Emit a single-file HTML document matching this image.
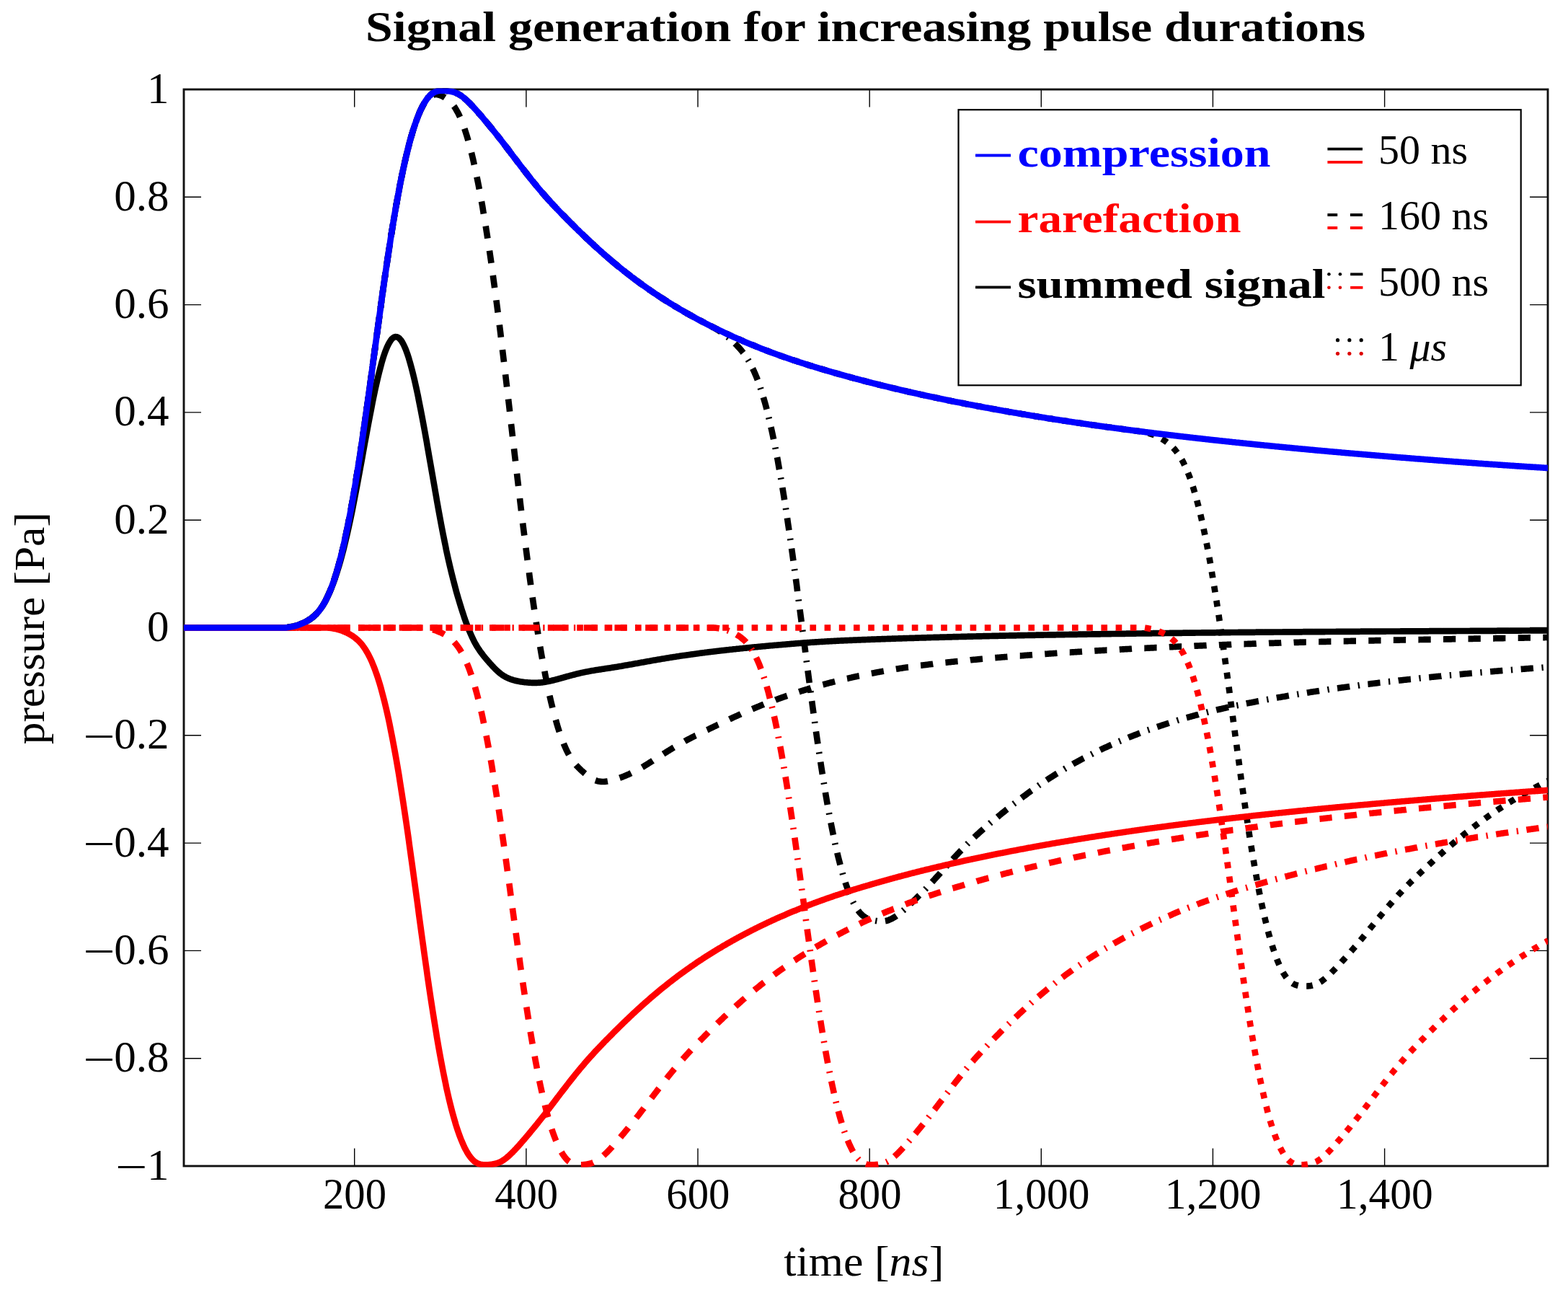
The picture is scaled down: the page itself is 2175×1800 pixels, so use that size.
<!DOCTYPE html>
<html><head><meta charset="utf-8"><style>
html,body{margin:0;padding:0;background:#fff;}
svg{display:block;}
text{font-family:"Liberation Serif",serif;}
</style></head><body>
<svg width="2175" height="1800" viewBox="0 0 2175 1800">
<rect width="2175" height="1800" fill="#fff"/>
<text x="1200.6" y="56.6" text-anchor="middle" font-weight="bold" font-size="58.5" textLength="1387" lengthAdjust="spacingAndGlyphs">Signal generation for increasing pulse durations</text>
<g font-size="61" fill="#000">
<text x="234.5" y="1635.5" text-anchor="end">1</text>
<text x="160.0" y="1639.0" textLength="44.5" lengthAdjust="spacingAndGlyphs">−</text>
<text x="234.5" y="1486.2" text-anchor="end">0.8</text>
<text x="115.2" y="1489.7" textLength="44.5" lengthAdjust="spacingAndGlyphs">−</text>
<text x="234.5" y="1336.9" text-anchor="end">0.6</text>
<text x="115.2" y="1340.4" textLength="44.5" lengthAdjust="spacingAndGlyphs">−</text>
<text x="234.5" y="1187.6" text-anchor="end">0.4</text>
<text x="115.2" y="1191.1" textLength="44.5" lengthAdjust="spacingAndGlyphs">−</text>
<text x="234.5" y="1038.3" text-anchor="end">0.2</text>
<text x="115.2" y="1041.8" textLength="44.5" lengthAdjust="spacingAndGlyphs">−</text>
<text x="234.5" y="889.0" text-anchor="end">0</text>
<text x="234.5" y="739.7" text-anchor="end">0.2</text>
<text x="234.5" y="590.4" text-anchor="end">0.4</text>
<text x="234.5" y="441.1" text-anchor="end">0.6</text>
<text x="234.5" y="291.8" text-anchor="end">0.8</text>
<text x="234.5" y="142.5" text-anchor="end">1</text>
<text x="492.0" y="1676" text-anchor="middle" textLength="88.0" lengthAdjust="spacingAndGlyphs">200</text>
<text x="730.2" y="1676" text-anchor="middle" textLength="88.0" lengthAdjust="spacingAndGlyphs">400</text>
<text x="968.3" y="1676" text-anchor="middle" textLength="88.0" lengthAdjust="spacingAndGlyphs">600</text>
<text x="1206.5" y="1676" text-anchor="middle" textLength="88.0" lengthAdjust="spacingAndGlyphs">800</text>
<text x="1444.6" y="1676" text-anchor="middle" textLength="133.8" lengthAdjust="spacingAndGlyphs">1,000</text>
<text x="1682.7" y="1676" text-anchor="middle" textLength="133.8" lengthAdjust="spacingAndGlyphs">1,200</text>
<text x="1920.9" y="1676" text-anchor="middle" textLength="133.8" lengthAdjust="spacingAndGlyphs">1,400</text>
</g>
<text x="1198.3" y="1769.3" text-anchor="middle" font-size="60" textLength="222" lengthAdjust="spacingAndGlyphs">time [<tspan font-style="italic">ns</tspan>]</text>
<text transform="translate(60.6,871.3) rotate(-90)" text-anchor="middle" font-size="60" textLength="322" lengthAdjust="spacingAndGlyphs">pressure [Pa]</text>
<path d="M255,1617.0 H279 M2147,1617.0 H2122 M255,1467.7 H279 M2147,1467.7 H2122 M255,1318.4 H279 M2147,1318.4 H2122 M255,1169.1 H279 M2147,1169.1 H2122 M255,1019.8 H279 M2147,1019.8 H2122 M255,870.5 H279 M2147,870.5 H2122 M255,721.2 H279 M2147,721.2 H2122 M255,571.9 H279 M2147,571.9 H2122 M255,422.6 H279 M2147,422.6 H2122 M255,273.3 H279 M2147,273.3 H2122 M255,124.0 H279 M2147,124.0 H2122 M491.7,1617 V1592.5 M491.7,124 V148.5 M729.9,1617 V1592.5 M729.9,124 V148.5 M968.0,1617 V1592.5 M968.0,124 V148.5 M1206.2,1617 V1592.5 M1206.2,124 V148.5 M1444.3,1617 V1592.5 M1444.3,124 V148.5 M1682.4,1617 V1592.5 M1682.4,124 V148.5 M1920.6,1617 V1592.5 M1920.6,124 V148.5" stroke="#000" stroke-width="1.4" fill="none"/>
<rect x="255" y="124" width="1892" height="1493" fill="none" stroke="#111" stroke-width="2.9"/>
<svg x="255" y="122.5" width="1892" height="1496" viewBox="255 122.5 1892 1496" overflow="hidden">
<g fill="none" stroke-width="8.66" stroke-linejoin="round">
<path d="M254.8,870.5 L256.0,870.5 L257.2,870.5 L258.4,870.5 L259.6,870.5 L260.7,870.5 L261.9,870.5 L263.1,870.5 L264.3,870.5 L265.5,870.5 L266.7,870.5 L267.9,870.5 L269.1,870.5 L270.3,870.5 L271.5,870.5 L272.7,870.5 L273.8,870.5 L275.0,870.5 L276.2,870.5 L277.4,870.5 L278.6,870.5 L279.8,870.5 L281.0,870.5 L282.2,870.5 L283.4,870.5 L284.6,870.5 L285.7,870.5 L286.9,870.5 L288.1,870.5 L289.3,870.5 L290.5,870.5 L291.7,870.5 L292.9,870.5 L294.1,870.5 L295.3,870.5 L296.5,870.5 L297.7,870.5 L298.8,870.5 L300.0,870.5 L301.2,870.5 L302.4,870.5 L303.6,870.5 L304.8,870.5 L306.0,870.5 L307.2,870.5 L308.4,870.5 L309.6,870.5 L310.8,870.5 L311.9,870.5 L313.1,870.5 L314.3,870.5 L315.5,870.5 L316.7,870.5 L317.9,870.5 L319.1,870.5 L320.3,870.5 L321.5,870.5 L322.7,870.5 L323.9,870.5 L325.0,870.5 L326.2,870.5 L327.4,870.5 L328.6,870.5 L329.8,870.5 L331.0,870.5 L332.2,870.5 L333.4,870.5 L334.6,870.5 L335.8,870.5 L336.9,870.5 L338.1,870.5 L339.3,870.5 L340.5,870.5 L341.7,870.5 L342.9,870.5 L344.1,870.5 L345.3,870.5 L346.5,870.5 L347.7,870.5 L348.9,870.5 L350.0,870.5 L351.2,870.5 L352.4,870.5 L353.6,870.5 L354.8,870.5 L356.0,870.5 L357.2,870.5 L358.4,870.5 L359.6,870.5 L360.8,870.5 L362.0,870.5 L363.1,870.5 L364.3,870.5 L365.5,870.5 L366.7,870.5 L367.9,870.5 L369.1,870.5 L370.3,870.5 L371.5,870.5 L372.7,870.5 L373.9,870.5 L375.1,870.5 L376.2,870.5 L377.4,870.5 L378.6,870.5 L379.8,870.5 L381.0,870.5 L382.2,870.5 L383.4,870.5 L384.6,870.5 L385.8,870.5 L387.0,870.5 L388.1,870.5 L389.3,870.5 L390.5,870.5 L391.7,870.5 L392.9,870.5 L394.1,870.5 L395.3,870.5 L396.5,870.4 L397.7,870.2 L398.9,870.1 L400.1,869.9 L401.2,869.7 L402.4,869.5 L403.6,869.3 L404.8,869.1 L406.0,868.9 L407.2,868.6 L408.4,868.3 L409.6,868.0 L410.8,867.6 L412.0,867.3 L413.2,866.9 L414.3,866.5 L415.5,866.1 L416.7,865.6 L417.9,865.1 L419.1,864.6 L420.3,864.1 L421.5,863.5 L422.7,862.9 L423.9,862.3 L425.1,861.7 L426.3,861.0 L427.4,860.3 L428.6,859.6 L429.8,858.8 L431.0,858.0 L432.2,857.1 L433.4,856.2 L434.6,855.2 L435.8,854.2 L437.0,853.1 L438.2,852.0 L439.3,850.8 L440.5,849.4 L441.7,848.1 L442.9,846.6 L444.1,845.0 L445.3,843.4 L446.5,841.6 L447.7,839.8 L448.9,837.8 L450.1,835.8 L451.3,833.6 L452.4,831.3 L453.6,828.9 L454.8,826.4 L456.0,823.9 L457.2,821.3 L458.4,818.5 L459.6,815.7 L460.8,812.7 L462.0,809.6 L463.2,806.3 L464.4,803.0 L465.5,799.5 L466.7,795.9 L467.9,792.2 L469.1,788.3 L470.3,784.4 L471.5,780.3 L472.7,776.0 L473.9,771.7 L475.1,767.2 L476.3,762.6 L477.5,757.8 L478.6,753.0 L479.8,748.0 L481.0,742.9 L482.2,737.7 L483.4,732.3 L484.6,726.9 L485.8,721.3 L487.0,715.6 L488.2,709.8 L489.4,703.9 L490.5,697.9 L491.7,691.8 L492.9,685.7 L494.1,679.4 L495.3,673.1 L496.5,666.7 L497.7,660.3 L498.9,653.8 L500.1,647.3 L501.3,640.8 L502.5,634.3 L503.6,627.7 L504.8,621.2 L506.0,614.6 L507.2,608.1 L508.4,601.6 L509.6,595.2 L510.8,588.8 L512.0,582.5 L513.2,576.2 L514.4,570.1 L515.6,564.0 L516.7,558.0 L517.9,552.1 L519.1,546.4 L520.3,540.7 L521.5,535.3 L522.7,530.0 L523.9,524.8 L525.1,519.8 L526.3,515.0 L527.5,510.4 L528.7,505.9 L529.8,501.7 L531.0,497.7 L532.2,493.9 L533.4,490.4 L534.6,487.1 L535.8,484.0 L537.0,481.1 L538.2,478.6 L539.4,476.2 L540.6,474.2 L541.7,472.4 L542.9,470.8 L544.1,469.5 L545.3,468.5 L546.5,467.8 L547.7,467.3 L548.9,467.1 L550.1,467.2 L551.3,467.5 L552.5,468.1 L553.7,469.0 L554.8,470.2 L556.0,471.6 L557.2,473.3 L558.4,475.3 L559.6,477.5 L560.8,480.0 L562.0,482.7 L563.2,485.7 L564.4,488.9 L565.6,492.3 L566.8,496.0 L567.9,499.9 L569.1,504.0 L570.3,508.4 L571.5,512.9 L572.7,517.6 L573.9,522.5 L575.1,527.6 L576.3,532.9 L577.5,538.3 L578.7,543.8 L579.9,549.5 L581.0,555.4 L582.2,561.3 L583.4,567.4 L584.6,573.6 L585.8,579.9 L587.0,586.3 L588.2,592.8 L589.4,599.3 L590.6,605.9 L591.8,612.6 L592.9,619.3 L594.1,626.1 L595.3,632.9 L596.5,639.7 L597.7,646.5 L598.9,653.4 L600.1,660.3 L601.3,667.2 L602.5,674.0 L603.7,680.9 L604.9,687.7 L606.0,694.4 L607.2,701.1 L608.4,707.8 L609.6,714.3 L610.8,720.8 L612.0,727.2 L613.2,733.5 L614.4,739.7 L615.6,745.7 L616.8,751.6 L618.0,757.4 L619.1,763.1 L620.3,768.6 L621.5,774.1 L622.7,779.3 L623.9,784.5 L625.1,789.5 L626.3,794.5 L627.5,799.3 L628.7,804.0 L629.9,808.6 L631.1,813.1 L632.2,817.5 L633.4,821.8 L634.6,826.0 L635.8,830.1 L637.0,834.1 L638.2,838.1 L639.4,841.9 L640.6,845.7 L641.8,849.4 L643.0,853.0 L644.1,856.5 L645.3,859.9 L646.5,863.2 L647.7,866.4 L648.9,869.6 L650.1,872.6 L651.3,875.5 L652.5,878.3 L653.7,881.0 L654.9,883.6 L656.1,886.1 L657.2,888.5 L658.4,890.8 L659.6,892.9 L660.8,895.0 L662.0,897.0 L663.2,898.9 L664.4,900.7 L665.6,902.5 L666.8,904.2 L668.0,905.8 L669.2,907.3 L670.3,908.9 L671.5,910.4 L672.7,911.8 L673.9,913.2 L675.1,914.6 L676.3,916.0 L677.5,917.4 L678.7,918.7 L679.9,920.1 L681.1,921.4 L682.3,922.7 L683.4,924.0 L684.6,925.3 L685.8,926.5 L687.0,927.7 L688.2,928.9 L689.4,930.0 L690.6,931.1 L691.8,932.1 L693.0,933.1 L694.2,934.1 L695.3,935.0 L696.5,935.8 L697.7,936.6 L698.9,937.4 L700.1,938.1 L701.3,938.8 L702.5,939.4 L703.7,940.0 L704.9,940.5 L706.1,941.0 L707.3,941.5 L708.4,941.9 L709.6,942.3 L710.8,942.7 L712.0,943.1 L713.2,943.4 L714.4,943.7 L715.6,944.0 L716.8,944.3 L718.0,944.6 L719.2,944.8 L720.4,945.0 L721.5,945.2 L722.7,945.4 L723.9,945.6 L725.1,945.8 L726.3,945.9 L727.5,946.1 L728.7,946.2 L729.9,946.3 L731.1,946.4 L732.3,946.5 L733.5,946.6 L734.6,946.7 L735.8,946.7 L737.0,946.8 L738.2,946.8 L739.4,946.8 L740.6,946.9 L741.8,946.9 L743.0,946.9 L744.2,946.8 L745.4,946.8 L746.5,946.7 L747.7,946.7 L748.9,946.6 L750.1,946.5 L751.3,946.4 L752.5,946.2 L753.7,946.1 L754.9,945.9 L756.1,945.7 L757.3,945.5 L758.5,945.3 L759.6,945.1 L760.8,944.9 L762.0,944.6 L763.2,944.4 L764.4,944.1 L765.6,943.8 L766.8,943.5 L768.0,943.2 L769.2,942.9 L770.4,942.6 L771.6,942.3 L772.7,942.0 L773.9,941.7 L775.1,941.3 L776.3,941.0 L777.5,940.7 L778.7,940.3 L779.9,940.0 L781.1,939.7 L782.3,939.3 L783.5,939.0 L784.7,938.7 L785.8,938.3 L787.0,938.0 L788.2,937.7 L789.4,937.4 L790.6,937.0 L791.8,936.7 L793.0,936.4 L794.2,936.1 L795.4,935.8 L796.6,935.5 L797.7,935.2 L798.9,934.8 L800.1,934.6 L801.3,934.3 L802.5,934.0 L803.7,933.7 L804.9,933.4 L806.1,933.1 L807.3,932.9 L808.5,932.6 L809.7,932.4 L810.8,932.1 L812.0,931.9 L813.2,931.6 L814.4,931.4 L815.6,931.2 L816.8,930.9 L818.0,930.7 L819.2,930.5 L820.4,930.3 L821.6,930.1 L822.8,929.9 L823.9,929.7 L825.1,929.5 L826.3,929.3 L827.5,929.1 L828.7,928.9 L829.9,928.7 L831.1,928.5 L832.3,928.4 L833.5,928.2 L834.7,928.0 L835.9,927.8 L837.0,927.7 L838.2,927.5 L839.4,927.3 L840.6,927.1 L841.8,926.9 L843.0,926.8 L844.2,926.6 L845.4,926.4 L846.6,926.2 L847.8,926.0 L849.0,925.8 L850.1,925.6 L851.3,925.5 L852.5,925.3 L853.7,925.1 L854.9,924.9 L856.1,924.7 L857.3,924.5 L858.5,924.3 L859.7,924.1 L860.9,923.9 L862.0,923.7 L863.2,923.5 L864.4,923.2 L865.6,923.0 L866.8,922.8 L868.0,922.6 L869.2,922.4 L870.4,922.2 L871.6,922.0 L872.8,921.8 L874.0,921.6 L875.1,921.4 L876.3,921.2 L877.5,920.9 L878.7,920.7 L879.9,920.5 L881.1,920.3 L882.3,920.1 L883.5,919.9 L884.7,919.7 L885.9,919.4 L887.1,919.2 L888.2,919.0 L889.4,918.8 L890.6,918.6 L891.8,918.4 L893.0,918.2 L894.2,917.9 L895.4,917.7 L896.6,917.5 L897.8,917.3 L899.0,917.1 L900.2,916.9 L901.3,916.7 L902.5,916.4 L903.7,916.2 L904.9,916.0 L906.1,915.8 L907.3,915.6 L908.5,915.4 L909.7,915.2 L910.9,915.0 L912.1,914.8 L913.2,914.6 L914.4,914.4 L915.6,914.2 L916.8,914.0 L918.0,913.8 L919.2,913.6 L920.4,913.4 L921.6,913.2 L922.8,913.0 L924.0,912.8 L925.2,912.6 L926.3,912.4 L927.5,912.2 L928.7,912.0 L929.9,911.8 L931.1,911.6 L932.3,911.5 L933.5,911.3 L934.7,911.1 L935.9,910.9 L937.1,910.7 L938.3,910.5 L939.4,910.3 L940.6,910.2 L941.8,910.0 L943.0,909.8 L944.2,909.6 L945.4,909.4 L946.6,909.3 L947.8,909.1 L949.0,908.9 L950.2,908.7 L951.4,908.6 L952.5,908.4 L953.7,908.2 L954.9,908.1 L956.1,907.9 L957.3,907.7 L958.5,907.5 L959.7,907.4 L960.9,907.2 L962.1,907.1 L963.3,906.9 L964.4,906.7 L965.6,906.6 L966.8,906.4 L968.0,906.2 L969.2,906.1 L970.4,905.9 L971.6,905.8 L972.8,905.6 L974.0,905.5 L975.2,905.3 L976.4,905.2 L977.5,905.0 L978.7,904.8 L979.9,904.7 L981.1,904.5 L982.3,904.4 L983.5,904.3 L984.7,904.1 L985.9,904.0 L987.1,903.8 L988.3,903.7 L989.5,903.5 L990.6,903.4 L991.8,903.2 L993.0,903.1 L994.2,903.0 L995.4,902.8 L996.6,902.7 L997.8,902.5 L999.0,902.4 L1000.2,902.3 L1001.4,902.1 L1002.6,902.0 L1003.7,901.9 L1004.9,901.7 L1006.1,901.6 L1007.3,901.5 L1008.5,901.3 L1009.7,901.2 L1010.9,901.1 L1012.1,900.9 L1013.3,900.8 L1014.5,900.7 L1015.6,900.6 L1016.8,900.4 L1018.0,900.3 L1019.2,900.2 L1020.4,900.1 L1021.6,899.9 L1022.8,899.8 L1024.0,899.7 L1025.2,899.6 L1026.4,899.4 L1027.6,899.3 L1028.7,899.2 L1029.9,899.1 L1031.1,898.9 L1032.3,898.8 L1033.5,898.7 L1034.7,898.6 L1035.9,898.5 L1037.1,898.3 L1038.3,898.2 L1039.5,898.1 L1040.7,898.0 L1041.8,897.9 L1043.0,897.8 L1044.2,897.6 L1045.4,897.5 L1046.6,897.4 L1047.8,897.3 L1049.0,897.2 L1050.2,897.1 L1051.4,897.0 L1052.6,896.8 L1053.8,896.7 L1054.9,896.6 L1056.1,896.5 L1057.3,896.4 L1058.5,896.3 L1059.7,896.2 L1060.9,896.1 L1062.1,896.0 L1063.3,895.8 L1064.5,895.7 L1065.7,895.6 L1066.8,895.5 L1068.0,895.4 L1069.2,895.3 L1070.4,895.2 L1071.6,895.1 L1072.8,895.0 L1074.0,894.9 L1075.2,894.8 L1076.4,894.7 L1077.6,894.6 L1078.8,894.5 L1079.9,894.4 L1081.1,894.3 L1082.3,894.2 L1083.5,894.1 L1084.7,894.0 L1085.9,893.9 L1087.1,893.8 L1088.3,893.7 L1089.5,893.6 L1090.7,893.5 L1091.9,893.4 L1093.0,893.3 L1094.2,893.2 L1095.4,893.1 L1096.6,893.0 L1097.8,892.9 L1099.0,892.8 L1100.2,892.7 L1101.4,892.6 L1102.6,892.5 L1103.8,892.4 L1105.0,892.3 L1106.1,892.2 L1107.3,892.1 L1108.5,892.0 L1109.7,892.0 L1110.9,891.9 L1112.1,891.8 L1113.3,891.7 L1114.5,891.6 L1115.7,891.5 L1116.9,891.4 L1118.0,891.3 L1119.2,891.2 L1120.4,891.2 L1121.6,891.1 L1122.8,891.0 L1124.0,890.9 L1125.2,890.8 L1126.4,890.7 L1127.6,890.7 L1128.8,890.6 L1130.0,890.5 L1131.1,890.4 L1132.3,890.4 L1133.5,890.3 L1134.7,890.2 L1135.9,890.1 L1137.1,890.0 L1138.3,890.0 L1139.5,889.9 L1140.7,889.8 L1141.9,889.8 L1143.1,889.7 L1144.2,889.6 L1145.4,889.5 L1146.6,889.5 L1147.8,889.4 L1149.0,889.3 L1150.2,889.3 L1151.4,889.2 L1152.6,889.1 L1153.8,889.1 L1155.0,889.0 L1156.2,889.0 L1157.3,888.9 L1158.5,888.8 L1159.7,888.8 L1160.9,888.7 L1162.1,888.7 L1163.3,888.6 L1164.5,888.5 L1165.7,888.5 L1166.9,888.4 L1168.1,888.4 L1169.2,888.3 L1170.4,888.3 L1171.6,888.2 L1172.8,888.2 L1174.0,888.1 L1175.2,888.1 L1176.4,888.0 L1177.6,888.0 L1178.8,887.9 L1180.0,887.9 L1181.2,887.8 L1182.3,887.8 L1183.5,887.7 L1184.7,887.7 L1185.9,887.6 L1187.1,887.6 L1188.3,887.5 L1189.5,887.5 L1190.7,887.4 L1191.9,887.4 L1193.1,887.3 L1194.3,887.3 L1195.4,887.2 L1196.6,887.2 L1197.8,887.1 L1199.0,887.1 L1200.2,887.1 L1201.4,887.0 L1202.6,887.0 L1203.8,886.9 L1205.0,886.9 L1206.2,886.8 L1207.4,886.8 L1208.5,886.7 L1209.7,886.7 L1210.9,886.7 L1212.1,886.6 L1213.3,886.6 L1214.5,886.5 L1215.7,886.5 L1216.9,886.4 L1218.1,886.4 L1219.3,886.4 L1220.4,886.3 L1221.6,886.3 L1222.8,886.2 L1224.0,886.2 L1225.2,886.2 L1226.4,886.1 L1227.6,886.1 L1228.8,886.0 L1230.0,886.0 L1231.2,885.9 L1232.4,885.9 L1233.5,885.9 L1234.7,885.8 L1235.9,885.8 L1237.1,885.7 L1238.3,885.7 L1239.5,885.7 L1240.7,885.6 L1241.9,885.6 L1243.1,885.5 L1244.3,885.5 L1245.5,885.5 L1246.6,885.4 L1247.8,885.4 L1249.0,885.4 L1250.2,885.3 L1251.4,885.3 L1252.6,885.2 L1253.8,885.2 L1255.0,885.2 L1256.2,885.1 L1257.4,885.1 L1258.6,885.0 L1259.7,885.0 L1260.9,885.0 L1262.1,884.9 L1263.3,884.9 L1264.5,884.9 L1265.7,884.8 L1266.9,884.8 L1268.1,884.8 L1269.3,884.7 L1270.5,884.7 L1271.6,884.6 L1272.8,884.6 L1274.0,884.6 L1275.2,884.5 L1276.4,884.5 L1277.6,884.5 L1278.8,884.4 L1280.0,884.4 L1281.2,884.4 L1282.4,884.3 L1283.6,884.3 L1284.7,884.3 L1285.9,884.2 L1287.1,884.2 L1288.3,884.2 L1289.5,884.1 L1290.7,884.1 L1291.9,884.0 L1293.1,884.0 L1294.3,884.0 L1295.5,883.9 L1296.7,883.9 L1297.8,883.9 L1299.0,883.8 L1300.2,883.8 L1301.4,883.8 L1302.6,883.8 L1303.8,883.7 L1305.0,883.7 L1306.2,883.7 L1307.4,883.6 L1308.6,883.6 L1309.8,883.6 L1310.9,883.5 L1312.1,883.5 L1313.3,883.5 L1314.5,883.4 L1315.7,883.4 L1316.9,883.4 L1318.1,883.3 L1319.3,883.3 L1320.5,883.3 L1321.7,883.2 L1322.8,883.2 L1324.0,883.2 L1325.2,883.2 L1326.4,883.1 L1327.6,883.1 L1328.8,883.1 L1330.0,883.0 L1331.2,883.0 L1332.4,883.0 L1333.6,882.9 L1334.8,882.9 L1335.9,882.9 L1337.1,882.9 L1338.3,882.8 L1339.5,882.8 L1340.7,882.8 L1341.9,882.7 L1343.1,882.7 L1344.3,882.7 L1345.5,882.7 L1346.7,882.6 L1347.9,882.6 L1349.0,882.6 L1350.2,882.5 L1351.4,882.5 L1352.6,882.5 L1353.8,882.5 L1355.0,882.4 L1356.2,882.4 L1357.4,882.4 L1358.6,882.3 L1359.8,882.3 L1361.0,882.3 L1362.1,882.3 L1363.3,882.2 L1364.5,882.2 L1365.7,882.2 L1366.9,882.2 L1368.1,882.1 L1369.3,882.1 L1370.5,882.1 L1371.7,882.1 L1372.9,882.0 L1374.0,882.0 L1375.2,882.0 L1376.4,881.9 L1377.6,881.9 L1378.8,881.9 L1380.0,881.9 L1381.2,881.8 L1382.4,881.8 L1383.6,881.8 L1384.8,881.8 L1386.0,881.7 L1387.1,881.7 L1388.3,881.7 L1389.5,881.7 L1390.7,881.6 L1391.9,881.6 L1393.1,881.6 L1394.3,881.6 L1395.5,881.5 L1396.7,881.5 L1397.9,881.5 L1399.1,881.5 L1400.2,881.4 L1401.4,881.4 L1402.6,881.4 L1403.8,881.4 L1405.0,881.4 L1406.2,881.3 L1407.4,881.3 L1408.6,881.3 L1409.8,881.3 L1411.0,881.2 L1412.2,881.2 L1413.3,881.2 L1414.5,881.2 L1415.7,881.1 L1416.9,881.1 L1418.1,881.1 L1419.3,881.1 L1420.5,881.1 L1421.7,881.0 L1422.9,881.0 L1424.1,881.0 L1425.2,881.0 L1426.4,880.9 L1427.6,880.9 L1428.8,880.9 L1430.0,880.9 L1431.2,880.9 L1432.4,880.8 L1433.6,880.8 L1434.8,880.8 L1436.0,880.8 L1437.2,880.7 L1438.3,880.7 L1439.5,880.7 L1440.7,880.7 L1441.9,880.7 L1443.1,880.6 L1444.3,880.6 L1445.5,880.6 L1446.7,880.6 L1447.9,880.5 L1449.1,880.5 L1450.3,880.5 L1451.4,880.5 L1452.6,880.5 L1453.8,880.4 L1455.0,880.4 L1456.2,880.4 L1457.4,880.4 L1458.6,880.4 L1459.8,880.3 L1461.0,880.3 L1462.2,880.3 L1463.4,880.3 L1464.5,880.3 L1465.7,880.2 L1466.9,880.2 L1468.1,880.2 L1469.3,880.2 L1470.5,880.2 L1471.7,880.1 L1472.9,880.1 L1474.1,880.1 L1475.3,880.1 L1476.4,880.1 L1477.6,880.0 L1478.8,880.0 L1480.0,880.0 L1481.2,880.0 L1482.4,880.0 L1483.6,879.9 L1484.8,879.9 L1486.0,879.9 L1487.2,879.9 L1488.4,879.9 L1489.5,879.8 L1490.7,879.8 L1491.9,879.8 L1493.1,879.8 L1494.3,879.8 L1495.5,879.7 L1496.7,879.7 L1497.9,879.7 L1499.1,879.7 L1500.3,879.7 L1501.5,879.6 L1502.6,879.6 L1503.8,879.6 L1505.0,879.6 L1506.2,879.6 L1507.4,879.6 L1508.6,879.5 L1509.8,879.5 L1511.0,879.5 L1512.2,879.5 L1513.4,879.5 L1514.6,879.4 L1515.7,879.4 L1516.9,879.4 L1518.1,879.4 L1519.3,879.4 L1520.5,879.4 L1521.7,879.3 L1522.9,879.3 L1524.1,879.3 L1525.3,879.3 L1526.5,879.3 L1527.6,879.2 L1528.8,879.2 L1530.0,879.2 L1531.2,879.2 L1532.4,879.2 L1533.6,879.2 L1534.8,879.1 L1536.0,879.1 L1537.2,879.1 L1538.4,879.1 L1539.6,879.1 L1540.7,879.1 L1541.9,879.0 L1543.1,879.0 L1544.3,879.0 L1545.5,879.0 L1546.7,879.0 L1547.9,878.9 L1549.1,878.9 L1550.3,878.9 L1551.5,878.9 L1552.7,878.9 L1553.8,878.9 L1555.0,878.8 L1556.2,878.8 L1557.4,878.8 L1558.6,878.8 L1559.8,878.8 L1561.0,878.8 L1562.2,878.7 L1563.4,878.7 L1564.6,878.7 L1565.8,878.7 L1566.9,878.7 L1568.1,878.7 L1569.3,878.6 L1570.5,878.6 L1571.7,878.6 L1572.9,878.6 L1574.1,878.6 L1575.3,878.6 L1576.5,878.5 L1577.7,878.5 L1578.8,878.5 L1580.0,878.5 L1581.2,878.5 L1582.4,878.5 L1583.6,878.5 L1584.8,878.4 L1586.0,878.4 L1587.2,878.4 L1588.4,878.4 L1589.6,878.4 L1590.8,878.4 L1591.9,878.3 L1593.1,878.3 L1594.3,878.3 L1595.5,878.3 L1596.7,878.3 L1597.9,878.3 L1599.1,878.2 L1600.3,878.2 L1601.5,878.2 L1602.7,878.2 L1603.9,878.2 L1605.0,878.2 L1606.2,878.2 L1607.4,878.1 L1608.6,878.1 L1609.8,878.1 L1611.0,878.1 L1612.2,878.1 L1613.4,878.1 L1614.6,878.1 L1615.8,878.0 L1617.0,878.0 L1618.1,878.0 L1619.3,878.0 L1620.5,878.0 L1621.7,878.0 L1622.9,877.9 L1624.1,877.9 L1625.3,877.9 L1626.5,877.9 L1627.7,877.9 L1628.9,877.9 L1630.0,877.9 L1631.2,877.8 L1632.4,877.8 L1633.6,877.8 L1634.8,877.8 L1636.0,877.8 L1637.2,877.8 L1638.4,877.8 L1639.6,877.8 L1640.8,877.7 L1642.0,877.7 L1643.1,877.7 L1644.3,877.7 L1645.5,877.7 L1646.7,877.7 L1647.9,877.7 L1649.1,877.6 L1650.3,877.6 L1651.5,877.6 L1652.7,877.6 L1653.9,877.6 L1655.1,877.6 L1656.2,877.6 L1657.4,877.6 L1658.6,877.5 L1659.8,877.5 L1661.0,877.5 L1662.2,877.5 L1663.4,877.5 L1664.6,877.5 L1665.8,877.5 L1667.0,877.4 L1668.2,877.4 L1669.3,877.4 L1670.5,877.4 L1671.7,877.4 L1672.9,877.4 L1674.1,877.4 L1675.3,877.4 L1676.5,877.4 L1677.7,877.3 L1678.9,877.3 L1680.1,877.3 L1681.2,877.3 L1682.4,877.3 L1683.6,877.3 L1684.8,877.3 L1686.0,877.3 L1687.2,877.2 L1688.4,877.2 L1689.6,877.2 L1690.8,877.2 L1692.0,877.2 L1693.2,877.2 L1694.3,877.2 L1695.5,877.2 L1696.7,877.1 L1697.9,877.1 L1699.1,877.1 L1700.3,877.1 L1701.5,877.1 L1702.7,877.1 L1703.9,877.1 L1705.1,877.1 L1706.3,877.1 L1707.4,877.0 L1708.6,877.0 L1709.8,877.0 L1711.0,877.0 L1712.2,877.0 L1713.4,877.0 L1714.6,877.0 L1715.8,877.0 L1717.0,877.0 L1718.2,876.9 L1719.4,876.9 L1720.5,876.9 L1721.7,876.9 L1722.9,876.9 L1724.1,876.9 L1725.3,876.9 L1726.5,876.9 L1727.7,876.9 L1728.9,876.9 L1730.1,876.8 L1731.3,876.8 L1732.4,876.8 L1733.6,876.8 L1734.8,876.8 L1736.0,876.8 L1737.2,876.8 L1738.4,876.8 L1739.6,876.8 L1740.8,876.8 L1742.0,876.7 L1743.2,876.7 L1744.4,876.7 L1745.5,876.7 L1746.7,876.7 L1747.9,876.7 L1749.1,876.7 L1750.3,876.7 L1751.5,876.7 L1752.7,876.7 L1753.9,876.6 L1755.1,876.6 L1756.3,876.6 L1757.5,876.6 L1758.6,876.6 L1759.8,876.6 L1761.0,876.6 L1762.2,876.6 L1763.4,876.6 L1764.6,876.6 L1765.8,876.6 L1767.0,876.5 L1768.2,876.5 L1769.4,876.5 L1770.6,876.5 L1771.7,876.5 L1772.9,876.5 L1774.1,876.5 L1775.3,876.5 L1776.5,876.5 L1777.7,876.5 L1778.9,876.5 L1780.1,876.4 L1781.3,876.4 L1782.5,876.4 L1783.6,876.4 L1784.8,876.4 L1786.0,876.4 L1787.2,876.4 L1788.4,876.4 L1789.6,876.4 L1790.8,876.4 L1792.0,876.4 L1793.2,876.3 L1794.4,876.3 L1795.6,876.3 L1796.7,876.3 L1797.9,876.3 L1799.1,876.3 L1800.3,876.3 L1801.5,876.3 L1802.7,876.3 L1803.9,876.3 L1805.1,876.3 L1806.3,876.3 L1807.5,876.2 L1808.7,876.2 L1809.8,876.2 L1811.0,876.2 L1812.2,876.2 L1813.4,876.2 L1814.6,876.2 L1815.8,876.2 L1817.0,876.2 L1818.2,876.2 L1819.4,876.2 L1820.6,876.2 L1821.8,876.2 L1822.9,876.1 L1824.1,876.1 L1825.3,876.1 L1826.5,876.1 L1827.7,876.1 L1828.9,876.1 L1830.1,876.1 L1831.3,876.1 L1832.5,876.1 L1833.7,876.1 L1834.8,876.1 L1836.0,876.1 L1837.2,876.1 L1838.4,876.0 L1839.6,876.0 L1840.8,876.0 L1842.0,876.0 L1843.2,876.0 L1844.4,876.0 L1845.6,876.0 L1846.8,876.0 L1847.9,876.0 L1849.1,876.0 L1850.3,876.0 L1851.5,876.0 L1852.7,876.0 L1853.9,875.9 L1855.1,875.9 L1856.3,875.9 L1857.5,875.9 L1858.7,875.9 L1859.9,875.9 L1861.0,875.9 L1862.2,875.9 L1863.4,875.9 L1864.6,875.9 L1865.8,875.9 L1867.0,875.9 L1868.2,875.9 L1869.4,875.9 L1870.6,875.8 L1871.8,875.8 L1873.0,875.8 L1874.1,875.8 L1875.3,875.8 L1876.5,875.8 L1877.7,875.8 L1878.9,875.8 L1880.1,875.8 L1881.3,875.8 L1882.5,875.8 L1883.7,875.8 L1884.9,875.8 L1886.0,875.8 L1887.2,875.7 L1888.4,875.7 L1889.6,875.7 L1890.8,875.7 L1892.0,875.7 L1893.2,875.7 L1894.4,875.7 L1895.6,875.7 L1896.8,875.7 L1898.0,875.7 L1899.1,875.7 L1900.3,875.7 L1901.5,875.7 L1902.7,875.7 L1903.9,875.7 L1905.1,875.6 L1906.3,875.6 L1907.5,875.6 L1908.7,875.6 L1909.9,875.6 L1911.1,875.6 L1912.2,875.6 L1913.4,875.6 L1914.6,875.6 L1915.8,875.6 L1917.0,875.6 L1918.2,875.6 L1919.4,875.6 L1920.6,875.6 L1921.8,875.6 L1923.0,875.5 L1924.2,875.5 L1925.3,875.5 L1926.5,875.5 L1927.7,875.5 L1928.9,875.5 L1930.1,875.5 L1931.3,875.5 L1932.5,875.5 L1933.7,875.5 L1934.9,875.5 L1936.1,875.5 L1937.2,875.5 L1938.4,875.5 L1939.6,875.5 L1940.8,875.5 L1942.0,875.5 L1943.2,875.4 L1944.4,875.4 L1945.6,875.4 L1946.8,875.4 L1948.0,875.4 L1949.2,875.4 L1950.3,875.4 L1951.5,875.4 L1952.7,875.4 L1953.9,875.4 L1955.1,875.4 L1956.3,875.4 L1957.5,875.4 L1958.7,875.4 L1959.9,875.4 L1961.1,875.4 L1962.3,875.3 L1963.4,875.3 L1964.6,875.3 L1965.8,875.3 L1967.0,875.3 L1968.2,875.3 L1969.4,875.3 L1970.6,875.3 L1971.8,875.3 L1973.0,875.3 L1974.2,875.3 L1975.4,875.3 L1976.5,875.3 L1977.7,875.3 L1978.9,875.3 L1980.1,875.3 L1981.3,875.3 L1982.5,875.2 L1983.7,875.2 L1984.9,875.2 L1986.1,875.2 L1987.3,875.2 L1988.4,875.2 L1989.6,875.2 L1990.8,875.2 L1992.0,875.2 L1993.2,875.2 L1994.4,875.2 L1995.6,875.2 L1996.8,875.2 L1998.0,875.2 L1999.2,875.2 L2000.4,875.2 L2001.5,875.1 L2002.7,875.1 L2003.9,875.1 L2005.1,875.1 L2006.3,875.1 L2007.5,875.1 L2008.7,875.1 L2009.9,875.1 L2011.1,875.1 L2012.3,875.1 L2013.5,875.1 L2014.6,875.1 L2015.8,875.1 L2017.0,875.1 L2018.2,875.1 L2019.4,875.1 L2020.6,875.0 L2021.8,875.0 L2023.0,875.0 L2024.2,875.0 L2025.4,875.0 L2026.6,875.0 L2027.7,875.0 L2028.9,875.0 L2030.1,875.0 L2031.3,875.0 L2032.5,875.0 L2033.7,875.0 L2034.9,875.0 L2036.1,875.0 L2037.3,875.0 L2038.5,875.0 L2039.7,874.9 L2040.8,874.9 L2042.0,874.9 L2043.2,874.9 L2044.4,874.9 L2045.6,874.9 L2046.8,874.9 L2048.0,874.9 L2049.2,874.9 L2050.4,874.9 L2051.6,874.9 L2052.7,874.9 L2053.9,874.9 L2055.1,874.9 L2056.3,874.9 L2057.5,874.9 L2058.7,874.8 L2059.9,874.8 L2061.1,874.8 L2062.3,874.8 L2063.5,874.8 L2064.7,874.8 L2065.8,874.8 L2067.0,874.8 L2068.2,874.8 L2069.4,874.8 L2070.6,874.8 L2071.8,874.8 L2073.0,874.8 L2074.2,874.8 L2075.4,874.8 L2076.6,874.7 L2077.8,874.7 L2078.9,874.7 L2080.1,874.7 L2081.3,874.7 L2082.5,874.7 L2083.7,874.7 L2084.9,874.7 L2086.1,874.7 L2087.3,874.7 L2088.5,874.7 L2089.7,874.7 L2090.9,874.7 L2092.0,874.7 L2093.2,874.7 L2094.4,874.6 L2095.6,874.6 L2096.8,874.6 L2098.0,874.6 L2099.2,874.6 L2100.4,874.6 L2101.6,874.6 L2102.8,874.6 L2103.9,874.6 L2105.1,874.6 L2106.3,874.6 L2107.5,874.6 L2108.7,874.6 L2109.9,874.6 L2111.1,874.5 L2112.3,874.5 L2113.5,874.5 L2114.7,874.5 L2115.9,874.5 L2117.0,874.5 L2118.2,874.5 L2119.4,874.5 L2120.6,874.5 L2121.8,874.5 L2123.0,874.5 L2124.2,874.5 L2125.4,874.5 L2126.6,874.5 L2127.8,874.5 L2129.0,874.4 L2130.1,874.4 L2131.3,874.4 L2132.5,874.4 L2133.7,874.4 L2134.9,874.4 L2136.1,874.4 L2137.3,874.4 L2138.5,874.4 L2139.7,874.4 L2140.9,874.4 L2142.1,874.4 L2143.2,874.4 L2144.4,874.3 L2145.6,874.3 L2146.8,874.3 L2147.3,874.3" stroke="#000" />
<path d="M254.8,870.5 L256.0,870.5 L257.2,870.5 L258.4,870.5 L259.6,870.5 L260.7,870.5 L261.9,870.5 L263.1,870.5 L264.3,870.5 L265.5,870.5 L266.7,870.5 L267.9,870.5 L269.1,870.5 L270.3,870.5 L271.5,870.5 L272.7,870.5 L273.8,870.5 L275.0,870.5 L276.2,870.5 L277.4,870.5 L278.6,870.5 L279.8,870.5 L281.0,870.5 L282.2,870.5 L283.4,870.5 L284.6,870.5 L285.7,870.5 L286.9,870.5 L288.1,870.5 L289.3,870.5 L290.5,870.5 L291.7,870.5 L292.9,870.5 L294.1,870.5 L295.3,870.5 L296.5,870.5 L297.7,870.5 L298.8,870.5 L300.0,870.5 L301.2,870.5 L302.4,870.5 L303.6,870.5 L304.8,870.5 L306.0,870.5 L307.2,870.5 L308.4,870.5 L309.6,870.5 L310.8,870.5 L311.9,870.5 L313.1,870.5 L314.3,870.5 L315.5,870.5 L316.7,870.5 L317.9,870.5 L319.1,870.5 L320.3,870.5 L321.5,870.5 L322.7,870.5 L323.9,870.5 L325.0,870.5 L326.2,870.5 L327.4,870.5 L328.6,870.5 L329.8,870.5 L331.0,870.5 L332.2,870.5 L333.4,870.5 L334.6,870.5 L335.8,870.5 L336.9,870.5 L338.1,870.5 L339.3,870.5 L340.5,870.5 L341.7,870.5 L342.9,870.5 L344.1,870.5 L345.3,870.5 L346.5,870.5 L347.7,870.5 L348.9,870.5 L350.0,870.5 L351.2,870.5 L352.4,870.5 L353.6,870.5 L354.8,870.5 L356.0,870.5 L357.2,870.5 L358.4,870.5 L359.6,870.5 L360.8,870.5 L362.0,870.5 L363.1,870.5 L364.3,870.5 L365.5,870.5 L366.7,870.5 L367.9,870.5 L369.1,870.5 L370.3,870.5 L371.5,870.5 L372.7,870.5 L373.9,870.5 L375.1,870.5 L376.2,870.5 L377.4,870.5 L378.6,870.5 L379.8,870.5 L381.0,870.5 L382.2,870.5 L383.4,870.5 L384.6,870.5 L385.8,870.5 L387.0,870.5 L388.1,870.5 L389.3,870.5 L390.5,870.5 L391.7,870.5 L392.9,870.5 L394.1,870.5 L395.3,870.5 L396.5,870.4 L397.7,870.2 L398.9,870.1 L400.1,869.9 L401.2,869.7 L402.4,869.5 L403.6,869.3 L404.8,869.1 L406.0,868.9 L407.2,868.6 L408.4,868.3 L409.6,868.0 L410.8,867.6 L412.0,867.3 L413.2,866.9 L414.3,866.5 L415.5,866.1 L416.7,865.6 L417.9,865.1 L419.1,864.6 L420.3,864.1 L421.5,863.5 L422.7,862.9 L423.9,862.3 L425.1,861.7 L426.3,861.0 L427.4,860.3 L428.6,859.6 L429.8,858.8 L431.0,858.0 L432.2,857.1 L433.4,856.2 L434.6,855.2 L435.8,854.2 L437.0,853.1 L438.2,852.0 L439.3,850.8 L440.5,849.4 L441.7,848.1 L442.9,846.6 L444.1,845.0 L445.3,843.4 L446.5,841.6 L447.7,839.8 L448.9,837.8 L450.1,835.8 L451.3,833.6 L452.4,831.3 L453.6,828.9 L454.8,826.4 L456.0,823.8 L457.2,821.0 L458.4,818.1 L459.6,815.1 L460.8,811.9 L462.0,808.6 L463.2,805.2 L464.4,801.6 L465.5,797.9 L466.7,794.0 L467.9,790.0 L469.1,785.8 L470.3,781.5 L471.5,777.0 L472.7,772.4 L473.9,767.7 L475.1,762.7 L476.3,757.7 L477.5,752.5 L478.6,747.1 L479.8,741.6 L481.0,735.9 L482.2,730.1 L483.4,724.2 L484.6,718.1 L485.8,711.8 L487.0,705.4 L488.2,698.9 L489.4,692.2 L490.5,685.4 L491.7,678.4 L492.9,671.4 L494.1,664.2 L495.3,656.8 L496.5,649.4 L497.7,641.8 L498.9,634.1 L500.1,626.3 L501.3,618.4 L502.5,610.4 L503.6,602.3 L504.8,594.1 L506.0,585.8 L507.2,577.4 L508.4,569.0 L509.6,560.5 L510.8,551.9 L512.0,543.3 L513.2,534.7 L514.4,526.0 L515.6,517.2 L516.7,508.5 L517.9,499.7 L519.1,491.0 L520.3,482.2 L521.5,473.4 L522.7,464.6 L523.9,455.9 L525.1,447.2 L526.3,438.5 L527.5,429.8 L528.7,421.2 L529.8,412.7 L531.0,404.2 L532.2,395.8 L533.4,387.5 L534.6,379.3 L535.8,371.2 L537.0,363.1 L538.2,355.2 L539.4,347.3 L540.6,339.6 L541.7,332.0 L542.9,324.5 L544.1,317.1 L545.3,309.8 L546.5,302.7 L547.7,295.7 L548.9,288.8 L550.1,282.1 L551.3,275.5 L552.5,269.0 L553.7,262.7 L554.8,256.5 L556.0,250.5 L557.2,244.6 L558.4,238.9 L559.6,233.3 L560.8,227.9 L562.0,222.6 L563.2,217.4 L564.4,212.5 L565.6,207.6 L566.8,202.9 L567.9,198.4 L569.1,194.0 L570.3,189.8 L571.5,185.7 L572.7,181.8 L573.9,178.0 L575.1,174.4 L576.3,170.9 L577.5,167.5 L578.7,164.3 L579.9,161.2 L581.0,158.3 L582.2,155.5 L583.4,152.8 L584.6,150.3 L585.8,147.9 L587.0,145.8 L588.2,143.8 L589.4,142.0 L590.6,140.3 L591.8,138.7 L592.9,137.3 L594.1,136.0 L595.3,134.9 L596.5,133.9 L597.7,133.1 L598.9,132.4 L600.1,131.9 L601.3,131.5 L602.5,131.2 L603.7,131.0 L604.9,131.0 L606.0,131.0 L607.2,131.2 L608.4,131.5 L609.6,131.8 L610.8,132.2 L612.0,132.7 L613.2,133.2 L614.4,133.8 L615.6,134.5 L616.8,135.2 L618.0,136.0 L619.1,136.8 L620.3,137.7 L621.5,138.6 L622.7,139.7 L623.9,140.7 L625.1,141.9 L626.3,143.2 L627.5,144.5 L628.7,146.0 L629.9,147.6 L631.1,149.3 L632.2,151.2 L633.4,153.2 L634.6,155.3 L635.8,157.6 L637.0,160.0 L638.2,162.6 L639.4,165.3 L640.6,168.2 L641.8,171.2 L643.0,174.5 L644.1,177.8 L645.3,181.4 L646.5,185.1 L647.7,188.9 L648.9,193.0 L650.1,197.2 L651.3,201.5 L652.5,206.0 L653.7,210.7 L654.9,215.5 L656.1,220.5 L657.2,225.7 L658.4,231.0 L659.6,236.5 L660.8,242.2 L662.0,248.0 L663.2,253.9 L664.4,260.1 L665.6,266.3 L666.8,272.8 L668.0,279.4 L669.2,286.1 L670.3,293.1 L671.5,300.1 L672.7,307.4 L673.9,314.7 L675.1,322.3 L676.3,330.0 L677.5,337.8 L678.7,345.8 L679.9,353.9 L681.1,362.1 L682.3,370.5 L683.4,379.1 L684.6,387.8 L685.8,396.6 L687.0,405.5 L688.2,414.6 L689.4,423.8 L690.6,433.1 L691.8,442.5 L693.0,452.0 L694.2,461.6 L695.3,471.4 L696.5,481.2 L697.7,491.1 L698.9,501.0 L700.1,511.1 L701.3,521.2 L702.5,531.4 L703.7,541.6 L704.9,551.8 L706.1,562.1 L707.3,572.5 L708.4,582.8 L709.6,593.1 L710.8,603.5 L712.0,613.8 L713.2,624.2 L714.4,634.5 L715.6,644.8 L716.8,655.0 L718.0,665.2 L719.2,675.4 L720.4,685.5 L721.5,695.5 L722.7,705.4 L723.9,715.3 L725.1,725.1 L726.3,734.7 L727.5,744.3 L728.7,753.8 L729.9,763.1 L731.1,772.4 L732.3,781.5 L733.5,790.5 L734.6,799.4 L735.8,808.2 L737.0,816.8 L738.2,825.3 L739.4,833.6 L740.6,841.8 L741.8,849.9 L743.0,857.8 L744.2,865.6 L745.4,873.2 L746.5,880.6 L747.7,887.9 L748.9,895.1 L750.1,902.0 L751.3,908.9 L752.5,915.5 L753.7,922.0 L754.9,928.4 L756.1,934.6 L757.3,940.6 L758.5,946.4 L759.6,952.1 L760.8,957.7 L762.0,963.1 L763.2,968.3 L764.4,973.4 L765.6,978.3 L766.8,983.1 L768.0,987.8 L769.2,992.2 L770.4,996.6 L771.6,1000.8 L772.7,1004.8 L773.9,1008.7 L775.1,1012.5 L776.3,1016.1 L777.5,1019.6 L778.7,1022.9 L779.9,1026.1 L781.1,1029.2 L782.3,1032.2 L783.5,1035.0 L784.7,1037.7 L785.8,1040.2 L787.0,1042.6 L788.2,1044.9 L789.4,1047.1 L790.6,1049.1 L791.8,1051.1 L793.0,1052.9 L794.2,1054.6 L795.4,1056.3 L796.6,1057.8 L797.7,1059.3 L798.9,1060.7 L800.1,1062.1 L801.3,1063.3 L802.5,1064.6 L803.7,1065.8 L804.9,1066.9 L806.1,1068.1 L807.3,1069.2 L808.5,1070.2 L809.7,1071.3 L810.8,1072.3 L812.0,1073.3 L813.2,1074.3 L814.4,1075.2 L815.6,1076.2 L816.8,1077.0 L818.0,1077.9 L819.2,1078.7 L820.4,1079.4 L821.6,1080.1 L822.8,1080.7 L823.9,1081.3 L825.1,1081.9 L826.3,1082.3 L827.5,1082.7 L828.7,1083.1 L829.9,1083.4 L831.1,1083.6 L832.3,1083.8 L833.5,1083.9 L834.7,1084.0 L835.9,1084.0 L837.0,1084.0 L838.2,1084.0 L839.4,1083.9 L840.6,1083.8 L841.8,1083.6 L843.0,1083.4 L844.2,1083.2 L845.4,1083.0 L846.6,1082.7 L847.8,1082.5 L849.0,1082.2 L850.1,1081.8 L851.3,1081.5 L852.5,1081.2 L853.7,1080.8 L854.9,1080.4 L856.1,1080.0 L857.3,1079.6 L858.5,1079.2 L859.7,1078.8 L860.9,1078.3 L862.0,1077.9 L863.2,1077.4 L864.4,1076.9 L865.6,1076.5 L866.8,1076.0 L868.0,1075.5 L869.2,1075.0 L870.4,1074.4 L871.6,1073.9 L872.8,1073.4 L874.0,1072.8 L875.1,1072.3 L876.3,1071.7 L877.5,1071.1 L878.7,1070.5 L879.9,1069.9 L881.1,1069.3 L882.3,1068.7 L883.5,1068.1 L884.7,1067.4 L885.9,1066.8 L887.1,1066.1 L888.2,1065.5 L889.4,1064.8 L890.6,1064.1 L891.8,1063.4 L893.0,1062.7 L894.2,1062.0 L895.4,1061.2 L896.6,1060.5 L897.8,1059.8 L899.0,1059.0 L900.2,1058.3 L901.3,1057.5 L902.5,1056.8 L903.7,1056.0 L904.9,1055.3 L906.1,1054.5 L907.3,1053.8 L908.5,1053.0 L909.7,1052.2 L910.9,1051.5 L912.1,1050.7 L913.2,1050.0 L914.4,1049.2 L915.6,1048.4 L916.8,1047.7 L918.0,1046.9 L919.2,1046.2 L920.4,1045.4 L921.6,1044.6 L922.8,1043.9 L924.0,1043.1 L925.2,1042.4 L926.3,1041.6 L927.5,1040.9 L928.7,1040.2 L929.9,1039.4 L931.1,1038.7 L932.3,1038.0 L933.5,1037.2 L934.7,1036.5 L935.9,1035.8 L937.1,1035.1 L938.3,1034.4 L939.4,1033.7 L940.6,1033.0 L941.8,1032.3 L943.0,1031.7 L944.2,1031.0 L945.4,1030.3 L946.6,1029.7 L947.8,1029.0 L949.0,1028.4 L950.2,1027.7 L951.4,1027.1 L952.5,1026.4 L953.7,1025.8 L954.9,1025.2 L956.1,1024.6 L957.3,1024.0 L958.5,1023.3 L959.7,1022.7 L960.9,1022.1 L962.1,1021.5 L963.3,1020.9 L964.4,1020.3 L965.6,1019.8 L966.8,1019.2 L968.0,1018.6 L969.2,1018.0 L970.4,1017.4 L971.6,1016.8 L972.8,1016.2 L974.0,1015.7 L975.2,1015.1 L976.4,1014.5 L977.5,1013.9 L978.7,1013.3 L979.9,1012.7 L981.1,1012.2 L982.3,1011.6 L983.5,1011.0 L984.7,1010.4 L985.9,1009.8 L987.1,1009.3 L988.3,1008.7 L989.5,1008.1 L990.6,1007.5 L991.8,1006.9 L993.0,1006.4 L994.2,1005.8 L995.4,1005.2 L996.6,1004.7 L997.8,1004.1 L999.0,1003.5 L1000.2,1002.9 L1001.4,1002.4 L1002.6,1001.8 L1003.7,1001.2 L1004.9,1000.7 L1006.1,1000.1 L1007.3,999.6 L1008.5,999.0 L1009.7,998.4 L1010.9,997.9 L1012.1,997.3 L1013.3,996.8 L1014.5,996.2 L1015.6,995.7 L1016.8,995.1 L1018.0,994.6 L1019.2,994.0 L1020.4,993.5 L1021.6,992.9 L1022.8,992.4 L1024.0,991.8 L1025.2,991.3 L1026.4,990.8 L1027.6,990.2 L1028.7,989.7 L1029.9,989.2 L1031.1,988.6 L1032.3,988.1 L1033.5,987.6 L1034.7,987.1 L1035.9,986.6 L1037.1,986.0 L1038.3,985.5 L1039.5,985.0 L1040.7,984.5 L1041.8,984.0 L1043.0,983.5 L1044.2,983.0 L1045.4,982.5 L1046.6,982.0 L1047.8,981.5 L1049.0,981.0 L1050.2,980.5 L1051.4,980.0 L1052.6,979.6 L1053.8,979.1 L1054.9,978.6 L1056.1,978.1 L1057.3,977.6 L1058.5,977.2 L1059.7,976.7 L1060.9,976.2 L1062.1,975.8 L1063.3,975.3 L1064.5,974.8 L1065.7,974.4 L1066.8,973.9 L1068.0,973.5 L1069.2,973.0 L1070.4,972.6 L1071.6,972.1 L1072.8,971.7 L1074.0,971.2 L1075.2,970.8 L1076.4,970.3 L1077.6,969.9 L1078.8,969.5 L1079.9,969.0 L1081.1,968.6 L1082.3,968.2 L1083.5,967.8 L1084.7,967.3 L1085.9,966.9 L1087.1,966.5 L1088.3,966.1 L1089.5,965.7 L1090.7,965.2 L1091.9,964.8 L1093.0,964.4 L1094.2,964.0 L1095.4,963.6 L1096.6,963.2 L1097.8,962.8 L1099.0,962.4 L1100.2,962.0 L1101.4,961.6 L1102.6,961.2 L1103.8,960.8 L1105.0,960.4 L1106.1,960.0 L1107.3,959.7 L1108.5,959.3 L1109.7,958.9 L1110.9,958.5 L1112.1,958.1 L1113.3,957.8 L1114.5,957.4 L1115.7,957.0 L1116.9,956.7 L1118.0,956.3 L1119.2,955.9 L1120.4,955.6 L1121.6,955.2 L1122.8,954.8 L1124.0,954.5 L1125.2,954.1 L1126.4,953.8 L1127.6,953.4 L1128.8,953.1 L1130.0,952.7 L1131.1,952.4 L1132.3,952.0 L1133.5,951.7 L1134.7,951.4 L1135.9,951.0 L1137.1,950.7 L1138.3,950.4 L1139.5,950.0 L1140.7,949.7 L1141.9,949.4 L1143.1,949.0 L1144.2,948.7 L1145.4,948.4 L1146.6,948.1 L1147.8,947.8 L1149.0,947.4 L1150.2,947.1 L1151.4,946.8 L1152.6,946.5 L1153.8,946.2 L1155.0,945.9 L1156.2,945.6 L1157.3,945.3 L1158.5,945.0 L1159.7,944.7 L1160.9,944.4 L1162.1,944.1 L1163.3,943.8 L1164.5,943.5 L1165.7,943.2 L1166.9,942.9 L1168.1,942.6 L1169.2,942.4 L1170.4,942.1 L1171.6,941.8 L1172.8,941.5 L1174.0,941.2 L1175.2,941.0 L1176.4,940.7 L1177.6,940.4 L1178.8,940.1 L1180.0,939.9 L1181.2,939.6 L1182.3,939.3 L1183.5,939.1 L1184.7,938.8 L1185.9,938.6 L1187.1,938.3 L1188.3,938.0 L1189.5,937.8 L1190.7,937.5 L1191.9,937.3 L1193.1,937.0 L1194.3,936.8 L1195.4,936.5 L1196.6,936.3 L1197.8,936.0 L1199.0,935.8 L1200.2,935.5 L1201.4,935.3 L1202.6,935.1 L1203.8,934.8 L1205.0,934.6 L1206.2,934.4 L1207.4,934.1 L1208.5,933.9 L1209.7,933.7 L1210.9,933.4 L1212.1,933.2 L1213.3,933.0 L1214.5,932.7 L1215.7,932.5 L1216.9,932.3 L1218.1,932.1 L1219.3,931.9 L1220.4,931.6 L1221.6,931.4 L1222.8,931.2 L1224.0,931.0 L1225.2,930.8 L1226.4,930.6 L1227.6,930.4 L1228.8,930.2 L1230.0,930.0 L1231.2,929.8 L1232.4,929.6 L1233.5,929.4 L1234.7,929.2 L1235.9,929.0 L1237.1,928.8 L1238.3,928.6 L1239.5,928.4 L1240.7,928.2 L1241.9,928.0 L1243.1,927.8 L1244.3,927.6 L1245.5,927.4 L1246.6,927.2 L1247.8,927.0 L1249.0,926.8 L1250.2,926.7 L1251.4,926.5 L1252.6,926.3 L1253.8,926.1 L1255.0,925.9 L1256.2,925.8 L1257.4,925.6 L1258.6,925.4 L1259.7,925.2 L1260.9,925.1 L1262.1,924.9 L1263.3,924.7 L1264.5,924.6 L1265.7,924.4 L1266.9,924.2 L1268.1,924.1 L1269.3,923.9 L1270.5,923.7 L1271.6,923.6 L1272.8,923.4 L1274.0,923.3 L1275.2,923.1 L1276.4,922.9 L1277.6,922.8 L1278.8,922.6 L1280.0,922.5 L1281.2,922.3 L1282.4,922.2 L1283.6,922.0 L1284.7,921.9 L1285.9,921.7 L1287.1,921.6 L1288.3,921.4 L1289.5,921.3 L1290.7,921.1 L1291.9,921.0 L1293.1,920.9 L1294.3,920.7 L1295.5,920.6 L1296.7,920.4 L1297.8,920.3 L1299.0,920.2 L1300.2,920.0 L1301.4,919.9 L1302.6,919.8 L1303.8,919.6 L1305.0,919.5 L1306.2,919.4 L1307.4,919.2 L1308.6,919.1 L1309.8,919.0 L1310.9,918.8 L1312.1,918.7 L1313.3,918.6 L1314.5,918.5 L1315.7,918.3 L1316.9,918.2 L1318.1,918.1 L1319.3,918.0 L1320.5,917.8 L1321.7,917.7 L1322.8,917.6 L1324.0,917.5 L1325.2,917.3 L1326.4,917.2 L1327.6,917.1 L1328.8,917.0 L1330.0,916.9 L1331.2,916.8 L1332.4,916.6 L1333.6,916.5 L1334.8,916.4 L1335.9,916.3 L1337.1,916.2 L1338.3,916.0 L1339.5,915.9 L1340.7,915.8 L1341.9,915.7 L1343.1,915.6 L1344.3,915.5 L1345.5,915.4 L1346.7,915.2 L1347.9,915.1 L1349.0,915.0 L1350.2,914.9 L1351.4,914.8 L1352.6,914.7 L1353.8,914.6 L1355.0,914.5 L1356.2,914.4 L1357.4,914.3 L1358.6,914.1 L1359.8,914.0 L1361.0,913.9 L1362.1,913.8 L1363.3,913.7 L1364.5,913.6 L1365.7,913.5 L1366.9,913.4 L1368.1,913.3 L1369.3,913.2 L1370.5,913.1 L1371.7,913.0 L1372.9,912.9 L1374.0,912.8 L1375.2,912.7 L1376.4,912.6 L1377.6,912.4 L1378.8,912.3 L1380.0,912.2 L1381.2,912.1 L1382.4,912.0 L1383.6,911.9 L1384.8,911.8 L1386.0,911.7 L1387.1,911.6 L1388.3,911.5 L1389.5,911.4 L1390.7,911.3 L1391.9,911.2 L1393.1,911.1 L1394.3,911.0 L1395.5,911.0 L1396.7,910.9 L1397.9,910.8 L1399.1,910.7 L1400.2,910.6 L1401.4,910.5 L1402.6,910.4 L1403.8,910.3 L1405.0,910.2 L1406.2,910.1 L1407.4,910.0 L1408.6,909.9 L1409.8,909.8 L1411.0,909.7 L1412.2,909.6 L1413.3,909.5 L1414.5,909.4 L1415.7,909.4 L1416.9,909.3 L1418.1,909.2 L1419.3,909.1 L1420.5,909.0 L1421.7,908.9 L1422.9,908.8 L1424.1,908.7 L1425.2,908.6 L1426.4,908.5 L1427.6,908.5 L1428.8,908.4 L1430.0,908.3 L1431.2,908.2 L1432.4,908.1 L1433.6,908.0 L1434.8,907.9 L1436.0,907.8 L1437.2,907.8 L1438.3,907.7 L1439.5,907.6 L1440.7,907.5 L1441.9,907.4 L1443.1,907.3 L1444.3,907.3 L1445.5,907.2 L1446.7,907.1 L1447.9,907.0 L1449.1,906.9 L1450.3,906.8 L1451.4,906.8 L1452.6,906.7 L1453.8,906.6 L1455.0,906.5 L1456.2,906.4 L1457.4,906.4 L1458.6,906.3 L1459.8,906.2 L1461.0,906.1 L1462.2,906.0 L1463.4,906.0 L1464.5,905.9 L1465.7,905.8 L1466.9,905.7 L1468.1,905.6 L1469.3,905.6 L1470.5,905.5 L1471.7,905.4 L1472.9,905.3 L1474.1,905.2 L1475.3,905.2 L1476.4,905.1 L1477.6,905.0 L1478.8,904.9 L1480.0,904.9 L1481.2,904.8 L1482.4,904.7 L1483.6,904.6 L1484.8,904.6 L1486.0,904.5 L1487.2,904.4 L1488.4,904.3 L1489.5,904.3 L1490.7,904.2 L1491.9,904.1 L1493.1,904.1 L1494.3,904.0 L1495.5,903.9 L1496.7,903.8 L1497.9,903.8 L1499.1,903.7 L1500.3,903.6 L1501.5,903.5 L1502.6,903.5 L1503.8,903.4 L1505.0,903.3 L1506.2,903.3 L1507.4,903.2 L1508.6,903.1 L1509.8,903.1 L1511.0,903.0 L1512.2,902.9 L1513.4,902.8 L1514.6,902.8 L1515.7,902.7 L1516.9,902.6 L1518.1,902.6 L1519.3,902.5 L1520.5,902.4 L1521.7,902.4 L1522.9,902.3 L1524.1,902.2 L1525.3,902.2 L1526.5,902.1 L1527.6,902.0 L1528.8,902.0 L1530.0,901.9 L1531.2,901.8 L1532.4,901.8 L1533.6,901.7 L1534.8,901.6 L1536.0,901.6 L1537.2,901.5 L1538.4,901.4 L1539.6,901.4 L1540.7,901.3 L1541.9,901.2 L1543.1,901.2 L1544.3,901.1 L1545.5,901.0 L1546.7,901.0 L1547.9,900.9 L1549.1,900.9 L1550.3,900.8 L1551.5,900.7 L1552.7,900.7 L1553.8,900.6 L1555.0,900.5 L1556.2,900.5 L1557.4,900.4 L1558.6,900.4 L1559.8,900.3 L1561.0,900.2 L1562.2,900.2 L1563.4,900.1 L1564.6,900.0 L1565.8,900.0 L1566.9,899.9 L1568.1,899.9 L1569.3,899.8 L1570.5,899.7 L1571.7,899.7 L1572.9,899.6 L1574.1,899.6 L1575.3,899.5 L1576.5,899.4 L1577.7,899.4 L1578.8,899.3 L1580.0,899.3 L1581.2,899.2 L1582.4,899.1 L1583.6,899.1 L1584.8,899.0 L1586.0,899.0 L1587.2,898.9 L1588.4,898.9 L1589.6,898.8 L1590.8,898.7 L1591.9,898.7 L1593.1,898.6 L1594.3,898.6 L1595.5,898.5 L1596.7,898.4 L1597.9,898.4 L1599.1,898.3 L1600.3,898.3 L1601.5,898.2 L1602.7,898.2 L1603.9,898.1 L1605.0,898.1 L1606.2,898.0 L1607.4,897.9 L1608.6,897.9 L1609.8,897.8 L1611.0,897.8 L1612.2,897.7 L1613.4,897.7 L1614.6,897.6 L1615.8,897.6 L1617.0,897.5 L1618.1,897.4 L1619.3,897.4 L1620.5,897.3 L1621.7,897.3 L1622.9,897.2 L1624.1,897.2 L1625.3,897.1 L1626.5,897.1 L1627.7,897.0 L1628.9,897.0 L1630.0,896.9 L1631.2,896.9 L1632.4,896.8 L1633.6,896.7 L1634.8,896.7 L1636.0,896.6 L1637.2,896.6 L1638.4,896.5 L1639.6,896.5 L1640.8,896.4 L1642.0,896.4 L1643.1,896.3 L1644.3,896.3 L1645.5,896.2 L1646.7,896.2 L1647.9,896.1 L1649.1,896.1 L1650.3,896.0 L1651.5,896.0 L1652.7,895.9 L1653.9,895.9 L1655.1,895.8 L1656.2,895.8 L1657.4,895.7 L1658.6,895.7 L1659.8,895.6 L1661.0,895.6 L1662.2,895.5 L1663.4,895.5 L1664.6,895.4 L1665.8,895.4 L1667.0,895.3 L1668.2,895.3 L1669.3,895.2 L1670.5,895.2 L1671.7,895.1 L1672.9,895.1 L1674.1,895.0 L1675.3,895.0 L1676.5,895.0 L1677.7,894.9 L1678.9,894.9 L1680.1,894.8 L1681.2,894.8 L1682.4,894.7 L1683.6,894.7 L1684.8,894.6 L1686.0,894.6 L1687.2,894.5 L1688.4,894.5 L1689.6,894.4 L1690.8,894.4 L1692.0,894.3 L1693.2,894.3 L1694.3,894.3 L1695.5,894.2 L1696.7,894.2 L1697.9,894.1 L1699.1,894.1 L1700.3,894.0 L1701.5,894.0 L1702.7,893.9 L1703.9,893.9 L1705.1,893.9 L1706.3,893.8 L1707.4,893.8 L1708.6,893.7 L1709.8,893.7 L1711.0,893.6 L1712.2,893.6 L1713.4,893.6 L1714.6,893.5 L1715.8,893.5 L1717.0,893.4 L1718.2,893.4 L1719.4,893.3 L1720.5,893.3 L1721.7,893.3 L1722.9,893.2 L1724.1,893.2 L1725.3,893.1 L1726.5,893.1 L1727.7,893.0 L1728.9,893.0 L1730.1,893.0 L1731.3,892.9 L1732.4,892.9 L1733.6,892.8 L1734.8,892.8 L1736.0,892.8 L1737.2,892.7 L1738.4,892.7 L1739.6,892.6 L1740.8,892.6 L1742.0,892.6 L1743.2,892.5 L1744.4,892.5 L1745.5,892.4 L1746.7,892.4 L1747.9,892.4 L1749.1,892.3 L1750.3,892.3 L1751.5,892.2 L1752.7,892.2 L1753.9,892.2 L1755.1,892.1 L1756.3,892.1 L1757.5,892.1 L1758.6,892.0 L1759.8,892.0 L1761.0,891.9 L1762.2,891.9 L1763.4,891.9 L1764.6,891.8 L1765.8,891.8 L1767.0,891.8 L1768.2,891.7 L1769.4,891.7 L1770.6,891.7 L1771.7,891.6 L1772.9,891.6 L1774.1,891.5 L1775.3,891.5 L1776.5,891.5 L1777.7,891.4 L1778.9,891.4 L1780.1,891.4 L1781.3,891.3 L1782.5,891.3 L1783.6,891.3 L1784.8,891.2 L1786.0,891.2 L1787.2,891.2 L1788.4,891.1 L1789.6,891.1 L1790.8,891.1 L1792.0,891.0 L1793.2,891.0 L1794.4,891.0 L1795.6,890.9 L1796.7,890.9 L1797.9,890.9 L1799.1,890.8 L1800.3,890.8 L1801.5,890.8 L1802.7,890.7 L1803.9,890.7 L1805.1,890.7 L1806.3,890.6 L1807.5,890.6 L1808.7,890.6 L1809.8,890.5 L1811.0,890.5 L1812.2,890.5 L1813.4,890.4 L1814.6,890.4 L1815.8,890.4 L1817.0,890.3 L1818.2,890.3 L1819.4,890.3 L1820.6,890.2 L1821.8,890.2 L1822.9,890.2 L1824.1,890.1 L1825.3,890.1 L1826.5,890.1 L1827.7,890.1 L1828.9,890.0 L1830.1,890.0 L1831.3,890.0 L1832.5,889.9 L1833.7,889.9 L1834.8,889.9 L1836.0,889.8 L1837.2,889.8 L1838.4,889.8 L1839.6,889.8 L1840.8,889.7 L1842.0,889.7 L1843.2,889.7 L1844.4,889.6 L1845.6,889.6 L1846.8,889.6 L1847.9,889.6 L1849.1,889.5 L1850.3,889.5 L1851.5,889.5 L1852.7,889.4 L1853.9,889.4 L1855.1,889.4 L1856.3,889.4 L1857.5,889.3 L1858.7,889.3 L1859.9,889.3 L1861.0,889.2 L1862.2,889.2 L1863.4,889.2 L1864.6,889.2 L1865.8,889.1 L1867.0,889.1 L1868.2,889.1 L1869.4,889.1 L1870.6,889.0 L1871.8,889.0 L1873.0,889.0 L1874.1,888.9 L1875.3,888.9 L1876.5,888.9 L1877.7,888.9 L1878.9,888.8 L1880.1,888.8 L1881.3,888.8 L1882.5,888.8 L1883.7,888.7 L1884.9,888.7 L1886.0,888.7 L1887.2,888.7 L1888.4,888.6 L1889.6,888.6 L1890.8,888.6 L1892.0,888.6 L1893.2,888.5 L1894.4,888.5 L1895.6,888.5 L1896.8,888.5 L1898.0,888.4 L1899.1,888.4 L1900.3,888.4 L1901.5,888.4 L1902.7,888.3 L1903.9,888.3 L1905.1,888.3 L1906.3,888.3 L1907.5,888.2 L1908.7,888.2 L1909.9,888.2 L1911.1,888.2 L1912.2,888.1 L1913.4,888.1 L1914.6,888.1 L1915.8,888.1 L1917.0,888.0 L1918.2,888.0 L1919.4,888.0 L1920.6,888.0 L1921.8,887.9 L1923.0,887.9 L1924.2,887.9 L1925.3,887.9 L1926.5,887.8 L1927.7,887.8 L1928.9,887.8 L1930.1,887.8 L1931.3,887.8 L1932.5,887.7 L1933.7,887.7 L1934.9,887.7 L1936.1,887.7 L1937.2,887.6 L1938.4,887.6 L1939.6,887.6 L1940.8,887.6 L1942.0,887.5 L1943.2,887.5 L1944.4,887.5 L1945.6,887.5 L1946.8,887.5 L1948.0,887.4 L1949.2,887.4 L1950.3,887.4 L1951.5,887.4 L1952.7,887.3 L1953.9,887.3 L1955.1,887.3 L1956.3,887.3 L1957.5,887.3 L1958.7,887.2 L1959.9,887.2 L1961.1,887.2 L1962.3,887.2 L1963.4,887.1 L1964.6,887.1 L1965.8,887.1 L1967.0,887.1 L1968.2,887.1 L1969.4,887.0 L1970.6,887.0 L1971.8,887.0 L1973.0,887.0 L1974.2,887.0 L1975.4,886.9 L1976.5,886.9 L1977.7,886.9 L1978.9,886.9 L1980.1,886.8 L1981.3,886.8 L1982.5,886.8 L1983.7,886.8 L1984.9,886.8 L1986.1,886.7 L1987.3,886.7 L1988.4,886.7 L1989.6,886.7 L1990.8,886.7 L1992.0,886.6 L1993.2,886.6 L1994.4,886.6 L1995.6,886.6 L1996.8,886.6 L1998.0,886.5 L1999.2,886.5 L2000.4,886.5 L2001.5,886.5 L2002.7,886.5 L2003.9,886.4 L2005.1,886.4 L2006.3,886.4 L2007.5,886.4 L2008.7,886.3 L2009.9,886.3 L2011.1,886.3 L2012.3,886.3 L2013.5,886.3 L2014.6,886.2 L2015.8,886.2 L2017.0,886.2 L2018.2,886.2 L2019.4,886.2 L2020.6,886.1 L2021.8,886.1 L2023.0,886.1 L2024.2,886.1 L2025.4,886.1 L2026.6,886.0 L2027.7,886.0 L2028.9,886.0 L2030.1,886.0 L2031.3,886.0 L2032.5,885.9 L2033.7,885.9 L2034.9,885.9 L2036.1,885.9 L2037.3,885.9 L2038.5,885.8 L2039.7,885.8 L2040.8,885.8 L2042.0,885.8 L2043.2,885.8 L2044.4,885.7 L2045.6,885.7 L2046.8,885.7 L2048.0,885.7 L2049.2,885.7 L2050.4,885.6 L2051.6,885.6 L2052.7,885.6 L2053.9,885.6 L2055.1,885.6 L2056.3,885.5 L2057.5,885.5 L2058.7,885.5 L2059.9,885.5 L2061.1,885.5 L2062.3,885.4 L2063.5,885.4 L2064.7,885.4 L2065.8,885.4 L2067.0,885.4 L2068.2,885.3 L2069.4,885.3 L2070.6,885.3 L2071.8,885.3 L2073.0,885.3 L2074.2,885.2 L2075.4,885.2 L2076.6,885.2 L2077.8,885.2 L2078.9,885.2 L2080.1,885.1 L2081.3,885.1 L2082.5,885.1 L2083.7,885.1 L2084.9,885.1 L2086.1,885.0 L2087.3,885.0 L2088.5,885.0 L2089.7,885.0 L2090.9,885.0 L2092.0,884.9 L2093.2,884.9 L2094.4,884.9 L2095.6,884.9 L2096.8,884.9 L2098.0,884.8 L2099.2,884.8 L2100.4,884.8 L2101.6,884.8 L2102.8,884.7 L2103.9,884.7 L2105.1,884.7 L2106.3,884.7 L2107.5,884.7 L2108.7,884.6 L2109.9,884.6 L2111.1,884.6 L2112.3,884.6 L2113.5,884.6 L2114.7,884.5 L2115.9,884.5 L2117.0,884.5 L2118.2,884.5 L2119.4,884.5 L2120.6,884.4 L2121.8,884.4 L2123.0,884.4 L2124.2,884.4 L2125.4,884.4 L2126.6,884.3 L2127.8,884.3 L2129.0,884.3 L2130.1,884.3 L2131.3,884.2 L2132.5,884.2 L2133.7,884.2 L2134.9,884.2 L2136.1,884.2 L2137.3,884.1 L2138.5,884.1 L2139.7,884.1 L2140.9,884.1 L2142.1,884.1 L2143.2,884.0 L2144.4,884.0 L2145.6,884.0 L2146.8,884.0 L2147.3,884.0" stroke="#000" stroke-dasharray="17.3 17.3"/>
<path d="M254.8,870.5 L256.0,870.5 L257.2,870.5 L258.4,870.5 L259.6,870.5 L260.7,870.5 L261.9,870.5 L263.1,870.5 L264.3,870.5 L265.5,870.5 L266.7,870.5 L267.9,870.5 L269.1,870.5 L270.3,870.5 L271.5,870.5 L272.7,870.5 L273.8,870.5 L275.0,870.5 L276.2,870.5 L277.4,870.5 L278.6,870.5 L279.8,870.5 L281.0,870.5 L282.2,870.5 L283.4,870.5 L284.6,870.5 L285.7,870.5 L286.9,870.5 L288.1,870.5 L289.3,870.5 L290.5,870.5 L291.7,870.5 L292.9,870.5 L294.1,870.5 L295.3,870.5 L296.5,870.5 L297.7,870.5 L298.8,870.5 L300.0,870.5 L301.2,870.5 L302.4,870.5 L303.6,870.5 L304.8,870.5 L306.0,870.5 L307.2,870.5 L308.4,870.5 L309.6,870.5 L310.8,870.5 L311.9,870.5 L313.1,870.5 L314.3,870.5 L315.5,870.5 L316.7,870.5 L317.9,870.5 L319.1,870.5 L320.3,870.5 L321.5,870.5 L322.7,870.5 L323.9,870.5 L325.0,870.5 L326.2,870.5 L327.4,870.5 L328.6,870.5 L329.8,870.5 L331.0,870.5 L332.2,870.5 L333.4,870.5 L334.6,870.5 L335.8,870.5 L336.9,870.5 L338.1,870.5 L339.3,870.5 L340.5,870.5 L341.7,870.5 L342.9,870.5 L344.1,870.5 L345.3,870.5 L346.5,870.5 L347.7,870.5 L348.9,870.5 L350.0,870.5 L351.2,870.5 L352.4,870.5 L353.6,870.5 L354.8,870.5 L356.0,870.5 L357.2,870.5 L358.4,870.5 L359.6,870.5 L360.8,870.5 L362.0,870.5 L363.1,870.5 L364.3,870.5 L365.5,870.5 L366.7,870.5 L367.9,870.5 L369.1,870.5 L370.3,870.5 L371.5,870.5 L372.7,870.5 L373.9,870.5 L375.1,870.5 L376.2,870.5 L377.4,870.5 L378.6,870.5 L379.8,870.5 L381.0,870.5 L382.2,870.5 L383.4,870.5 L384.6,870.5 L385.8,870.5 L387.0,870.5 L388.1,870.5 L389.3,870.5 L390.5,870.5 L391.7,870.5 L392.9,870.5 L394.1,870.5 L395.3,870.5 L396.5,870.4 L397.7,870.2 L398.9,870.1 L400.1,869.9 L401.2,869.7 L402.4,869.5 L403.6,869.3 L404.8,869.1 L406.0,868.9 L407.2,868.6 L408.4,868.3 L409.6,868.0 L410.8,867.6 L412.0,867.3 L413.2,866.9 L414.3,866.5 L415.5,866.1 L416.7,865.6 L417.9,865.1 L419.1,864.6 L420.3,864.1 L421.5,863.5 L422.7,862.9 L423.9,862.3 L425.1,861.7 L426.3,861.0 L427.4,860.3 L428.6,859.6 L429.8,858.8 L431.0,858.0 L432.2,857.1 L433.4,856.2 L434.6,855.2 L435.8,854.2 L437.0,853.1 L438.2,852.0 L439.3,850.8 L440.5,849.4 L441.7,848.1 L442.9,846.6 L444.1,845.0 L445.3,843.4 L446.5,841.6 L447.7,839.8 L448.9,837.8 L450.1,835.8 L451.3,833.6 L452.4,831.3 L453.6,828.9 L454.8,826.4 L456.0,823.8 L457.2,821.0 L458.4,818.1 L459.6,815.1 L460.8,811.9 L462.0,808.6 L463.2,805.2 L464.4,801.6 L465.5,797.9 L466.7,794.0 L467.9,790.0 L469.1,785.8 L470.3,781.5 L471.5,777.0 L472.7,772.4 L473.9,767.7 L475.1,762.7 L476.3,757.7 L477.5,752.5 L478.6,747.1 L479.8,741.6 L481.0,735.9 L482.2,730.1 L483.4,724.2 L484.6,718.1 L485.8,711.8 L487.0,705.4 L488.2,698.9 L489.4,692.2 L490.5,685.4 L491.7,678.4 L492.9,671.4 L494.1,664.2 L495.3,656.8 L496.5,649.4 L497.7,641.8 L498.9,634.1 L500.1,626.3 L501.3,618.4 L502.5,610.4 L503.6,602.3 L504.8,594.1 L506.0,585.8 L507.2,577.4 L508.4,569.0 L509.6,560.5 L510.8,551.9 L512.0,543.3 L513.2,534.7 L514.4,526.0 L515.6,517.2 L516.7,508.5 L517.9,499.7 L519.1,491.0 L520.3,482.2 L521.5,473.4 L522.7,464.6 L523.9,455.9 L525.1,447.2 L526.3,438.5 L527.5,429.8 L528.7,421.2 L529.8,412.7 L531.0,404.2 L532.2,395.8 L533.4,387.5 L534.6,379.3 L535.8,371.2 L537.0,363.1 L538.2,355.2 L539.4,347.3 L540.6,339.6 L541.7,332.0 L542.9,324.5 L544.1,317.1 L545.3,309.8 L546.5,302.7 L547.7,295.7 L548.9,288.8 L550.1,282.1 L551.3,275.5 L552.5,269.0 L553.7,262.7 L554.8,256.5 L556.0,250.5 L557.2,244.6 L558.4,238.9 L559.6,233.3 L560.8,227.9 L562.0,222.6 L563.2,217.4 L564.4,212.5 L565.6,207.6 L566.8,202.9 L567.9,198.4 L569.1,194.0 L570.3,189.8 L571.5,185.7 L572.7,181.8 L573.9,178.0 L575.1,174.4 L576.3,170.9 L577.5,167.5 L578.7,164.3 L579.9,161.2 L581.0,158.3 L582.2,155.5 L583.4,152.8 L584.6,150.3 L585.8,147.9 L587.0,145.7 L588.2,143.5 L589.4,141.5 L590.6,139.7 L591.8,137.9 L592.9,136.3 L594.1,134.9 L595.3,133.5 L596.5,132.3 L597.7,131.2 L598.9,130.2 L600.1,129.4 L601.3,128.6 L602.5,128.0 L603.7,127.4 L604.9,127.0 L606.0,126.6 L607.2,126.3 L608.4,126.1 L609.6,125.9 L610.8,125.8 L612.0,125.7 L613.2,125.7 L614.4,125.7 L615.6,125.7 L616.8,125.7 L618.0,125.8 L619.1,125.9 L620.3,126.0 L621.5,126.1 L622.7,126.3 L623.9,126.5 L625.1,126.7 L626.3,126.9 L627.5,127.2 L628.7,127.5 L629.9,127.9 L631.1,128.3 L632.2,128.7 L633.4,129.3 L634.6,129.8 L635.8,130.4 L637.0,131.1 L638.2,131.9 L639.4,132.6 L640.6,133.5 L641.8,134.4 L643.0,135.3 L644.1,136.3 L645.3,137.3 L646.5,138.4 L647.7,139.5 L648.9,140.6 L650.1,141.7 L651.3,142.9 L652.5,144.1 L653.7,145.4 L654.9,146.6 L656.1,147.9 L657.2,149.2 L658.4,150.5 L659.6,151.8 L660.8,153.1 L662.0,154.5 L663.2,155.8 L664.4,157.2 L665.6,158.6 L666.8,160.0 L668.0,161.3 L669.2,162.7 L670.3,164.1 L671.5,165.6 L672.7,167.0 L673.9,168.4 L675.1,169.8 L676.3,171.3 L677.5,172.7 L678.7,174.1 L679.9,175.6 L681.1,177.0 L682.3,178.5 L683.4,180.0 L684.6,181.4 L685.8,182.9 L687.0,184.4 L688.2,185.9 L689.4,187.4 L690.6,188.9 L691.8,190.4 L693.0,191.9 L694.2,193.4 L695.3,194.9 L696.5,196.4 L697.7,198.0 L698.9,199.5 L700.1,201.1 L701.3,202.6 L702.5,204.2 L703.7,205.8 L704.9,207.3 L706.1,208.9 L707.3,210.5 L708.4,212.0 L709.6,213.6 L710.8,215.2 L712.0,216.7 L713.2,218.3 L714.4,219.9 L715.6,221.4 L716.8,223.0 L718.0,224.6 L719.2,226.1 L720.4,227.7 L721.5,229.2 L722.7,230.8 L723.9,232.3 L725.1,233.8 L726.3,235.4 L727.5,236.9 L728.7,238.4 L729.9,240.0 L731.1,241.5 L732.3,243.0 L733.5,244.5 L734.6,246.0 L735.8,247.5 L737.0,249.0 L738.2,250.5 L739.4,251.9 L740.6,253.4 L741.8,254.9 L743.0,256.3 L744.2,257.8 L745.4,259.2 L746.5,260.6 L747.7,262.0 L748.9,263.4 L750.1,264.8 L751.3,266.2 L752.5,267.6 L753.7,269.0 L754.9,270.3 L756.1,271.7 L757.3,273.0 L758.5,274.4 L759.6,275.7 L760.8,277.0 L762.0,278.3 L763.2,279.6 L764.4,280.9 L765.6,282.2 L766.8,283.5 L768.0,284.8 L769.2,286.0 L770.4,287.3 L771.6,288.5 L772.7,289.8 L773.9,291.0 L775.1,292.3 L776.3,293.5 L777.5,294.7 L778.7,296.0 L779.9,297.2 L781.1,298.4 L782.3,299.6 L783.5,300.8 L784.7,302.0 L785.8,303.2 L787.0,304.4 L788.2,305.6 L789.4,306.8 L790.6,308.0 L791.8,309.2 L793.0,310.4 L794.2,311.6 L795.4,312.8 L796.6,313.9 L797.7,315.1 L798.9,316.3 L800.1,317.5 L801.3,318.6 L802.5,319.8 L803.7,320.9 L804.9,322.1 L806.1,323.2 L807.3,324.4 L808.5,325.5 L809.7,326.7 L810.8,327.8 L812.0,328.9 L813.2,330.1 L814.4,331.2 L815.6,332.3 L816.8,333.4 L818.0,334.6 L819.2,335.7 L820.4,336.8 L821.6,337.9 L822.8,339.0 L823.9,340.1 L825.1,341.2 L826.3,342.3 L827.5,343.3 L828.7,344.4 L829.9,345.5 L831.1,346.6 L832.3,347.6 L833.5,348.7 L834.7,349.8 L835.9,350.8 L837.0,351.9 L838.2,352.9 L839.4,354.0 L840.6,355.0 L841.8,356.0 L843.0,357.1 L844.2,358.1 L845.4,359.1 L846.6,360.1 L847.8,361.1 L849.0,362.2 L850.1,363.2 L851.3,364.2 L852.5,365.2 L853.7,366.1 L854.9,367.1 L856.1,368.1 L857.3,369.1 L858.5,370.1 L859.7,371.0 L860.9,372.0 L862.0,372.9 L863.2,373.9 L864.4,374.8 L865.6,375.8 L866.8,376.7 L868.0,377.7 L869.2,378.6 L870.4,379.5 L871.6,380.4 L872.8,381.4 L874.0,382.3 L875.1,383.2 L876.3,384.1 L877.5,385.0 L878.7,385.9 L879.9,386.8 L881.1,387.7 L882.3,388.6 L883.5,389.5 L884.7,390.3 L885.9,391.2 L887.1,392.1 L888.2,392.9 L889.4,393.8 L890.6,394.7 L891.8,395.5 L893.0,396.4 L894.2,397.2 L895.4,398.0 L896.6,398.9 L897.8,399.7 L899.0,400.6 L900.2,401.4 L901.3,402.2 L902.5,403.0 L903.7,403.8 L904.9,404.6 L906.1,405.5 L907.3,406.3 L908.5,407.1 L909.7,407.9 L910.9,408.7 L912.1,409.4 L913.2,410.2 L914.4,411.0 L915.6,411.8 L916.8,412.6 L918.0,413.3 L919.2,414.1 L920.4,414.9 L921.6,415.6 L922.8,416.4 L924.0,417.1 L925.2,417.9 L926.3,418.6 L927.5,419.4 L928.7,420.1 L929.9,420.9 L931.1,421.6 L932.3,422.3 L933.5,423.0 L934.7,423.8 L935.9,424.5 L937.1,425.2 L938.3,425.9 L939.4,426.6 L940.6,427.3 L941.8,428.0 L943.0,428.8 L944.2,429.5 L945.4,430.1 L946.6,430.8 L947.8,431.5 L949.0,432.2 L950.2,432.9 L951.4,433.6 L952.5,434.3 L953.7,434.9 L954.9,435.6 L956.1,436.3 L957.3,436.9 L958.5,437.6 L959.7,438.3 L960.9,438.9 L962.1,439.6 L963.3,440.2 L964.4,440.9 L965.6,441.5 L966.8,442.2 L968.0,442.8 L969.2,443.4 L970.4,444.1 L971.6,444.7 L972.8,445.3 L974.0,446.0 L975.2,446.6 L976.4,447.2 L977.5,447.8 L978.7,448.5 L979.9,449.1 L981.1,449.7 L982.3,450.3 L983.5,450.9 L984.7,451.5 L985.9,452.1 L987.1,452.7 L988.3,453.3 L989.5,453.9 L990.6,454.5 L991.8,455.2 L993.0,455.9 L994.2,456.7 L995.4,457.4 L996.6,458.2 L997.8,458.9 L999.0,459.7 L1000.2,460.5 L1001.4,461.3 L1002.6,462.2 L1003.7,463.0 L1004.9,463.9 L1006.1,464.8 L1007.3,465.7 L1008.5,466.7 L1009.7,467.6 L1010.9,468.6 L1012.1,469.6 L1013.3,470.6 L1014.5,471.7 L1015.6,472.8 L1016.8,473.8 L1018.0,475.0 L1019.2,476.1 L1020.4,477.3 L1021.6,478.5 L1022.8,479.7 L1024.0,481.0 L1025.2,482.3 L1026.4,483.6 L1027.6,485.0 L1028.7,486.4 L1029.9,487.9 L1031.1,489.4 L1032.3,491.0 L1033.5,492.7 L1034.7,494.4 L1035.9,496.2 L1037.1,498.1 L1038.3,500.1 L1039.5,502.1 L1040.7,504.3 L1041.8,506.5 L1043.0,508.9 L1044.2,511.3 L1045.4,513.8 L1046.6,516.5 L1047.8,519.3 L1049.0,522.1 L1050.2,525.1 L1051.4,528.2 L1052.6,531.5 L1053.8,534.8 L1054.9,538.3 L1056.1,542.0 L1057.3,545.7 L1058.5,549.7 L1059.7,553.7 L1060.9,557.9 L1062.1,562.2 L1063.3,566.7 L1064.5,571.3 L1065.7,576.1 L1066.8,581.0 L1068.0,586.0 L1069.2,591.3 L1070.4,596.6 L1071.6,602.1 L1072.8,607.8 L1074.0,613.6 L1075.2,619.5 L1076.4,625.6 L1077.6,631.9 L1078.8,638.2 L1079.9,644.8 L1081.1,651.5 L1082.3,658.3 L1083.5,665.2 L1084.7,672.3 L1085.9,679.6 L1087.1,686.9 L1088.3,694.4 L1089.5,702.0 L1090.7,709.8 L1091.9,717.7 L1093.0,725.6 L1094.2,733.7 L1095.4,742.0 L1096.6,750.3 L1097.8,758.7 L1099.0,767.2 L1100.2,775.8 L1101.4,784.5 L1102.6,793.2 L1103.8,802.1 L1105.0,810.9 L1106.1,819.9 L1107.3,828.9 L1108.5,837.9 L1109.7,847.0 L1110.9,856.1 L1112.1,865.3 L1113.3,874.4 L1114.5,883.6 L1115.7,892.7 L1116.9,901.9 L1118.0,911.0 L1119.2,920.2 L1120.4,929.2 L1121.6,938.3 L1122.8,947.3 L1124.0,956.3 L1125.2,965.2 L1126.4,974.0 L1127.6,982.8 L1128.8,991.5 L1130.0,1000.1 L1131.1,1008.6 L1132.3,1017.0 L1133.5,1025.3 L1134.7,1033.5 L1135.9,1041.6 L1137.1,1049.6 L1138.3,1057.4 L1139.5,1065.2 L1140.7,1072.8 L1141.9,1080.3 L1143.1,1087.6 L1144.2,1094.9 L1145.4,1101.9 L1146.6,1108.9 L1147.8,1115.7 L1149.0,1122.4 L1150.2,1128.9 L1151.4,1135.3 L1152.6,1141.5 L1153.8,1147.6 L1155.0,1153.5 L1156.2,1159.3 L1157.3,1164.9 L1158.5,1170.4 L1159.7,1175.7 L1160.9,1180.8 L1162.1,1185.9 L1163.3,1190.7 L1164.5,1195.4 L1165.7,1200.0 L1166.9,1204.4 L1168.1,1208.7 L1169.2,1212.8 L1170.4,1216.8 L1171.6,1220.6 L1172.8,1224.3 L1174.0,1227.9 L1175.2,1231.3 L1176.4,1234.5 L1177.6,1237.6 L1178.8,1240.6 L1180.0,1243.5 L1181.2,1246.2 L1182.3,1248.8 L1183.5,1251.2 L1184.7,1253.5 L1185.9,1255.7 L1187.1,1257.8 L1188.3,1259.7 L1189.5,1261.5 L1190.7,1263.1 L1191.9,1264.7 L1193.1,1266.1 L1194.3,1267.4 L1195.4,1268.5 L1196.6,1269.6 L1197.8,1270.5 L1199.0,1271.4 L1200.2,1272.2 L1201.4,1272.9 L1202.6,1273.5 L1203.8,1274.0 L1205.0,1274.5 L1206.2,1274.9 L1207.4,1275.3 L1208.5,1275.6 L1209.7,1275.9 L1210.9,1276.2 L1212.1,1276.5 L1213.3,1276.7 L1214.5,1276.9 L1215.7,1277.1 L1216.9,1277.3 L1218.1,1277.4 L1219.3,1277.5 L1220.4,1277.6 L1221.6,1277.7 L1222.8,1277.7 L1224.0,1277.7 L1225.2,1277.6 L1226.4,1277.5 L1227.6,1277.3 L1228.8,1277.1 L1230.0,1276.8 L1231.2,1276.5 L1232.4,1276.1 L1233.5,1275.6 L1234.7,1275.1 L1235.9,1274.6 L1237.1,1274.0 L1238.3,1273.3 L1239.5,1272.6 L1240.7,1271.9 L1241.9,1271.1 L1243.1,1270.3 L1244.3,1269.5 L1245.5,1268.6 L1246.6,1267.7 L1247.8,1266.8 L1249.0,1265.8 L1250.2,1264.8 L1251.4,1263.8 L1252.6,1262.8 L1253.8,1261.8 L1255.0,1260.7 L1256.2,1259.7 L1257.4,1258.6 L1258.6,1257.5 L1259.7,1256.5 L1260.9,1255.3 L1262.1,1254.2 L1263.3,1253.1 L1264.5,1252.0 L1265.7,1250.9 L1266.9,1249.7 L1268.1,1248.6 L1269.3,1247.4 L1270.5,1246.2 L1271.6,1245.1 L1272.8,1243.9 L1274.0,1242.7 L1275.2,1241.5 L1276.4,1240.4 L1277.6,1239.2 L1278.8,1238.0 L1280.0,1236.8 L1281.2,1235.5 L1282.4,1234.3 L1283.6,1233.1 L1284.7,1231.9 L1285.9,1230.6 L1287.1,1229.4 L1288.3,1228.1 L1289.5,1226.9 L1290.7,1225.6 L1291.9,1224.3 L1293.1,1223.0 L1294.3,1221.7 L1295.5,1220.4 L1296.7,1219.1 L1297.8,1217.8 L1299.0,1216.5 L1300.2,1215.2 L1301.4,1213.9 L1302.6,1212.6 L1303.8,1211.3 L1305.0,1209.9 L1306.2,1208.6 L1307.4,1207.3 L1308.6,1206.0 L1309.8,1204.6 L1310.9,1203.3 L1312.1,1202.0 L1313.3,1200.7 L1314.5,1199.4 L1315.7,1198.1 L1316.9,1196.8 L1318.1,1195.5 L1319.3,1194.2 L1320.5,1192.9 L1321.7,1191.6 L1322.8,1190.3 L1324.0,1189.0 L1325.2,1187.7 L1326.4,1186.4 L1327.6,1185.1 L1328.8,1183.9 L1330.0,1182.6 L1331.2,1181.3 L1332.4,1180.1 L1333.6,1178.9 L1334.8,1177.6 L1335.9,1176.4 L1337.1,1175.2 L1338.3,1173.9 L1339.5,1172.7 L1340.7,1171.5 L1341.9,1170.3 L1343.1,1169.1 L1344.3,1168.0 L1345.5,1166.8 L1346.7,1165.6 L1347.9,1164.5 L1349.0,1163.4 L1350.2,1162.2 L1351.4,1161.1 L1352.6,1160.0 L1353.8,1158.9 L1355.0,1157.8 L1356.2,1156.7 L1357.4,1155.6 L1358.6,1154.5 L1359.8,1153.4 L1361.0,1152.4 L1362.1,1151.3 L1363.3,1150.3 L1364.5,1149.2 L1365.7,1148.2 L1366.9,1147.1 L1368.1,1146.1 L1369.3,1145.1 L1370.5,1144.1 L1371.7,1143.1 L1372.9,1142.0 L1374.0,1141.0 L1375.2,1140.0 L1376.4,1139.0 L1377.6,1138.0 L1378.8,1137.0 L1380.0,1136.1 L1381.2,1135.1 L1382.4,1134.1 L1383.6,1133.1 L1384.8,1132.1 L1386.0,1131.1 L1387.1,1130.1 L1388.3,1129.2 L1389.5,1128.2 L1390.7,1127.2 L1391.9,1126.3 L1393.1,1125.3 L1394.3,1124.3 L1395.5,1123.4 L1396.7,1122.4 L1397.9,1121.5 L1399.1,1120.5 L1400.2,1119.6 L1401.4,1118.6 L1402.6,1117.7 L1403.8,1116.7 L1405.0,1115.8 L1406.2,1114.9 L1407.4,1113.9 L1408.6,1113.0 L1409.8,1112.1 L1411.0,1111.2 L1412.2,1110.3 L1413.3,1109.4 L1414.5,1108.4 L1415.7,1107.5 L1416.9,1106.6 L1418.1,1105.7 L1419.3,1104.8 L1420.5,1103.9 L1421.7,1103.1 L1422.9,1102.2 L1424.1,1101.3 L1425.2,1100.4 L1426.4,1099.5 L1427.6,1098.7 L1428.8,1097.8 L1430.0,1096.9 L1431.2,1096.1 L1432.4,1095.2 L1433.6,1094.4 L1434.8,1093.5 L1436.0,1092.7 L1437.2,1091.8 L1438.3,1091.0 L1439.5,1090.2 L1440.7,1089.3 L1441.9,1088.5 L1443.1,1087.7 L1444.3,1086.9 L1445.5,1086.1 L1446.7,1085.3 L1447.9,1084.5 L1449.1,1083.7 L1450.3,1082.9 L1451.4,1082.1 L1452.6,1081.3 L1453.8,1080.5 L1455.0,1079.7 L1456.2,1079.0 L1457.4,1078.2 L1458.6,1077.4 L1459.8,1076.7 L1461.0,1075.9 L1462.2,1075.1 L1463.4,1074.4 L1464.5,1073.6 L1465.7,1072.9 L1466.9,1072.2 L1468.1,1071.4 L1469.3,1070.7 L1470.5,1070.0 L1471.7,1069.2 L1472.9,1068.5 L1474.1,1067.8 L1475.3,1067.1 L1476.4,1066.4 L1477.6,1065.7 L1478.8,1065.0 L1480.0,1064.3 L1481.2,1063.6 L1482.4,1062.9 L1483.6,1062.2 L1484.8,1061.5 L1486.0,1060.9 L1487.2,1060.2 L1488.4,1059.5 L1489.5,1058.8 L1490.7,1058.2 L1491.9,1057.5 L1493.1,1056.9 L1494.3,1056.2 L1495.5,1055.6 L1496.7,1054.9 L1497.9,1054.3 L1499.1,1053.6 L1500.3,1053.0 L1501.5,1052.3 L1502.6,1051.7 L1503.8,1051.1 L1505.0,1050.5 L1506.2,1049.8 L1507.4,1049.2 L1508.6,1048.6 L1509.8,1048.0 L1511.0,1047.4 L1512.2,1046.8 L1513.4,1046.2 L1514.6,1045.6 L1515.7,1045.0 L1516.9,1044.4 L1518.1,1043.8 L1519.3,1043.2 L1520.5,1042.7 L1521.7,1042.1 L1522.9,1041.5 L1524.1,1040.9 L1525.3,1040.4 L1526.5,1039.8 L1527.6,1039.2 L1528.8,1038.7 L1530.0,1038.1 L1531.2,1037.5 L1532.4,1037.0 L1533.6,1036.4 L1534.8,1035.9 L1536.0,1035.4 L1537.2,1034.8 L1538.4,1034.3 L1539.6,1033.7 L1540.7,1033.2 L1541.9,1032.7 L1543.1,1032.1 L1544.3,1031.6 L1545.5,1031.1 L1546.7,1030.6 L1547.9,1030.1 L1549.1,1029.5 L1550.3,1029.0 L1551.5,1028.5 L1552.7,1028.0 L1553.8,1027.5 L1555.0,1027.0 L1556.2,1026.5 L1557.4,1026.0 L1558.6,1025.5 L1559.8,1025.0 L1561.0,1024.5 L1562.2,1024.1 L1563.4,1023.6 L1564.6,1023.1 L1565.8,1022.6 L1566.9,1022.1 L1568.1,1021.7 L1569.3,1021.2 L1570.5,1020.7 L1571.7,1020.3 L1572.9,1019.8 L1574.1,1019.3 L1575.3,1018.9 L1576.5,1018.4 L1577.7,1017.9 L1578.8,1017.5 L1580.0,1017.0 L1581.2,1016.6 L1582.4,1016.1 L1583.6,1015.7 L1584.8,1015.3 L1586.0,1014.8 L1587.2,1014.4 L1588.4,1013.9 L1589.6,1013.5 L1590.8,1013.1 L1591.9,1012.6 L1593.1,1012.2 L1594.3,1011.8 L1595.5,1011.4 L1596.7,1011.0 L1597.9,1010.5 L1599.1,1010.1 L1600.3,1009.7 L1601.5,1009.3 L1602.7,1008.9 L1603.9,1008.5 L1605.0,1008.1 L1606.2,1007.7 L1607.4,1007.3 L1608.6,1006.9 L1609.8,1006.5 L1611.0,1006.1 L1612.2,1005.7 L1613.4,1005.3 L1614.6,1004.9 L1615.8,1004.5 L1617.0,1004.1 L1618.1,1003.7 L1619.3,1003.4 L1620.5,1003.0 L1621.7,1002.6 L1622.9,1002.2 L1624.1,1001.8 L1625.3,1001.5 L1626.5,1001.1 L1627.7,1000.7 L1628.9,1000.4 L1630.0,1000.0 L1631.2,999.6 L1632.4,999.3 L1633.6,998.9 L1634.8,998.6 L1636.0,998.2 L1637.2,997.9 L1638.4,997.5 L1639.6,997.2 L1640.8,996.8 L1642.0,996.5 L1643.1,996.1 L1644.3,995.8 L1645.5,995.4 L1646.7,995.1 L1647.9,994.8 L1649.1,994.4 L1650.3,994.1 L1651.5,993.8 L1652.7,993.4 L1653.9,993.1 L1655.1,992.8 L1656.2,992.5 L1657.4,992.1 L1658.6,991.8 L1659.8,991.5 L1661.0,991.2 L1662.2,990.9 L1663.4,990.5 L1664.6,990.2 L1665.8,989.9 L1667.0,989.6 L1668.2,989.3 L1669.3,989.0 L1670.5,988.7 L1671.7,988.4 L1672.9,988.1 L1674.1,987.8 L1675.3,987.5 L1676.5,987.2 L1677.7,986.9 L1678.9,986.6 L1680.1,986.3 L1681.2,986.0 L1682.4,985.7 L1683.6,985.5 L1684.8,985.2 L1686.0,984.9 L1687.2,984.6 L1688.4,984.3 L1689.6,984.1 L1690.8,983.8 L1692.0,983.5 L1693.2,983.2 L1694.3,983.0 L1695.5,982.7 L1696.7,982.4 L1697.9,982.1 L1699.1,981.9 L1700.3,981.6 L1701.5,981.3 L1702.7,981.1 L1703.9,980.8 L1705.1,980.6 L1706.3,980.3 L1707.4,980.0 L1708.6,979.8 L1709.8,979.5 L1711.0,979.3 L1712.2,979.0 L1713.4,978.8 L1714.6,978.5 L1715.8,978.3 L1717.0,978.0 L1718.2,977.8 L1719.4,977.5 L1720.5,977.3 L1721.7,977.0 L1722.9,976.8 L1724.1,976.5 L1725.3,976.3 L1726.5,976.1 L1727.7,975.8 L1728.9,975.6 L1730.1,975.3 L1731.3,975.1 L1732.4,974.9 L1733.6,974.6 L1734.8,974.4 L1736.0,974.2 L1737.2,973.9 L1738.4,973.7 L1739.6,973.5 L1740.8,973.2 L1742.0,973.0 L1743.2,972.8 L1744.4,972.6 L1745.5,972.3 L1746.7,972.1 L1747.9,971.9 L1749.1,971.7 L1750.3,971.4 L1751.5,971.2 L1752.7,971.0 L1753.9,970.8 L1755.1,970.5 L1756.3,970.3 L1757.5,970.1 L1758.6,969.9 L1759.8,969.7 L1761.0,969.4 L1762.2,969.2 L1763.4,969.0 L1764.6,968.8 L1765.8,968.6 L1767.0,968.4 L1768.2,968.2 L1769.4,967.9 L1770.6,967.7 L1771.7,967.5 L1772.9,967.3 L1774.1,967.1 L1775.3,966.9 L1776.5,966.7 L1777.7,966.5 L1778.9,966.3 L1780.1,966.1 L1781.3,965.9 L1782.5,965.7 L1783.6,965.4 L1784.8,965.2 L1786.0,965.0 L1787.2,964.8 L1788.4,964.6 L1789.6,964.4 L1790.8,964.2 L1792.0,964.0 L1793.2,963.8 L1794.4,963.6 L1795.6,963.4 L1796.7,963.2 L1797.9,963.1 L1799.1,962.9 L1800.3,962.7 L1801.5,962.5 L1802.7,962.3 L1803.9,962.1 L1805.1,961.9 L1806.3,961.7 L1807.5,961.5 L1808.7,961.3 L1809.8,961.1 L1811.0,960.9 L1812.2,960.8 L1813.4,960.6 L1814.6,960.4 L1815.8,960.2 L1817.0,960.0 L1818.2,959.8 L1819.4,959.6 L1820.6,959.5 L1821.8,959.3 L1822.9,959.1 L1824.1,958.9 L1825.3,958.7 L1826.5,958.5 L1827.7,958.4 L1828.9,958.2 L1830.1,958.0 L1831.3,957.8 L1832.5,957.6 L1833.7,957.5 L1834.8,957.3 L1836.0,957.1 L1837.2,956.9 L1838.4,956.8 L1839.6,956.6 L1840.8,956.4 L1842.0,956.2 L1843.2,956.1 L1844.4,955.9 L1845.6,955.7 L1846.8,955.6 L1847.9,955.4 L1849.1,955.2 L1850.3,955.0 L1851.5,954.9 L1852.7,954.7 L1853.9,954.5 L1855.1,954.4 L1856.3,954.2 L1857.5,954.0 L1858.7,953.9 L1859.9,953.7 L1861.0,953.5 L1862.2,953.4 L1863.4,953.2 L1864.6,953.1 L1865.8,952.9 L1867.0,952.7 L1868.2,952.6 L1869.4,952.4 L1870.6,952.2 L1871.8,952.1 L1873.0,951.9 L1874.1,951.8 L1875.3,951.6 L1876.5,951.5 L1877.7,951.3 L1878.9,951.1 L1880.1,951.0 L1881.3,950.8 L1882.5,950.7 L1883.7,950.5 L1884.9,950.4 L1886.0,950.2 L1887.2,950.1 L1888.4,949.9 L1889.6,949.8 L1890.8,949.6 L1892.0,949.4 L1893.2,949.3 L1894.4,949.1 L1895.6,949.0 L1896.8,948.8 L1898.0,948.7 L1899.1,948.6 L1900.3,948.4 L1901.5,948.3 L1902.7,948.1 L1903.9,948.0 L1905.1,947.8 L1906.3,947.7 L1907.5,947.5 L1908.7,947.4 L1909.9,947.2 L1911.1,947.1 L1912.2,946.9 L1913.4,946.8 L1914.6,946.7 L1915.8,946.5 L1917.0,946.4 L1918.2,946.2 L1919.4,946.1 L1920.6,946.0 L1921.8,945.8 L1923.0,945.7 L1924.2,945.5 L1925.3,945.4 L1926.5,945.3 L1927.7,945.1 L1928.9,945.0 L1930.1,944.8 L1931.3,944.7 L1932.5,944.6 L1933.7,944.4 L1934.9,944.3 L1936.1,944.2 L1937.2,944.0 L1938.4,943.9 L1939.6,943.8 L1940.8,943.6 L1942.0,943.5 L1943.2,943.4 L1944.4,943.2 L1945.6,943.1 L1946.8,943.0 L1948.0,942.8 L1949.2,942.7 L1950.3,942.6 L1951.5,942.5 L1952.7,942.3 L1953.9,942.2 L1955.1,942.1 L1956.3,941.9 L1957.5,941.8 L1958.7,941.7 L1959.9,941.6 L1961.1,941.4 L1962.3,941.3 L1963.4,941.2 L1964.6,941.0 L1965.8,940.9 L1967.0,940.8 L1968.2,940.7 L1969.4,940.5 L1970.6,940.4 L1971.8,940.3 L1973.0,940.2 L1974.2,940.1 L1975.4,939.9 L1976.5,939.8 L1977.7,939.7 L1978.9,939.6 L1980.1,939.4 L1981.3,939.3 L1982.5,939.2 L1983.7,939.1 L1984.9,939.0 L1986.1,938.8 L1987.3,938.7 L1988.4,938.6 L1989.6,938.5 L1990.8,938.4 L1992.0,938.3 L1993.2,938.1 L1994.4,938.0 L1995.6,937.9 L1996.8,937.8 L1998.0,937.7 L1999.2,937.6 L2000.4,937.4 L2001.5,937.3 L2002.7,937.2 L2003.9,937.1 L2005.1,937.0 L2006.3,936.9 L2007.5,936.7 L2008.7,936.6 L2009.9,936.5 L2011.1,936.4 L2012.3,936.3 L2013.5,936.2 L2014.6,936.1 L2015.8,936.0 L2017.0,935.8 L2018.2,935.7 L2019.4,935.6 L2020.6,935.5 L2021.8,935.4 L2023.0,935.3 L2024.2,935.2 L2025.4,935.1 L2026.6,935.0 L2027.7,934.9 L2028.9,934.7 L2030.1,934.6 L2031.3,934.5 L2032.5,934.4 L2033.7,934.3 L2034.9,934.2 L2036.1,934.1 L2037.3,934.0 L2038.5,933.9 L2039.7,933.8 L2040.8,933.7 L2042.0,933.6 L2043.2,933.5 L2044.4,933.4 L2045.6,933.3 L2046.8,933.1 L2048.0,933.0 L2049.2,932.9 L2050.4,932.8 L2051.6,932.7 L2052.7,932.6 L2053.9,932.5 L2055.1,932.4 L2056.3,932.3 L2057.5,932.2 L2058.7,932.1 L2059.9,932.0 L2061.1,931.9 L2062.3,931.8 L2063.5,931.7 L2064.7,931.6 L2065.8,931.5 L2067.0,931.4 L2068.2,931.3 L2069.4,931.2 L2070.6,931.1 L2071.8,931.0 L2073.0,930.9 L2074.2,930.8 L2075.4,930.7 L2076.6,930.6 L2077.8,930.5 L2078.9,930.4 L2080.1,930.3 L2081.3,930.2 L2082.5,930.1 L2083.7,930.0 L2084.9,929.9 L2086.1,929.8 L2087.3,929.7 L2088.5,929.6 L2089.7,929.5 L2090.9,929.5 L2092.0,929.4 L2093.2,929.3 L2094.4,929.2 L2095.6,929.1 L2096.8,929.0 L2098.0,928.9 L2099.2,928.8 L2100.4,928.7 L2101.6,928.6 L2102.8,928.5 L2103.9,928.4 L2105.1,928.3 L2106.3,928.2 L2107.5,928.1 L2108.7,928.0 L2109.9,927.9 L2111.1,927.9 L2112.3,927.8 L2113.5,927.7 L2114.7,927.6 L2115.9,927.5 L2117.0,927.4 L2118.2,927.3 L2119.4,927.2 L2120.6,927.1 L2121.8,927.0 L2123.0,926.9 L2124.2,926.9 L2125.4,926.8 L2126.6,926.7 L2127.8,926.6 L2129.0,926.5 L2130.1,926.4 L2131.3,926.3 L2132.5,926.2 L2133.7,926.1 L2134.9,926.1 L2136.1,926.0 L2137.3,925.9 L2138.5,925.8 L2139.7,925.7 L2140.9,925.6 L2142.1,925.5 L2143.2,925.4 L2144.4,925.3 L2145.6,925.3 L2146.8,925.2 L2147.3,925.1" stroke="#000" stroke-dasharray="17.3 11.54 2.31 11.54"/>
<path d="M254.8,870.5 L256.0,870.5 L257.2,870.5 L258.4,870.5 L259.6,870.5 L260.7,870.5 L261.9,870.5 L263.1,870.5 L264.3,870.5 L265.5,870.5 L266.7,870.5 L267.9,870.5 L269.1,870.5 L270.3,870.5 L271.5,870.5 L272.7,870.5 L273.8,870.5 L275.0,870.5 L276.2,870.5 L277.4,870.5 L278.6,870.5 L279.8,870.5 L281.0,870.5 L282.2,870.5 L283.4,870.5 L284.6,870.5 L285.7,870.5 L286.9,870.5 L288.1,870.5 L289.3,870.5 L290.5,870.5 L291.7,870.5 L292.9,870.5 L294.1,870.5 L295.3,870.5 L296.5,870.5 L297.7,870.5 L298.8,870.5 L300.0,870.5 L301.2,870.5 L302.4,870.5 L303.6,870.5 L304.8,870.5 L306.0,870.5 L307.2,870.5 L308.4,870.5 L309.6,870.5 L310.8,870.5 L311.9,870.5 L313.1,870.5 L314.3,870.5 L315.5,870.5 L316.7,870.5 L317.9,870.5 L319.1,870.5 L320.3,870.5 L321.5,870.5 L322.7,870.5 L323.9,870.5 L325.0,870.5 L326.2,870.5 L327.4,870.5 L328.6,870.5 L329.8,870.5 L331.0,870.5 L332.2,870.5 L333.4,870.5 L334.6,870.5 L335.8,870.5 L336.9,870.5 L338.1,870.5 L339.3,870.5 L340.5,870.5 L341.7,870.5 L342.9,870.5 L344.1,870.5 L345.3,870.5 L346.5,870.5 L347.7,870.5 L348.9,870.5 L350.0,870.5 L351.2,870.5 L352.4,870.5 L353.6,870.5 L354.8,870.5 L356.0,870.5 L357.2,870.5 L358.4,870.5 L359.6,870.5 L360.8,870.5 L362.0,870.5 L363.1,870.5 L364.3,870.5 L365.5,870.5 L366.7,870.5 L367.9,870.5 L369.1,870.5 L370.3,870.5 L371.5,870.5 L372.7,870.5 L373.9,870.5 L375.1,870.5 L376.2,870.5 L377.4,870.5 L378.6,870.5 L379.8,870.5 L381.0,870.5 L382.2,870.5 L383.4,870.5 L384.6,870.5 L385.8,870.5 L387.0,870.5 L388.1,870.5 L389.3,870.5 L390.5,870.5 L391.7,870.5 L392.9,870.5 L394.1,870.5 L395.3,870.5 L396.5,870.4 L397.7,870.2 L398.9,870.1 L400.1,869.9 L401.2,869.7 L402.4,869.5 L403.6,869.3 L404.8,869.1 L406.0,868.9 L407.2,868.6 L408.4,868.3 L409.6,868.0 L410.8,867.6 L412.0,867.3 L413.2,866.9 L414.3,866.5 L415.5,866.1 L416.7,865.6 L417.9,865.1 L419.1,864.6 L420.3,864.1 L421.5,863.5 L422.7,862.9 L423.9,862.3 L425.1,861.7 L426.3,861.0 L427.4,860.3 L428.6,859.6 L429.8,858.8 L431.0,858.0 L432.2,857.1 L433.4,856.2 L434.6,855.2 L435.8,854.2 L437.0,853.1 L438.2,852.0 L439.3,850.8 L440.5,849.4 L441.7,848.1 L442.9,846.6 L444.1,845.0 L445.3,843.4 L446.5,841.6 L447.7,839.8 L448.9,837.8 L450.1,835.8 L451.3,833.6 L452.4,831.3 L453.6,828.9 L454.8,826.4 L456.0,823.8 L457.2,821.0 L458.4,818.1 L459.6,815.1 L460.8,811.9 L462.0,808.6 L463.2,805.2 L464.4,801.6 L465.5,797.9 L466.7,794.0 L467.9,790.0 L469.1,785.8 L470.3,781.5 L471.5,777.0 L472.7,772.4 L473.9,767.7 L475.1,762.7 L476.3,757.7 L477.5,752.5 L478.6,747.1 L479.8,741.6 L481.0,735.9 L482.2,730.1 L483.4,724.2 L484.6,718.1 L485.8,711.8 L487.0,705.4 L488.2,698.9 L489.4,692.2 L490.5,685.4 L491.7,678.4 L492.9,671.4 L494.1,664.2 L495.3,656.8 L496.5,649.4 L497.7,641.8 L498.9,634.1 L500.1,626.3 L501.3,618.4 L502.5,610.4 L503.6,602.3 L504.8,594.1 L506.0,585.8 L507.2,577.4 L508.4,569.0 L509.6,560.5 L510.8,551.9 L512.0,543.3 L513.2,534.7 L514.4,526.0 L515.6,517.2 L516.7,508.5 L517.9,499.7 L519.1,491.0 L520.3,482.2 L521.5,473.4 L522.7,464.6 L523.9,455.9 L525.1,447.2 L526.3,438.5 L527.5,429.8 L528.7,421.2 L529.8,412.7 L531.0,404.2 L532.2,395.8 L533.4,387.5 L534.6,379.3 L535.8,371.2 L537.0,363.1 L538.2,355.2 L539.4,347.3 L540.6,339.6 L541.7,332.0 L542.9,324.5 L544.1,317.1 L545.3,309.8 L546.5,302.7 L547.7,295.7 L548.9,288.8 L550.1,282.1 L551.3,275.5 L552.5,269.0 L553.7,262.7 L554.8,256.5 L556.0,250.5 L557.2,244.6 L558.4,238.9 L559.6,233.3 L560.8,227.9 L562.0,222.6 L563.2,217.4 L564.4,212.5 L565.6,207.6 L566.8,202.9 L567.9,198.4 L569.1,194.0 L570.3,189.8 L571.5,185.7 L572.7,181.8 L573.9,178.0 L575.1,174.4 L576.3,170.9 L577.5,167.5 L578.7,164.3 L579.9,161.2 L581.0,158.3 L582.2,155.5 L583.4,152.8 L584.6,150.3 L585.8,147.9 L587.0,145.7 L588.2,143.5 L589.4,141.5 L590.6,139.7 L591.8,137.9 L592.9,136.3 L594.1,134.9 L595.3,133.5 L596.5,132.3 L597.7,131.2 L598.9,130.2 L600.1,129.4 L601.3,128.6 L602.5,128.0 L603.7,127.4 L604.9,127.0 L606.0,126.6 L607.2,126.3 L608.4,126.1 L609.6,125.9 L610.8,125.8 L612.0,125.7 L613.2,125.7 L614.4,125.7 L615.6,125.7 L616.8,125.7 L618.0,125.8 L619.1,125.9 L620.3,126.0 L621.5,126.1 L622.7,126.3 L623.9,126.5 L625.1,126.7 L626.3,126.9 L627.5,127.2 L628.7,127.5 L629.9,127.9 L631.1,128.3 L632.2,128.7 L633.4,129.3 L634.6,129.8 L635.8,130.4 L637.0,131.1 L638.2,131.9 L639.4,132.6 L640.6,133.5 L641.8,134.4 L643.0,135.3 L644.1,136.3 L645.3,137.3 L646.5,138.4 L647.7,139.5 L648.9,140.6 L650.1,141.7 L651.3,142.9 L652.5,144.1 L653.7,145.4 L654.9,146.6 L656.1,147.9 L657.2,149.2 L658.4,150.5 L659.6,151.8 L660.8,153.1 L662.0,154.5 L663.2,155.8 L664.4,157.2 L665.6,158.6 L666.8,160.0 L668.0,161.3 L669.2,162.7 L670.3,164.1 L671.5,165.6 L672.7,167.0 L673.9,168.4 L675.1,169.8 L676.3,171.3 L677.5,172.7 L678.7,174.1 L679.9,175.6 L681.1,177.0 L682.3,178.5 L683.4,180.0 L684.6,181.4 L685.8,182.9 L687.0,184.4 L688.2,185.9 L689.4,187.4 L690.6,188.9 L691.8,190.4 L693.0,191.9 L694.2,193.4 L695.3,194.9 L696.5,196.4 L697.7,198.0 L698.9,199.5 L700.1,201.1 L701.3,202.6 L702.5,204.2 L703.7,205.8 L704.9,207.3 L706.1,208.9 L707.3,210.5 L708.4,212.0 L709.6,213.6 L710.8,215.2 L712.0,216.7 L713.2,218.3 L714.4,219.9 L715.6,221.4 L716.8,223.0 L718.0,224.6 L719.2,226.1 L720.4,227.7 L721.5,229.2 L722.7,230.8 L723.9,232.3 L725.1,233.8 L726.3,235.4 L727.5,236.9 L728.7,238.4 L729.9,240.0 L731.1,241.5 L732.3,243.0 L733.5,244.5 L734.6,246.0 L735.8,247.5 L737.0,249.0 L738.2,250.5 L739.4,251.9 L740.6,253.4 L741.8,254.9 L743.0,256.3 L744.2,257.8 L745.4,259.2 L746.5,260.6 L747.7,262.0 L748.9,263.4 L750.1,264.8 L751.3,266.2 L752.5,267.6 L753.7,269.0 L754.9,270.3 L756.1,271.7 L757.3,273.0 L758.5,274.4 L759.6,275.7 L760.8,277.0 L762.0,278.3 L763.2,279.6 L764.4,280.9 L765.6,282.2 L766.8,283.5 L768.0,284.8 L769.2,286.0 L770.4,287.3 L771.6,288.5 L772.7,289.8 L773.9,291.0 L775.1,292.3 L776.3,293.5 L777.5,294.7 L778.7,296.0 L779.9,297.2 L781.1,298.4 L782.3,299.6 L783.5,300.8 L784.7,302.0 L785.8,303.2 L787.0,304.4 L788.2,305.6 L789.4,306.8 L790.6,308.0 L791.8,309.2 L793.0,310.4 L794.2,311.6 L795.4,312.8 L796.6,313.9 L797.7,315.1 L798.9,316.3 L800.1,317.5 L801.3,318.6 L802.5,319.8 L803.7,320.9 L804.9,322.1 L806.1,323.2 L807.3,324.4 L808.5,325.5 L809.7,326.7 L810.8,327.8 L812.0,328.9 L813.2,330.1 L814.4,331.2 L815.6,332.3 L816.8,333.4 L818.0,334.6 L819.2,335.7 L820.4,336.8 L821.6,337.9 L822.8,339.0 L823.9,340.1 L825.1,341.2 L826.3,342.3 L827.5,343.3 L828.7,344.4 L829.9,345.5 L831.1,346.6 L832.3,347.6 L833.5,348.7 L834.7,349.8 L835.9,350.8 L837.0,351.9 L838.2,352.9 L839.4,354.0 L840.6,355.0 L841.8,356.0 L843.0,357.1 L844.2,358.1 L845.4,359.1 L846.6,360.1 L847.8,361.1 L849.0,362.2 L850.1,363.2 L851.3,364.2 L852.5,365.2 L853.7,366.1 L854.9,367.1 L856.1,368.1 L857.3,369.1 L858.5,370.1 L859.7,371.0 L860.9,372.0 L862.0,372.9 L863.2,373.9 L864.4,374.8 L865.6,375.8 L866.8,376.7 L868.0,377.7 L869.2,378.6 L870.4,379.5 L871.6,380.4 L872.8,381.4 L874.0,382.3 L875.1,383.2 L876.3,384.1 L877.5,385.0 L878.7,385.9 L879.9,386.8 L881.1,387.7 L882.3,388.6 L883.5,389.5 L884.7,390.3 L885.9,391.2 L887.1,392.1 L888.2,392.9 L889.4,393.8 L890.6,394.7 L891.8,395.5 L893.0,396.4 L894.2,397.2 L895.4,398.0 L896.6,398.9 L897.8,399.7 L899.0,400.6 L900.2,401.4 L901.3,402.2 L902.5,403.0 L903.7,403.8 L904.9,404.6 L906.1,405.5 L907.3,406.3 L908.5,407.1 L909.7,407.9 L910.9,408.7 L912.1,409.4 L913.2,410.2 L914.4,411.0 L915.6,411.8 L916.8,412.6 L918.0,413.3 L919.2,414.1 L920.4,414.9 L921.6,415.6 L922.8,416.4 L924.0,417.1 L925.2,417.9 L926.3,418.6 L927.5,419.4 L928.7,420.1 L929.9,420.9 L931.1,421.6 L932.3,422.3 L933.5,423.0 L934.7,423.8 L935.9,424.5 L937.1,425.2 L938.3,425.9 L939.4,426.6 L940.6,427.3 L941.8,428.0 L943.0,428.8 L944.2,429.5 L945.4,430.1 L946.6,430.8 L947.8,431.5 L949.0,432.2 L950.2,432.9 L951.4,433.6 L952.5,434.3 L953.7,434.9 L954.9,435.6 L956.1,436.3 L957.3,436.9 L958.5,437.6 L959.7,438.3 L960.9,438.9 L962.1,439.6 L963.3,440.2 L964.4,440.9 L965.6,441.5 L966.8,442.2 L968.0,442.8 L969.2,443.4 L970.4,444.1 L971.6,444.7 L972.8,445.3 L974.0,446.0 L975.2,446.6 L976.4,447.2 L977.5,447.8 L978.7,448.5 L979.9,449.1 L981.1,449.7 L982.3,450.3 L983.5,450.9 L984.7,451.5 L985.9,452.1 L987.1,452.7 L988.3,453.3 L989.5,453.9 L990.6,454.5 L991.8,455.1 L993.0,455.7 L994.2,456.2 L995.4,456.8 L996.6,457.4 L997.8,458.0 L999.0,458.5 L1000.2,459.1 L1001.4,459.7 L1002.6,460.3 L1003.7,460.8 L1004.9,461.4 L1006.1,461.9 L1007.3,462.5 L1008.5,463.1 L1009.7,463.6 L1010.9,464.2 L1012.1,464.7 L1013.3,465.2 L1014.5,465.8 L1015.6,466.3 L1016.8,466.9 L1018.0,467.4 L1019.2,467.9 L1020.4,468.5 L1021.6,469.0 L1022.8,469.5 L1024.0,470.1 L1025.2,470.6 L1026.4,471.1 L1027.6,471.6 L1028.7,472.1 L1029.9,472.6 L1031.1,473.2 L1032.3,473.7 L1033.5,474.2 L1034.7,474.7 L1035.9,475.2 L1037.1,475.7 L1038.3,476.2 L1039.5,476.7 L1040.7,477.2 L1041.8,477.7 L1043.0,478.1 L1044.2,478.6 L1045.4,479.1 L1046.6,479.6 L1047.8,480.1 L1049.0,480.6 L1050.2,481.0 L1051.4,481.5 L1052.6,482.0 L1053.8,482.5 L1054.9,482.9 L1056.1,483.4 L1057.3,483.9 L1058.5,484.3 L1059.7,484.8 L1060.9,485.2 L1062.1,485.7 L1063.3,486.2 L1064.5,486.6 L1065.7,487.1 L1066.8,487.5 L1068.0,488.0 L1069.2,488.4 L1070.4,488.9 L1071.6,489.3 L1072.8,489.7 L1074.0,490.2 L1075.2,490.6 L1076.4,491.0 L1077.6,491.5 L1078.8,491.9 L1079.9,492.3 L1081.1,492.8 L1082.3,493.2 L1083.5,493.6 L1084.7,494.0 L1085.9,494.5 L1087.1,494.9 L1088.3,495.3 L1089.5,495.7 L1090.7,496.1 L1091.9,496.5 L1093.0,496.9 L1094.2,497.3 L1095.4,497.7 L1096.6,498.2 L1097.8,498.6 L1099.0,499.0 L1100.2,499.4 L1101.4,499.8 L1102.6,500.1 L1103.8,500.5 L1105.0,500.9 L1106.1,501.3 L1107.3,501.7 L1108.5,502.1 L1109.7,502.5 L1110.9,502.9 L1112.1,503.3 L1113.3,503.6 L1114.5,504.0 L1115.7,504.4 L1116.9,504.8 L1118.0,505.2 L1119.2,505.5 L1120.4,505.9 L1121.6,506.3 L1122.8,506.7 L1124.0,507.0 L1125.2,507.4 L1126.4,507.8 L1127.6,508.1 L1128.8,508.5 L1130.0,508.9 L1131.1,509.2 L1132.3,509.6 L1133.5,509.9 L1134.7,510.3 L1135.9,510.7 L1137.1,511.0 L1138.3,511.4 L1139.5,511.7 L1140.7,512.1 L1141.9,512.4 L1143.1,512.8 L1144.2,513.1 L1145.4,513.5 L1146.6,513.8 L1147.8,514.2 L1149.0,514.5 L1150.2,514.9 L1151.4,515.2 L1152.6,515.6 L1153.8,515.9 L1155.0,516.3 L1156.2,516.6 L1157.3,517.0 L1158.5,517.3 L1159.7,517.6 L1160.9,518.0 L1162.1,518.3 L1163.3,518.6 L1164.5,519.0 L1165.7,519.3 L1166.9,519.6 L1168.1,520.0 L1169.2,520.3 L1170.4,520.6 L1171.6,521.0 L1172.8,521.3 L1174.0,521.6 L1175.2,522.0 L1176.4,522.3 L1177.6,522.6 L1178.8,522.9 L1180.0,523.3 L1181.2,523.6 L1182.3,523.9 L1183.5,524.2 L1184.7,524.6 L1185.9,524.9 L1187.1,525.2 L1188.3,525.5 L1189.5,525.8 L1190.7,526.1 L1191.9,526.5 L1193.1,526.8 L1194.3,527.1 L1195.4,527.4 L1196.6,527.7 L1197.8,528.0 L1199.0,528.3 L1200.2,528.6 L1201.4,529.0 L1202.6,529.3 L1203.8,529.6 L1205.0,529.9 L1206.2,530.2 L1207.4,530.5 L1208.5,530.8 L1209.7,531.1 L1210.9,531.4 L1212.1,531.7 L1213.3,532.0 L1214.5,532.3 L1215.7,532.6 L1216.9,532.9 L1218.1,533.2 L1219.3,533.5 L1220.4,533.8 L1221.6,534.1 L1222.8,534.4 L1224.0,534.7 L1225.2,535.0 L1226.4,535.3 L1227.6,535.6 L1228.8,535.8 L1230.0,536.1 L1231.2,536.4 L1232.4,536.7 L1233.5,537.0 L1234.7,537.3 L1235.9,537.6 L1237.1,537.9 L1238.3,538.1 L1239.5,538.4 L1240.7,538.7 L1241.9,539.0 L1243.1,539.3 L1244.3,539.6 L1245.5,539.8 L1246.6,540.1 L1247.8,540.4 L1249.0,540.7 L1250.2,541.0 L1251.4,541.2 L1252.6,541.5 L1253.8,541.8 L1255.0,542.1 L1256.2,542.3 L1257.4,542.6 L1258.6,542.9 L1259.7,543.2 L1260.9,543.4 L1262.1,543.7 L1263.3,544.0 L1264.5,544.2 L1265.7,544.5 L1266.9,544.8 L1268.1,545.0 L1269.3,545.3 L1270.5,545.6 L1271.6,545.8 L1272.8,546.1 L1274.0,546.4 L1275.2,546.6 L1276.4,546.9 L1277.6,547.2 L1278.8,547.4 L1280.0,547.7 L1281.2,547.9 L1282.4,548.2 L1283.6,548.5 L1284.7,548.7 L1285.9,549.0 L1287.1,549.2 L1288.3,549.5 L1289.5,549.8 L1290.7,550.0 L1291.9,550.3 L1293.1,550.5 L1294.3,550.8 L1295.5,551.0 L1296.7,551.3 L1297.8,551.5 L1299.0,551.8 L1300.2,552.0 L1301.4,552.3 L1302.6,552.5 L1303.8,552.8 L1305.0,553.0 L1306.2,553.3 L1307.4,553.5 L1308.6,553.8 L1309.8,554.0 L1310.9,554.3 L1312.1,554.5 L1313.3,554.7 L1314.5,555.0 L1315.7,555.2 L1316.9,555.5 L1318.1,555.7 L1319.3,556.0 L1320.5,556.2 L1321.7,556.4 L1322.8,556.7 L1324.0,556.9 L1325.2,557.2 L1326.4,557.4 L1327.6,557.6 L1328.8,557.9 L1330.0,558.1 L1331.2,558.3 L1332.4,558.6 L1333.6,558.8 L1334.8,559.0 L1335.9,559.3 L1337.1,559.5 L1338.3,559.7 L1339.5,560.0 L1340.7,560.2 L1341.9,560.4 L1343.1,560.7 L1344.3,560.9 L1345.5,561.1 L1346.7,561.4 L1347.9,561.6 L1349.0,561.8 L1350.2,562.0 L1351.4,562.3 L1352.6,562.5 L1353.8,562.7 L1355.0,562.9 L1356.2,563.2 L1357.4,563.4 L1358.6,563.6 L1359.8,563.8 L1361.0,564.1 L1362.1,564.3 L1363.3,564.5 L1364.5,564.7 L1365.7,565.0 L1366.9,565.2 L1368.1,565.4 L1369.3,565.6 L1370.5,565.8 L1371.7,566.1 L1372.9,566.3 L1374.0,566.5 L1375.2,566.7 L1376.4,566.9 L1377.6,567.1 L1378.8,567.4 L1380.0,567.6 L1381.2,567.8 L1382.4,568.0 L1383.6,568.2 L1384.8,568.4 L1386.0,568.6 L1387.1,568.9 L1388.3,569.1 L1389.5,569.3 L1390.7,569.5 L1391.9,569.7 L1393.1,569.9 L1394.3,570.1 L1395.5,570.3 L1396.7,570.5 L1397.9,570.7 L1399.1,571.0 L1400.2,571.2 L1401.4,571.4 L1402.6,571.6 L1403.8,571.8 L1405.0,572.0 L1406.2,572.2 L1407.4,572.4 L1408.6,572.6 L1409.8,572.8 L1411.0,573.0 L1412.2,573.2 L1413.3,573.4 L1414.5,573.6 L1415.7,573.8 L1416.9,574.0 L1418.1,574.2 L1419.3,574.4 L1420.5,574.6 L1421.7,574.8 L1422.9,575.0 L1424.1,575.2 L1425.2,575.4 L1426.4,575.6 L1427.6,575.8 L1428.8,576.0 L1430.0,576.2 L1431.2,576.4 L1432.4,576.6 L1433.6,576.8 L1434.8,577.0 L1436.0,577.2 L1437.2,577.4 L1438.3,577.6 L1439.5,577.8 L1440.7,578.0 L1441.9,578.2 L1443.1,578.3 L1444.3,578.5 L1445.5,578.7 L1446.7,578.9 L1447.9,579.1 L1449.1,579.3 L1450.3,579.5 L1451.4,579.7 L1452.6,579.9 L1453.8,580.1 L1455.0,580.2 L1456.2,580.4 L1457.4,580.6 L1458.6,580.8 L1459.8,581.0 L1461.0,581.2 L1462.2,581.4 L1463.4,581.6 L1464.5,581.7 L1465.7,581.9 L1466.9,582.1 L1468.1,582.3 L1469.3,582.5 L1470.5,582.7 L1471.7,582.8 L1472.9,583.0 L1474.1,583.2 L1475.3,583.4 L1476.4,583.6 L1477.6,583.8 L1478.8,583.9 L1480.0,584.1 L1481.2,584.3 L1482.4,584.5 L1483.6,584.7 L1484.8,584.8 L1486.0,585.0 L1487.2,585.2 L1488.4,585.4 L1489.5,585.5 L1490.7,585.7 L1491.9,585.9 L1493.1,586.1 L1494.3,586.3 L1495.5,586.4 L1496.7,586.6 L1497.9,586.8 L1499.1,587.0 L1500.3,587.1 L1501.5,587.3 L1502.6,587.5 L1503.8,587.7 L1505.0,587.8 L1506.2,588.0 L1507.4,588.2 L1508.6,588.3 L1509.8,588.5 L1511.0,588.7 L1512.2,588.9 L1513.4,589.0 L1514.6,589.2 L1515.7,589.4 L1516.9,589.5 L1518.1,589.7 L1519.3,589.9 L1520.5,590.0 L1521.7,590.2 L1522.9,590.4 L1524.1,590.5 L1525.3,590.7 L1526.5,590.9 L1527.6,591.0 L1528.8,591.2 L1530.0,591.4 L1531.2,591.5 L1532.4,591.7 L1533.6,591.9 L1534.8,592.0 L1536.0,592.2 L1537.2,592.4 L1538.4,592.5 L1539.6,592.7 L1540.7,592.8 L1541.9,593.0 L1543.1,593.2 L1544.3,593.3 L1545.5,593.5 L1546.7,593.7 L1547.9,593.8 L1549.1,594.0 L1550.3,594.1 L1551.5,594.3 L1552.7,594.5 L1553.8,594.6 L1555.0,594.8 L1556.2,594.9 L1557.4,595.1 L1558.6,595.3 L1559.8,595.4 L1561.0,595.6 L1562.2,595.7 L1563.4,595.9 L1564.6,596.0 L1565.8,596.2 L1566.9,596.3 L1568.1,596.5 L1569.3,596.7 L1570.5,596.8 L1571.7,597.0 L1572.9,597.1 L1574.1,597.3 L1575.3,597.4 L1576.5,597.6 L1577.7,597.7 L1578.8,597.9 L1580.0,598.0 L1581.2,598.2 L1582.4,598.3 L1583.6,598.5 L1584.8,598.6 L1586.0,598.8 L1587.2,599.1 L1588.4,599.4 L1589.6,599.7 L1590.8,600.0 L1591.9,600.3 L1593.1,600.7 L1594.3,601.0 L1595.5,601.4 L1596.7,601.8 L1597.9,602.2 L1599.1,602.6 L1600.3,603.1 L1601.5,603.6 L1602.7,604.1 L1603.9,604.6 L1605.0,605.2 L1606.2,605.8 L1607.4,606.4 L1608.6,607.0 L1609.8,607.6 L1611.0,608.3 L1612.2,609.0 L1613.4,609.7 L1614.6,610.5 L1615.8,611.3 L1617.0,612.1 L1618.1,612.9 L1619.3,613.8 L1620.5,614.7 L1621.7,615.7 L1622.9,616.7 L1624.1,617.8 L1625.3,618.9 L1626.5,620.0 L1627.7,621.3 L1628.9,622.6 L1630.0,623.9 L1631.2,625.4 L1632.4,626.9 L1633.6,628.5 L1634.8,630.2 L1636.0,632.0 L1637.2,633.9 L1638.4,635.9 L1639.6,637.9 L1640.8,640.1 L1642.0,642.4 L1643.1,644.9 L1644.3,647.4 L1645.5,650.1 L1646.7,652.8 L1647.9,655.7 L1649.1,658.8 L1650.3,661.9 L1651.5,665.2 L1652.7,668.7 L1653.9,672.3 L1655.1,676.0 L1656.2,679.8 L1657.4,683.8 L1658.6,688.0 L1659.8,692.3 L1661.0,696.8 L1662.2,701.3 L1663.4,706.1 L1664.6,711.0 L1665.8,716.0 L1667.0,721.2 L1668.2,726.6 L1669.3,732.1 L1670.5,737.7 L1671.7,743.5 L1672.9,749.5 L1674.1,755.5 L1675.3,761.8 L1676.5,768.2 L1677.7,774.7 L1678.9,781.3 L1680.1,788.2 L1681.2,795.1 L1682.4,802.2 L1683.6,809.4 L1684.8,816.7 L1686.0,824.2 L1687.2,831.8 L1688.4,839.5 L1689.6,847.3 L1690.8,855.2 L1692.0,863.3 L1693.2,871.4 L1694.3,879.6 L1695.5,888.0 L1696.7,896.4 L1697.9,904.9 L1699.1,913.4 L1700.3,922.1 L1701.5,930.7 L1702.7,939.5 L1703.9,948.3 L1705.1,957.1 L1706.3,965.9 L1707.4,974.8 L1708.6,983.7 L1709.8,992.6 L1711.0,1001.5 L1712.2,1010.4 L1713.4,1019.3 L1714.6,1028.2 L1715.8,1037.0 L1717.0,1045.8 L1718.2,1054.6 L1719.4,1063.3 L1720.5,1072.0 L1721.7,1080.6 L1722.9,1089.1 L1724.1,1097.5 L1725.3,1105.9 L1726.5,1114.1 L1727.7,1122.3 L1728.9,1130.4 L1730.1,1138.3 L1731.3,1146.2 L1732.4,1153.9 L1733.6,1161.6 L1734.8,1169.1 L1736.0,1176.4 L1737.2,1183.7 L1738.4,1190.8 L1739.6,1197.8 L1740.8,1204.7 L1742.0,1211.4 L1743.2,1218.0 L1744.4,1224.4 L1745.5,1230.7 L1746.7,1236.9 L1747.9,1242.9 L1749.1,1248.7 L1750.3,1254.4 L1751.5,1260.0 L1752.7,1265.4 L1753.9,1270.6 L1755.1,1275.7 L1756.3,1280.7 L1757.5,1285.5 L1758.6,1290.1 L1759.8,1294.6 L1761.0,1299.0 L1762.2,1303.2 L1763.4,1307.2 L1764.6,1311.1 L1765.8,1314.9 L1767.0,1318.5 L1768.2,1322.0 L1769.4,1325.3 L1770.6,1328.5 L1771.7,1331.5 L1772.9,1334.4 L1774.1,1337.2 L1775.3,1339.9 L1776.5,1342.4 L1777.7,1344.7 L1778.9,1347.0 L1780.1,1349.1 L1781.3,1351.1 L1782.5,1352.9 L1783.6,1354.6 L1784.8,1356.2 L1786.0,1357.7 L1787.2,1359.0 L1788.4,1360.2 L1789.6,1361.3 L1790.8,1362.3 L1792.0,1363.1 L1793.2,1363.9 L1794.4,1364.5 L1795.6,1365.1 L1796.7,1365.6 L1797.9,1366.0 L1799.1,1366.4 L1800.3,1366.6 L1801.5,1366.9 L1802.7,1367.1 L1803.9,1367.2 L1805.1,1367.3 L1806.3,1367.4 L1807.5,1367.5 L1808.7,1367.5 L1809.8,1367.5 L1811.0,1367.5 L1812.2,1367.5 L1813.4,1367.5 L1814.6,1367.4 L1815.8,1367.3 L1817.0,1367.2 L1818.2,1367.0 L1819.4,1366.8 L1820.6,1366.6 L1821.8,1366.3 L1822.9,1365.9 L1824.1,1365.5 L1825.3,1365.0 L1826.5,1364.5 L1827.7,1364.0 L1828.9,1363.3 L1830.1,1362.6 L1831.3,1361.9 L1832.5,1361.1 L1833.7,1360.3 L1834.8,1359.4 L1836.0,1358.5 L1837.2,1357.6 L1838.4,1356.6 L1839.6,1355.6 L1840.8,1354.5 L1842.0,1353.4 L1843.2,1352.3 L1844.4,1351.2 L1845.6,1350.1 L1846.8,1348.9 L1847.9,1347.7 L1849.1,1346.5 L1850.3,1345.3 L1851.5,1344.1 L1852.7,1342.8 L1853.9,1341.6 L1855.1,1340.3 L1856.3,1339.1 L1857.5,1337.8 L1858.7,1336.5 L1859.9,1335.2 L1861.0,1333.9 L1862.2,1332.6 L1863.4,1331.3 L1864.6,1330.0 L1865.8,1328.6 L1867.0,1327.3 L1868.2,1326.0 L1869.4,1324.6 L1870.6,1323.3 L1871.8,1321.9 L1873.0,1320.6 L1874.1,1319.2 L1875.3,1317.9 L1876.5,1316.5 L1877.7,1315.1 L1878.9,1313.7 L1880.1,1312.4 L1881.3,1311.0 L1882.5,1309.6 L1883.7,1308.1 L1884.9,1306.7 L1886.0,1305.3 L1887.2,1303.9 L1888.4,1302.4 L1889.6,1301.0 L1890.8,1299.5 L1892.0,1298.1 L1893.2,1296.6 L1894.4,1295.2 L1895.6,1293.7 L1896.8,1292.2 L1898.0,1290.8 L1899.1,1289.3 L1900.3,1287.8 L1901.5,1286.4 L1902.7,1284.9 L1903.9,1283.4 L1905.1,1282.0 L1906.3,1280.5 L1907.5,1279.0 L1908.7,1277.6 L1909.9,1276.1 L1911.1,1274.7 L1912.2,1273.2 L1913.4,1271.8 L1914.6,1270.3 L1915.8,1268.9 L1917.0,1267.4 L1918.2,1266.0 L1919.4,1264.6 L1920.6,1263.1 L1921.8,1261.7 L1923.0,1260.3 L1924.2,1258.9 L1925.3,1257.5 L1926.5,1256.1 L1927.7,1254.7 L1928.9,1253.3 L1930.1,1252.0 L1931.3,1250.6 L1932.5,1249.2 L1933.7,1247.9 L1934.9,1246.5 L1936.1,1245.2 L1937.2,1243.9 L1938.4,1242.6 L1939.6,1241.2 L1940.8,1239.9 L1942.0,1238.6 L1943.2,1237.4 L1944.4,1236.1 L1945.6,1234.8 L1946.8,1233.6 L1948.0,1232.3 L1949.2,1231.1 L1950.3,1229.8 L1951.5,1228.6 L1952.7,1227.4 L1953.9,1226.2 L1955.1,1225.0 L1956.3,1223.8 L1957.5,1222.6 L1958.7,1221.4 L1959.9,1220.3 L1961.1,1219.1 L1962.3,1217.9 L1963.4,1216.8 L1964.6,1215.6 L1965.8,1214.5 L1967.0,1213.4 L1968.2,1212.2 L1969.4,1211.1 L1970.6,1210.0 L1971.8,1208.8 L1973.0,1207.7 L1974.2,1206.6 L1975.4,1205.5 L1976.5,1204.4 L1977.7,1203.3 L1978.9,1202.2 L1980.1,1201.1 L1981.3,1199.9 L1982.5,1198.8 L1983.7,1197.8 L1984.9,1196.7 L1986.1,1195.6 L1987.3,1194.5 L1988.4,1193.4 L1989.6,1192.3 L1990.8,1191.2 L1992.0,1190.2 L1993.2,1189.1 L1994.4,1188.0 L1995.6,1187.0 L1996.8,1185.9 L1998.0,1184.8 L1999.2,1183.8 L2000.4,1182.7 L2001.5,1181.7 L2002.7,1180.7 L2003.9,1179.6 L2005.1,1178.6 L2006.3,1177.5 L2007.5,1176.5 L2008.7,1175.5 L2009.9,1174.5 L2011.1,1173.4 L2012.3,1172.4 L2013.5,1171.4 L2014.6,1170.4 L2015.8,1169.4 L2017.0,1168.4 L2018.2,1167.4 L2019.4,1166.4 L2020.6,1165.4 L2021.8,1164.4 L2023.0,1163.5 L2024.2,1162.5 L2025.4,1161.5 L2026.6,1160.5 L2027.7,1159.6 L2028.9,1158.6 L2030.1,1157.7 L2031.3,1156.7 L2032.5,1155.8 L2033.7,1154.8 L2034.9,1153.9 L2036.1,1152.9 L2037.3,1152.0 L2038.5,1151.1 L2039.7,1150.2 L2040.8,1149.2 L2042.0,1148.3 L2043.2,1147.4 L2044.4,1146.5 L2045.6,1145.6 L2046.8,1144.7 L2048.0,1143.8 L2049.2,1142.9 L2050.4,1142.1 L2051.6,1141.2 L2052.7,1140.3 L2053.9,1139.4 L2055.1,1138.6 L2056.3,1137.7 L2057.5,1136.9 L2058.7,1136.0 L2059.9,1135.2 L2061.1,1134.3 L2062.3,1133.5 L2063.5,1132.6 L2064.7,1131.8 L2065.8,1131.0 L2067.0,1130.2 L2068.2,1129.3 L2069.4,1128.5 L2070.6,1127.7 L2071.8,1126.9 L2073.0,1126.1 L2074.2,1125.3 L2075.4,1124.5 L2076.6,1123.7 L2077.8,1122.9 L2078.9,1122.1 L2080.1,1121.4 L2081.3,1120.6 L2082.5,1119.8 L2083.7,1119.0 L2084.9,1118.3 L2086.1,1117.5 L2087.3,1116.8 L2088.5,1116.0 L2089.7,1115.2 L2090.9,1114.5 L2092.0,1113.8 L2093.2,1113.0 L2094.4,1112.3 L2095.6,1111.6 L2096.8,1110.8 L2098.0,1110.1 L2099.2,1109.4 L2100.4,1108.7 L2101.6,1107.9 L2102.8,1107.2 L2103.9,1106.5 L2105.1,1105.8 L2106.3,1105.1 L2107.5,1104.4 L2108.7,1103.7 L2109.9,1103.0 L2111.1,1102.4 L2112.3,1101.7 L2113.5,1101.0 L2114.7,1100.3 L2115.9,1099.6 L2117.0,1099.0 L2118.2,1098.3 L2119.4,1097.6 L2120.6,1097.0 L2121.8,1096.3 L2123.0,1095.7 L2124.2,1095.0 L2125.4,1094.4 L2126.6,1093.7 L2127.8,1093.1 L2129.0,1092.4 L2130.1,1091.8 L2131.3,1091.2 L2132.5,1090.5 L2133.7,1089.9 L2134.9,1089.3 L2136.1,1088.7 L2137.3,1088.0 L2138.5,1087.4 L2139.7,1086.8 L2140.9,1086.2 L2142.1,1085.6 L2143.2,1085.0 L2144.4,1084.4 L2145.6,1083.8 L2146.8,1083.2 L2147.3,1083.0" stroke="#000" stroke-dasharray="8.66 11.54"/>
<path d="M254.8,870.5 L256.0,870.5 L257.2,870.5 L258.4,870.5 L259.6,870.5 L260.7,870.5 L261.9,870.5 L263.1,870.5 L264.3,870.5 L265.5,870.5 L266.7,870.5 L267.9,870.5 L269.1,870.5 L270.3,870.5 L271.5,870.5 L272.7,870.5 L273.8,870.5 L275.0,870.5 L276.2,870.5 L277.4,870.5 L278.6,870.5 L279.8,870.5 L281.0,870.5 L282.2,870.5 L283.4,870.5 L284.6,870.5 L285.7,870.5 L286.9,870.5 L288.1,870.5 L289.3,870.5 L290.5,870.5 L291.7,870.5 L292.9,870.5 L294.1,870.5 L295.3,870.5 L296.5,870.5 L297.7,870.5 L298.8,870.5 L300.0,870.5 L301.2,870.5 L302.4,870.5 L303.6,870.5 L304.8,870.5 L306.0,870.5 L307.2,870.5 L308.4,870.5 L309.6,870.5 L310.8,870.5 L311.9,870.5 L313.1,870.5 L314.3,870.5 L315.5,870.5 L316.7,870.5 L317.9,870.5 L319.1,870.5 L320.3,870.5 L321.5,870.5 L322.7,870.5 L323.9,870.5 L325.0,870.5 L326.2,870.5 L327.4,870.5 L328.6,870.5 L329.8,870.5 L331.0,870.5 L332.2,870.5 L333.4,870.5 L334.6,870.5 L335.8,870.5 L336.9,870.5 L338.1,870.5 L339.3,870.5 L340.5,870.5 L341.7,870.5 L342.9,870.5 L344.1,870.5 L345.3,870.5 L346.5,870.5 L347.7,870.5 L348.9,870.5 L350.0,870.5 L351.2,870.5 L352.4,870.5 L353.6,870.5 L354.8,870.5 L356.0,870.5 L357.2,870.5 L358.4,870.5 L359.6,870.5 L360.8,870.5 L362.0,870.5 L363.1,870.5 L364.3,870.5 L365.5,870.5 L366.7,870.5 L367.9,870.5 L369.1,870.5 L370.3,870.5 L371.5,870.5 L372.7,870.5 L373.9,870.5 L375.1,870.5 L376.2,870.5 L377.4,870.5 L378.6,870.5 L379.8,870.5 L381.0,870.5 L382.2,870.5 L383.4,870.5 L384.6,870.5 L385.8,870.5 L387.0,870.5 L388.1,870.5 L389.3,870.5 L390.5,870.5 L391.7,870.5 L392.9,870.5 L394.1,870.5 L395.3,870.5 L396.5,870.5 L397.7,870.5 L398.9,870.5 L400.1,870.5 L401.2,870.5 L402.4,870.5 L403.6,870.5 L404.8,870.5 L406.0,870.5 L407.2,870.5 L408.4,870.5 L409.6,870.5 L410.8,870.5 L412.0,870.5 L413.2,870.5 L414.3,870.5 L415.5,870.5 L416.7,870.5 L417.9,870.5 L419.1,870.5 L420.3,870.5 L421.5,870.5 L422.7,870.5 L423.9,870.5 L425.1,870.5 L426.3,870.5 L427.4,870.5 L428.6,870.5 L429.8,870.5 L431.0,870.5 L432.2,870.5 L433.4,870.5 L434.6,870.5 L435.8,870.5 L437.0,870.5 L438.2,870.5 L439.3,870.5 L440.5,870.5 L441.7,870.5 L442.9,870.5 L444.1,870.5 L445.3,870.5 L446.5,870.5 L447.7,870.5 L448.9,870.5 L450.1,870.5 L451.3,870.5 L452.4,870.5 L453.6,870.5 L454.8,870.5 L456.0,870.6 L457.2,870.8 L458.4,870.9 L459.6,871.1 L460.8,871.3 L462.0,871.5 L463.2,871.7 L464.4,871.9 L465.5,872.1 L466.7,872.4 L467.9,872.7 L469.1,873.0 L470.3,873.4 L471.5,873.7 L472.7,874.1 L473.9,874.5 L475.1,874.9 L476.3,875.4 L477.5,875.9 L478.6,876.4 L479.8,876.9 L481.0,877.5 L482.2,878.1 L483.4,878.7 L484.6,879.3 L485.8,880.0 L487.0,880.7 L488.2,881.4 L489.4,882.2 L490.5,883.0 L491.7,883.9 L492.9,884.8 L494.1,885.8 L495.3,886.8 L496.5,887.9 L497.7,889.0 L498.9,890.2 L500.1,891.6 L501.3,892.9 L502.5,894.4 L503.6,896.0 L504.8,897.6 L506.0,899.4 L507.2,901.2 L508.4,903.2 L509.6,905.2 L510.8,907.4 L512.0,909.7 L513.2,912.1 L514.4,914.6 L515.6,917.2 L516.7,920.0 L517.9,922.9 L519.1,925.9 L520.3,929.1 L521.5,932.4 L522.7,935.8 L523.9,939.4 L525.1,943.1 L526.3,947.0 L527.5,951.0 L528.7,955.2 L529.8,959.5 L531.0,964.0 L532.2,968.6 L533.4,973.3 L534.6,978.3 L535.8,983.3 L537.0,988.5 L538.2,993.9 L539.4,999.4 L540.6,1005.1 L541.7,1010.9 L542.9,1016.8 L544.1,1022.9 L545.3,1029.2 L546.5,1035.6 L547.7,1042.1 L548.9,1048.8 L550.1,1055.6 L551.3,1062.6 L552.5,1069.6 L553.7,1076.8 L554.8,1084.2 L556.0,1091.6 L557.2,1099.2 L558.4,1106.9 L559.6,1114.7 L560.8,1122.6 L562.0,1130.6 L563.2,1138.7 L564.4,1146.9 L565.6,1155.2 L566.8,1163.6 L567.9,1172.0 L569.1,1180.5 L570.3,1189.1 L571.5,1197.7 L572.7,1206.3 L573.9,1215.0 L575.1,1223.8 L576.3,1232.5 L577.5,1241.3 L578.7,1250.0 L579.9,1258.8 L581.0,1267.6 L582.2,1276.4 L583.4,1285.1 L584.6,1293.8 L585.8,1302.5 L587.0,1311.2 L588.2,1319.8 L589.4,1328.3 L590.6,1336.8 L591.8,1345.2 L592.9,1353.5 L594.1,1361.7 L595.3,1369.8 L596.5,1377.9 L597.7,1385.8 L598.9,1393.7 L600.1,1401.4 L601.3,1409.0 L602.5,1416.5 L603.7,1423.9 L604.9,1431.2 L606.0,1438.3 L607.2,1445.3 L608.4,1452.2 L609.6,1458.9 L610.8,1465.5 L612.0,1472.0 L613.2,1478.3 L614.4,1484.5 L615.6,1490.5 L616.8,1496.4 L618.0,1502.1 L619.1,1507.7 L620.3,1513.1 L621.5,1518.4 L622.7,1523.6 L623.9,1528.5 L625.1,1533.4 L626.3,1538.1 L627.5,1542.6 L628.7,1547.0 L629.9,1551.2 L631.1,1555.3 L632.2,1559.2 L633.4,1563.0 L634.6,1566.6 L635.8,1570.1 L637.0,1573.5 L638.2,1576.7 L639.4,1579.8 L640.6,1582.7 L641.8,1585.5 L643.0,1588.2 L644.1,1590.7 L645.3,1593.1 L646.5,1595.3 L647.7,1597.5 L648.9,1599.5 L650.1,1601.3 L651.3,1603.1 L652.5,1604.7 L653.7,1606.1 L654.9,1607.5 L656.1,1608.7 L657.2,1609.8 L658.4,1610.8 L659.6,1611.6 L660.8,1612.4 L662.0,1613.0 L663.2,1613.6 L664.4,1614.0 L665.6,1614.4 L666.8,1614.7 L668.0,1614.9 L669.2,1615.1 L670.3,1615.2 L671.5,1615.3 L672.7,1615.3 L673.9,1615.3 L675.1,1615.3 L676.3,1615.3 L677.5,1615.2 L678.7,1615.1 L679.9,1615.0 L681.1,1614.9 L682.3,1614.7 L683.4,1614.5 L684.6,1614.3 L685.8,1614.1 L687.0,1613.8 L688.2,1613.5 L689.4,1613.1 L690.6,1612.7 L691.8,1612.3 L693.0,1611.7 L694.2,1611.2 L695.3,1610.6 L696.5,1609.9 L697.7,1609.1 L698.9,1608.4 L700.1,1607.5 L701.3,1606.6 L702.5,1605.7 L703.7,1604.7 L704.9,1603.7 L706.1,1602.6 L707.3,1601.5 L708.4,1600.4 L709.6,1599.3 L710.8,1598.1 L712.0,1596.9 L713.2,1595.6 L714.4,1594.4 L715.6,1593.1 L716.8,1591.8 L718.0,1590.5 L719.2,1589.2 L720.4,1587.9 L721.5,1586.5 L722.7,1585.2 L723.9,1583.8 L725.1,1582.4 L726.3,1581.0 L727.5,1579.7 L728.7,1578.3 L729.9,1576.9 L731.1,1575.4 L732.3,1574.0 L733.5,1572.6 L734.6,1571.2 L735.8,1569.7 L737.0,1568.3 L738.2,1566.9 L739.4,1565.4 L740.6,1564.0 L741.8,1562.5 L743.0,1561.0 L744.2,1559.6 L745.4,1558.1 L746.5,1556.6 L747.7,1555.1 L748.9,1553.6 L750.1,1552.1 L751.3,1550.6 L752.5,1549.1 L753.7,1547.6 L754.9,1546.1 L756.1,1544.6 L757.3,1543.0 L758.5,1541.5 L759.6,1539.9 L760.8,1538.4 L762.0,1536.8 L763.2,1535.2 L764.4,1533.7 L765.6,1532.1 L766.8,1530.5 L768.0,1529.0 L769.2,1527.4 L770.4,1525.8 L771.6,1524.3 L772.7,1522.7 L773.9,1521.1 L775.1,1519.6 L776.3,1518.0 L777.5,1516.4 L778.7,1514.9 L779.9,1513.3 L781.1,1511.8 L782.3,1510.2 L783.5,1508.7 L784.7,1507.2 L785.8,1505.6 L787.0,1504.1 L788.2,1502.6 L789.4,1501.0 L790.6,1499.5 L791.8,1498.0 L793.0,1496.5 L794.2,1495.0 L795.4,1493.5 L796.6,1492.0 L797.7,1490.5 L798.9,1489.1 L800.1,1487.6 L801.3,1486.1 L802.5,1484.7 L803.7,1483.2 L804.9,1481.8 L806.1,1480.4 L807.3,1479.0 L808.5,1477.6 L809.7,1476.2 L810.8,1474.8 L812.0,1473.4 L813.2,1472.0 L814.4,1470.7 L815.6,1469.3 L816.8,1468.0 L818.0,1466.6 L819.2,1465.3 L820.4,1464.0 L821.6,1462.7 L822.8,1461.4 L823.9,1460.1 L825.1,1458.8 L826.3,1457.5 L827.5,1456.2 L828.7,1455.0 L829.9,1453.7 L831.1,1452.5 L832.3,1451.2 L833.5,1450.0 L834.7,1448.7 L835.9,1447.5 L837.0,1446.3 L838.2,1445.0 L839.4,1443.8 L840.6,1442.6 L841.8,1441.4 L843.0,1440.2 L844.2,1439.0 L845.4,1437.8 L846.6,1436.6 L847.8,1435.4 L849.0,1434.2 L850.1,1433.0 L851.3,1431.8 L852.5,1430.6 L853.7,1429.4 L854.9,1428.2 L856.1,1427.1 L857.3,1425.9 L858.5,1424.7 L859.7,1423.5 L860.9,1422.4 L862.0,1421.2 L863.2,1420.1 L864.4,1418.9 L865.6,1417.8 L866.8,1416.6 L868.0,1415.5 L869.2,1414.3 L870.4,1413.2 L871.6,1412.1 L872.8,1410.9 L874.0,1409.8 L875.1,1408.7 L876.3,1407.6 L877.5,1406.4 L878.7,1405.3 L879.9,1404.2 L881.1,1403.1 L882.3,1402.0 L883.5,1400.9 L884.7,1399.8 L885.9,1398.7 L887.1,1397.7 L888.2,1396.6 L889.4,1395.5 L890.6,1394.4 L891.8,1393.4 L893.0,1392.3 L894.2,1391.2 L895.4,1390.2 L896.6,1389.1 L897.8,1388.1 L899.0,1387.0 L900.2,1386.0 L901.3,1385.0 L902.5,1383.9 L903.7,1382.9 L904.9,1381.9 L906.1,1380.9 L907.3,1379.9 L908.5,1378.8 L909.7,1377.8 L910.9,1376.8 L912.1,1375.8 L913.2,1374.9 L914.4,1373.9 L915.6,1372.9 L916.8,1371.9 L918.0,1370.9 L919.2,1370.0 L920.4,1369.0 L921.6,1368.1 L922.8,1367.1 L924.0,1366.2 L925.2,1365.2 L926.3,1364.3 L927.5,1363.3 L928.7,1362.4 L929.9,1361.5 L931.1,1360.6 L932.3,1359.6 L933.5,1358.7 L934.7,1357.8 L935.9,1356.9 L937.1,1356.0 L938.3,1355.1 L939.4,1354.2 L940.6,1353.3 L941.8,1352.4 L943.0,1351.5 L944.2,1350.7 L945.4,1349.8 L946.6,1348.9 L947.8,1348.1 L949.0,1347.2 L950.2,1346.3 L951.4,1345.5 L952.5,1344.6 L953.7,1343.8 L954.9,1343.0 L956.1,1342.1 L957.3,1341.3 L958.5,1340.4 L959.7,1339.6 L960.9,1338.8 L962.1,1338.0 L963.3,1337.2 L964.4,1336.4 L965.6,1335.5 L966.8,1334.7 L968.0,1333.9 L969.2,1333.1 L970.4,1332.3 L971.6,1331.6 L972.8,1330.8 L974.0,1330.0 L975.2,1329.2 L976.4,1328.4 L977.5,1327.7 L978.7,1326.9 L979.9,1326.1 L981.1,1325.4 L982.3,1324.6 L983.5,1323.9 L984.7,1323.1 L985.9,1322.4 L987.1,1321.6 L988.3,1320.9 L989.5,1320.1 L990.6,1319.4 L991.8,1318.7 L993.0,1318.0 L994.2,1317.2 L995.4,1316.5 L996.6,1315.8 L997.8,1315.1 L999.0,1314.4 L1000.2,1313.7 L1001.4,1313.0 L1002.6,1312.2 L1003.7,1311.5 L1004.9,1310.9 L1006.1,1310.2 L1007.3,1309.5 L1008.5,1308.8 L1009.7,1308.1 L1010.9,1307.4 L1012.1,1306.7 L1013.3,1306.1 L1014.5,1305.4 L1015.6,1304.7 L1016.8,1304.1 L1018.0,1303.4 L1019.2,1302.7 L1020.4,1302.1 L1021.6,1301.4 L1022.8,1300.8 L1024.0,1300.1 L1025.2,1299.5 L1026.4,1298.8 L1027.6,1298.2 L1028.7,1297.6 L1029.9,1296.9 L1031.1,1296.3 L1032.3,1295.7 L1033.5,1295.0 L1034.7,1294.4 L1035.9,1293.8 L1037.1,1293.2 L1038.3,1292.5 L1039.5,1291.9 L1040.7,1291.3 L1041.8,1290.7 L1043.0,1290.1 L1044.2,1289.5 L1045.4,1288.9 L1046.6,1288.3 L1047.8,1287.7 L1049.0,1287.1 L1050.2,1286.5 L1051.4,1285.9 L1052.6,1285.3 L1053.8,1284.8 L1054.9,1284.2 L1056.1,1283.6 L1057.3,1283.0 L1058.5,1282.5 L1059.7,1281.9 L1060.9,1281.3 L1062.1,1280.7 L1063.3,1280.2 L1064.5,1279.6 L1065.7,1279.1 L1066.8,1278.5 L1068.0,1277.9 L1069.2,1277.4 L1070.4,1276.8 L1071.6,1276.3 L1072.8,1275.8 L1074.0,1275.2 L1075.2,1274.7 L1076.4,1274.1 L1077.6,1273.6 L1078.8,1273.1 L1079.9,1272.5 L1081.1,1272.0 L1082.3,1271.5 L1083.5,1270.9 L1084.7,1270.4 L1085.9,1269.9 L1087.1,1269.4 L1088.3,1268.9 L1089.5,1268.4 L1090.7,1267.8 L1091.9,1267.3 L1093.0,1266.8 L1094.2,1266.3 L1095.4,1265.8 L1096.6,1265.3 L1097.8,1264.8 L1099.0,1264.3 L1100.2,1263.8 L1101.4,1263.3 L1102.6,1262.9 L1103.8,1262.4 L1105.0,1261.9 L1106.1,1261.4 L1107.3,1260.9 L1108.5,1260.4 L1109.7,1260.0 L1110.9,1259.5 L1112.1,1259.0 L1113.3,1258.5 L1114.5,1258.1 L1115.7,1257.6 L1116.9,1257.1 L1118.0,1256.7 L1119.2,1256.2 L1120.4,1255.8 L1121.6,1255.3 L1122.8,1254.8 L1124.0,1254.4 L1125.2,1253.9 L1126.4,1253.5 L1127.6,1253.0 L1128.8,1252.6 L1130.0,1252.1 L1131.1,1251.7 L1132.3,1251.3 L1133.5,1250.8 L1134.7,1250.4 L1135.9,1250.0 L1137.1,1249.5 L1138.3,1249.1 L1139.5,1248.7 L1140.7,1248.2 L1141.9,1247.8 L1143.1,1247.4 L1144.2,1247.0 L1145.4,1246.5 L1146.6,1246.1 L1147.8,1245.7 L1149.0,1245.3 L1150.2,1244.9 L1151.4,1244.5 L1152.6,1244.1 L1153.8,1243.7 L1155.0,1243.3 L1156.2,1242.8 L1157.3,1242.4 L1158.5,1242.0 L1159.7,1241.6 L1160.9,1241.2 L1162.1,1240.9 L1163.3,1240.5 L1164.5,1240.1 L1165.7,1239.7 L1166.9,1239.3 L1168.1,1238.9 L1169.2,1238.5 L1170.4,1238.1 L1171.6,1237.7 L1172.8,1237.4 L1174.0,1237.0 L1175.2,1236.6 L1176.4,1236.2 L1177.6,1235.8 L1178.8,1235.5 L1180.0,1235.1 L1181.2,1234.7 L1182.3,1234.3 L1183.5,1234.0 L1184.7,1233.6 L1185.9,1233.2 L1187.1,1232.9 L1188.3,1232.5 L1189.5,1232.1 L1190.7,1231.8 L1191.9,1231.4 L1193.1,1231.1 L1194.3,1230.7 L1195.4,1230.3 L1196.6,1230.0 L1197.8,1229.6 L1199.0,1229.3 L1200.2,1228.9 L1201.4,1228.6 L1202.6,1228.2 L1203.8,1227.9 L1205.0,1227.5 L1206.2,1227.2 L1207.4,1226.8 L1208.5,1226.5 L1209.7,1226.1 L1210.9,1225.8 L1212.1,1225.4 L1213.3,1225.1 L1214.5,1224.7 L1215.7,1224.4 L1216.9,1224.0 L1218.1,1223.7 L1219.3,1223.4 L1220.4,1223.0 L1221.6,1222.7 L1222.8,1222.4 L1224.0,1222.0 L1225.2,1221.7 L1226.4,1221.4 L1227.6,1221.0 L1228.8,1220.7 L1230.0,1220.4 L1231.2,1220.0 L1232.4,1219.7 L1233.5,1219.4 L1234.7,1219.0 L1235.9,1218.7 L1237.1,1218.4 L1238.3,1218.1 L1239.5,1217.7 L1240.7,1217.4 L1241.9,1217.1 L1243.1,1216.8 L1244.3,1216.4 L1245.5,1216.1 L1246.6,1215.8 L1247.8,1215.5 L1249.0,1215.2 L1250.2,1214.9 L1251.4,1214.5 L1252.6,1214.2 L1253.8,1213.9 L1255.0,1213.6 L1256.2,1213.3 L1257.4,1213.0 L1258.6,1212.7 L1259.7,1212.4 L1260.9,1212.0 L1262.1,1211.7 L1263.3,1211.4 L1264.5,1211.1 L1265.7,1210.8 L1266.9,1210.5 L1268.1,1210.2 L1269.3,1209.9 L1270.5,1209.6 L1271.6,1209.3 L1272.8,1209.0 L1274.0,1208.7 L1275.2,1208.4 L1276.4,1208.1 L1277.6,1207.8 L1278.8,1207.5 L1280.0,1207.2 L1281.2,1206.9 L1282.4,1206.6 L1283.6,1206.3 L1284.7,1206.0 L1285.9,1205.7 L1287.1,1205.4 L1288.3,1205.2 L1289.5,1204.9 L1290.7,1204.6 L1291.9,1204.3 L1293.1,1204.0 L1294.3,1203.7 L1295.5,1203.4 L1296.7,1203.1 L1297.8,1202.9 L1299.0,1202.6 L1300.2,1202.3 L1301.4,1202.0 L1302.6,1201.7 L1303.8,1201.4 L1305.0,1201.2 L1306.2,1200.9 L1307.4,1200.6 L1308.6,1200.3 L1309.8,1200.0 L1310.9,1199.8 L1312.1,1199.5 L1313.3,1199.2 L1314.5,1198.9 L1315.7,1198.7 L1316.9,1198.4 L1318.1,1198.1 L1319.3,1197.8 L1320.5,1197.6 L1321.7,1197.3 L1322.8,1197.0 L1324.0,1196.8 L1325.2,1196.5 L1326.4,1196.2 L1327.6,1196.0 L1328.8,1195.7 L1330.0,1195.4 L1331.2,1195.2 L1332.4,1194.9 L1333.6,1194.6 L1334.8,1194.4 L1335.9,1194.1 L1337.1,1193.8 L1338.3,1193.6 L1339.5,1193.3 L1340.7,1193.1 L1341.9,1192.8 L1343.1,1192.5 L1344.3,1192.3 L1345.5,1192.0 L1346.7,1191.8 L1347.9,1191.5 L1349.0,1191.2 L1350.2,1191.0 L1351.4,1190.7 L1352.6,1190.5 L1353.8,1190.2 L1355.0,1190.0 L1356.2,1189.7 L1357.4,1189.5 L1358.6,1189.2 L1359.8,1189.0 L1361.0,1188.7 L1362.1,1188.5 L1363.3,1188.2 L1364.5,1188.0 L1365.7,1187.7 L1366.9,1187.5 L1368.1,1187.2 L1369.3,1187.0 L1370.5,1186.7 L1371.7,1186.5 L1372.9,1186.3 L1374.0,1186.0 L1375.2,1185.8 L1376.4,1185.5 L1377.6,1185.3 L1378.8,1185.0 L1380.0,1184.8 L1381.2,1184.6 L1382.4,1184.3 L1383.6,1184.1 L1384.8,1183.8 L1386.0,1183.6 L1387.1,1183.4 L1388.3,1183.1 L1389.5,1182.9 L1390.7,1182.7 L1391.9,1182.4 L1393.1,1182.2 L1394.3,1182.0 L1395.5,1181.7 L1396.7,1181.5 L1397.9,1181.3 L1399.1,1181.0 L1400.2,1180.8 L1401.4,1180.6 L1402.6,1180.3 L1403.8,1180.1 L1405.0,1179.9 L1406.2,1179.6 L1407.4,1179.4 L1408.6,1179.2 L1409.8,1179.0 L1411.0,1178.7 L1412.2,1178.5 L1413.3,1178.3 L1414.5,1178.1 L1415.7,1177.8 L1416.9,1177.6 L1418.1,1177.4 L1419.3,1177.2 L1420.5,1176.9 L1421.7,1176.7 L1422.9,1176.5 L1424.1,1176.3 L1425.2,1176.0 L1426.4,1175.8 L1427.6,1175.6 L1428.8,1175.4 L1430.0,1175.2 L1431.2,1174.9 L1432.4,1174.7 L1433.6,1174.5 L1434.8,1174.3 L1436.0,1174.1 L1437.2,1173.9 L1438.3,1173.6 L1439.5,1173.4 L1440.7,1173.2 L1441.9,1173.0 L1443.1,1172.8 L1444.3,1172.6 L1445.5,1172.4 L1446.7,1172.1 L1447.9,1171.9 L1449.1,1171.7 L1450.3,1171.5 L1451.4,1171.3 L1452.6,1171.1 L1453.8,1170.9 L1455.0,1170.7 L1456.2,1170.5 L1457.4,1170.3 L1458.6,1170.0 L1459.8,1169.8 L1461.0,1169.6 L1462.2,1169.4 L1463.4,1169.2 L1464.5,1169.0 L1465.7,1168.8 L1466.9,1168.6 L1468.1,1168.4 L1469.3,1168.2 L1470.5,1168.0 L1471.7,1167.8 L1472.9,1167.6 L1474.1,1167.4 L1475.3,1167.2 L1476.4,1167.0 L1477.6,1166.8 L1478.8,1166.6 L1480.0,1166.4 L1481.2,1166.2 L1482.4,1166.0 L1483.6,1165.8 L1484.8,1165.6 L1486.0,1165.4 L1487.2,1165.2 L1488.4,1165.0 L1489.5,1164.8 L1490.7,1164.6 L1491.9,1164.4 L1493.1,1164.2 L1494.3,1164.0 L1495.5,1163.8 L1496.7,1163.6 L1497.9,1163.4 L1499.1,1163.2 L1500.3,1163.0 L1501.5,1162.8 L1502.6,1162.7 L1503.8,1162.5 L1505.0,1162.3 L1506.2,1162.1 L1507.4,1161.9 L1508.6,1161.7 L1509.8,1161.5 L1511.0,1161.3 L1512.2,1161.1 L1513.4,1160.9 L1514.6,1160.8 L1515.7,1160.6 L1516.9,1160.4 L1518.1,1160.2 L1519.3,1160.0 L1520.5,1159.8 L1521.7,1159.6 L1522.9,1159.4 L1524.1,1159.3 L1525.3,1159.1 L1526.5,1158.9 L1527.6,1158.7 L1528.8,1158.5 L1530.0,1158.3 L1531.2,1158.2 L1532.4,1158.0 L1533.6,1157.8 L1534.8,1157.6 L1536.0,1157.4 L1537.2,1157.2 L1538.4,1157.1 L1539.6,1156.9 L1540.7,1156.7 L1541.9,1156.5 L1543.1,1156.3 L1544.3,1156.2 L1545.5,1156.0 L1546.7,1155.8 L1547.9,1155.6 L1549.1,1155.5 L1550.3,1155.3 L1551.5,1155.1 L1552.7,1154.9 L1553.8,1154.7 L1555.0,1154.6 L1556.2,1154.4 L1557.4,1154.2 L1558.6,1154.0 L1559.8,1153.9 L1561.0,1153.7 L1562.2,1153.5 L1563.4,1153.3 L1564.6,1153.2 L1565.8,1153.0 L1566.9,1152.8 L1568.1,1152.7 L1569.3,1152.5 L1570.5,1152.3 L1571.7,1152.1 L1572.9,1152.0 L1574.1,1151.8 L1575.3,1151.6 L1576.5,1151.5 L1577.7,1151.3 L1578.8,1151.1 L1580.0,1151.0 L1581.2,1150.8 L1582.4,1150.6 L1583.6,1150.5 L1584.8,1150.3 L1586.0,1150.1 L1587.2,1150.0 L1588.4,1149.8 L1589.6,1149.6 L1590.8,1149.5 L1591.9,1149.3 L1593.1,1149.1 L1594.3,1149.0 L1595.5,1148.8 L1596.7,1148.6 L1597.9,1148.5 L1599.1,1148.3 L1600.3,1148.2 L1601.5,1148.0 L1602.7,1147.8 L1603.9,1147.7 L1605.0,1147.5 L1606.2,1147.3 L1607.4,1147.2 L1608.6,1147.0 L1609.8,1146.9 L1611.0,1146.7 L1612.2,1146.5 L1613.4,1146.4 L1614.6,1146.2 L1615.8,1146.1 L1617.0,1145.9 L1618.1,1145.7 L1619.3,1145.6 L1620.5,1145.4 L1621.7,1145.3 L1622.9,1145.1 L1624.1,1145.0 L1625.3,1144.8 L1626.5,1144.7 L1627.7,1144.5 L1628.9,1144.3 L1630.0,1144.2 L1631.2,1144.0 L1632.4,1143.9 L1633.6,1143.7 L1634.8,1143.6 L1636.0,1143.4 L1637.2,1143.3 L1638.4,1143.1 L1639.6,1143.0 L1640.8,1142.8 L1642.0,1142.7 L1643.1,1142.5 L1644.3,1142.4 L1645.5,1142.2 L1646.7,1142.1 L1647.9,1141.9 L1649.1,1141.8 L1650.3,1141.6 L1651.5,1141.5 L1652.7,1141.3 L1653.9,1141.2 L1655.1,1141.0 L1656.2,1140.9 L1657.4,1140.7 L1658.6,1140.6 L1659.8,1140.4 L1661.0,1140.3 L1662.2,1140.1 L1663.4,1140.0 L1664.6,1139.8 L1665.8,1139.7 L1667.0,1139.5 L1668.2,1139.4 L1669.3,1139.2 L1670.5,1139.1 L1671.7,1139.0 L1672.9,1138.8 L1674.1,1138.7 L1675.3,1138.5 L1676.5,1138.4 L1677.7,1138.2 L1678.9,1138.1 L1680.1,1138.0 L1681.2,1137.8 L1682.4,1137.7 L1683.6,1137.5 L1684.8,1137.4 L1686.0,1137.2 L1687.2,1137.1 L1688.4,1137.0 L1689.6,1136.8 L1690.8,1136.7 L1692.0,1136.5 L1693.2,1136.4 L1694.3,1136.3 L1695.5,1136.1 L1696.7,1136.0 L1697.9,1135.8 L1699.1,1135.7 L1700.3,1135.6 L1701.5,1135.4 L1702.7,1135.3 L1703.9,1135.2 L1705.1,1135.0 L1706.3,1134.9 L1707.4,1134.7 L1708.6,1134.6 L1709.8,1134.5 L1711.0,1134.3 L1712.2,1134.2 L1713.4,1134.1 L1714.6,1133.9 L1715.8,1133.8 L1717.0,1133.7 L1718.2,1133.5 L1719.4,1133.4 L1720.5,1133.3 L1721.7,1133.1 L1722.9,1133.0 L1724.1,1132.9 L1725.3,1132.7 L1726.5,1132.6 L1727.7,1132.5 L1728.9,1132.3 L1730.1,1132.2 L1731.3,1132.1 L1732.4,1131.9 L1733.6,1131.8 L1734.8,1131.7 L1736.0,1131.5 L1737.2,1131.4 L1738.4,1131.3 L1739.6,1131.1 L1740.8,1131.0 L1742.0,1130.9 L1743.2,1130.8 L1744.4,1130.6 L1745.5,1130.5 L1746.7,1130.4 L1747.9,1130.2 L1749.1,1130.1 L1750.3,1130.0 L1751.5,1129.8 L1752.7,1129.7 L1753.9,1129.6 L1755.1,1129.5 L1756.3,1129.3 L1757.5,1129.2 L1758.6,1129.1 L1759.8,1129.0 L1761.0,1128.8 L1762.2,1128.7 L1763.4,1128.6 L1764.6,1128.5 L1765.8,1128.3 L1767.0,1128.2 L1768.2,1128.1 L1769.4,1127.9 L1770.6,1127.8 L1771.7,1127.7 L1772.9,1127.6 L1774.1,1127.4 L1775.3,1127.3 L1776.5,1127.2 L1777.7,1127.1 L1778.9,1127.0 L1780.1,1126.8 L1781.3,1126.7 L1782.5,1126.6 L1783.6,1126.5 L1784.8,1126.3 L1786.0,1126.2 L1787.2,1126.1 L1788.4,1126.0 L1789.6,1125.8 L1790.8,1125.7 L1792.0,1125.6 L1793.2,1125.5 L1794.4,1125.4 L1795.6,1125.2 L1796.7,1125.1 L1797.9,1125.0 L1799.1,1124.9 L1800.3,1124.8 L1801.5,1124.6 L1802.7,1124.5 L1803.9,1124.4 L1805.1,1124.3 L1806.3,1124.2 L1807.5,1124.0 L1808.7,1123.9 L1809.8,1123.8 L1811.0,1123.7 L1812.2,1123.6 L1813.4,1123.4 L1814.6,1123.3 L1815.8,1123.2 L1817.0,1123.1 L1818.2,1123.0 L1819.4,1122.9 L1820.6,1122.7 L1821.8,1122.6 L1822.9,1122.5 L1824.1,1122.4 L1825.3,1122.3 L1826.5,1122.2 L1827.7,1122.0 L1828.9,1121.9 L1830.1,1121.8 L1831.3,1121.7 L1832.5,1121.6 L1833.7,1121.5 L1834.8,1121.3 L1836.0,1121.2 L1837.2,1121.1 L1838.4,1121.0 L1839.6,1120.9 L1840.8,1120.8 L1842.0,1120.7 L1843.2,1120.5 L1844.4,1120.4 L1845.6,1120.3 L1846.8,1120.2 L1847.9,1120.1 L1849.1,1120.0 L1850.3,1119.9 L1851.5,1119.7 L1852.7,1119.6 L1853.9,1119.5 L1855.1,1119.4 L1856.3,1119.3 L1857.5,1119.2 L1858.7,1119.1 L1859.9,1119.0 L1861.0,1118.8 L1862.2,1118.7 L1863.4,1118.6 L1864.6,1118.5 L1865.8,1118.4 L1867.0,1118.3 L1868.2,1118.2 L1869.4,1118.1 L1870.6,1118.0 L1871.8,1117.9 L1873.0,1117.7 L1874.1,1117.6 L1875.3,1117.5 L1876.5,1117.4 L1877.7,1117.3 L1878.9,1117.2 L1880.1,1117.1 L1881.3,1117.0 L1882.5,1116.9 L1883.7,1116.8 L1884.9,1116.6 L1886.0,1116.5 L1887.2,1116.4 L1888.4,1116.3 L1889.6,1116.2 L1890.8,1116.1 L1892.0,1116.0 L1893.2,1115.9 L1894.4,1115.8 L1895.6,1115.7 L1896.8,1115.6 L1898.0,1115.5 L1899.1,1115.4 L1900.3,1115.2 L1901.5,1115.1 L1902.7,1115.0 L1903.9,1114.9 L1905.1,1114.8 L1906.3,1114.7 L1907.5,1114.6 L1908.7,1114.5 L1909.9,1114.4 L1911.1,1114.3 L1912.2,1114.2 L1913.4,1114.1 L1914.6,1114.0 L1915.8,1113.9 L1917.0,1113.8 L1918.2,1113.7 L1919.4,1113.6 L1920.6,1113.4 L1921.8,1113.3 L1923.0,1113.2 L1924.2,1113.1 L1925.3,1113.0 L1926.5,1112.9 L1927.7,1112.8 L1928.9,1112.7 L1930.1,1112.6 L1931.3,1112.5 L1932.5,1112.4 L1933.7,1112.3 L1934.9,1112.2 L1936.1,1112.1 L1937.2,1112.0 L1938.4,1111.9 L1939.6,1111.8 L1940.8,1111.7 L1942.0,1111.6 L1943.2,1111.5 L1944.4,1111.4 L1945.6,1111.3 L1946.8,1111.2 L1948.0,1111.1 L1949.2,1111.0 L1950.3,1110.9 L1951.5,1110.8 L1952.7,1110.7 L1953.9,1110.6 L1955.1,1110.5 L1956.3,1110.4 L1957.5,1110.3 L1958.7,1110.2 L1959.9,1110.1 L1961.1,1110.0 L1962.3,1109.9 L1963.4,1109.8 L1964.6,1109.7 L1965.8,1109.6 L1967.0,1109.5 L1968.2,1109.4 L1969.4,1109.3 L1970.6,1109.2 L1971.8,1109.1 L1973.0,1109.0 L1974.2,1108.9 L1975.4,1108.8 L1976.5,1108.7 L1977.7,1108.6 L1978.9,1108.5 L1980.1,1108.4 L1981.3,1108.3 L1982.5,1108.2 L1983.7,1108.1 L1984.9,1108.0 L1986.1,1107.9 L1987.3,1107.8 L1988.4,1107.7 L1989.6,1107.6 L1990.8,1107.5 L1992.0,1107.4 L1993.2,1107.3 L1994.4,1107.2 L1995.6,1107.1 L1996.8,1107.0 L1998.0,1106.9 L1999.2,1106.8 L2000.4,1106.7 L2001.5,1106.6 L2002.7,1106.5 L2003.9,1106.4 L2005.1,1106.4 L2006.3,1106.3 L2007.5,1106.2 L2008.7,1106.1 L2009.9,1106.0 L2011.1,1105.9 L2012.3,1105.8 L2013.5,1105.7 L2014.6,1105.6 L2015.8,1105.5 L2017.0,1105.4 L2018.2,1105.3 L2019.4,1105.2 L2020.6,1105.1 L2021.8,1105.0 L2023.0,1104.9 L2024.2,1104.8 L2025.4,1104.7 L2026.6,1104.6 L2027.7,1104.6 L2028.9,1104.5 L2030.1,1104.4 L2031.3,1104.3 L2032.5,1104.2 L2033.7,1104.1 L2034.9,1104.0 L2036.1,1103.9 L2037.3,1103.8 L2038.5,1103.7 L2039.7,1103.6 L2040.8,1103.5 L2042.0,1103.4 L2043.2,1103.4 L2044.4,1103.3 L2045.6,1103.2 L2046.8,1103.1 L2048.0,1103.0 L2049.2,1102.9 L2050.4,1102.8 L2051.6,1102.7 L2052.7,1102.6 L2053.9,1102.5 L2055.1,1102.4 L2056.3,1102.4 L2057.5,1102.3 L2058.7,1102.2 L2059.9,1102.1 L2061.1,1102.0 L2062.3,1101.9 L2063.5,1101.8 L2064.7,1101.7 L2065.8,1101.6 L2067.0,1101.5 L2068.2,1101.5 L2069.4,1101.4 L2070.6,1101.3 L2071.8,1101.2 L2073.0,1101.1 L2074.2,1101.0 L2075.4,1100.9 L2076.6,1100.8 L2077.8,1100.7 L2078.9,1100.7 L2080.1,1100.6 L2081.3,1100.5 L2082.5,1100.4 L2083.7,1100.3 L2084.9,1100.2 L2086.1,1100.1 L2087.3,1100.0 L2088.5,1100.0 L2089.7,1099.9 L2090.9,1099.8 L2092.0,1099.7 L2093.2,1099.6 L2094.4,1099.5 L2095.6,1099.4 L2096.8,1099.4 L2098.0,1099.3 L2099.2,1099.2 L2100.4,1099.1 L2101.6,1099.0 L2102.8,1098.9 L2103.9,1098.8 L2105.1,1098.8 L2106.3,1098.7 L2107.5,1098.6 L2108.7,1098.5 L2109.9,1098.4 L2111.1,1098.3 L2112.3,1098.2 L2113.5,1098.2 L2114.7,1098.1 L2115.9,1098.0 L2117.0,1097.9 L2118.2,1097.8 L2119.4,1097.7 L2120.6,1097.7 L2121.8,1097.6 L2123.0,1097.5 L2124.2,1097.4 L2125.4,1097.3 L2126.6,1097.2 L2127.8,1097.2 L2129.0,1097.1 L2130.1,1097.0 L2131.3,1096.9 L2132.5,1096.8 L2133.7,1096.8 L2134.9,1096.7 L2136.1,1096.6 L2137.3,1096.5 L2138.5,1096.4 L2139.7,1096.3 L2140.9,1096.3 L2142.1,1096.2 L2143.2,1096.1 L2144.4,1096.0 L2145.6,1095.9 L2146.8,1095.9 L2147.3,1095.8" stroke="#f00" />
<path d="M254.8,870.5 L256.0,870.5 L257.2,870.5 L258.4,870.5 L259.6,870.5 L260.7,870.5 L261.9,870.5 L263.1,870.5 L264.3,870.5 L265.5,870.5 L266.7,870.5 L267.9,870.5 L269.1,870.5 L270.3,870.5 L271.5,870.5 L272.7,870.5 L273.8,870.5 L275.0,870.5 L276.2,870.5 L277.4,870.5 L278.6,870.5 L279.8,870.5 L281.0,870.5 L282.2,870.5 L283.4,870.5 L284.6,870.5 L285.7,870.5 L286.9,870.5 L288.1,870.5 L289.3,870.5 L290.5,870.5 L291.7,870.5 L292.9,870.5 L294.1,870.5 L295.3,870.5 L296.5,870.5 L297.7,870.5 L298.8,870.5 L300.0,870.5 L301.2,870.5 L302.4,870.5 L303.6,870.5 L304.8,870.5 L306.0,870.5 L307.2,870.5 L308.4,870.5 L309.6,870.5 L310.8,870.5 L311.9,870.5 L313.1,870.5 L314.3,870.5 L315.5,870.5 L316.7,870.5 L317.9,870.5 L319.1,870.5 L320.3,870.5 L321.5,870.5 L322.7,870.5 L323.9,870.5 L325.0,870.5 L326.2,870.5 L327.4,870.5 L328.6,870.5 L329.8,870.5 L331.0,870.5 L332.2,870.5 L333.4,870.5 L334.6,870.5 L335.8,870.5 L336.9,870.5 L338.1,870.5 L339.3,870.5 L340.5,870.5 L341.7,870.5 L342.9,870.5 L344.1,870.5 L345.3,870.5 L346.5,870.5 L347.7,870.5 L348.9,870.5 L350.0,870.5 L351.2,870.5 L352.4,870.5 L353.6,870.5 L354.8,870.5 L356.0,870.5 L357.2,870.5 L358.4,870.5 L359.6,870.5 L360.8,870.5 L362.0,870.5 L363.1,870.5 L364.3,870.5 L365.5,870.5 L366.7,870.5 L367.9,870.5 L369.1,870.5 L370.3,870.5 L371.5,870.5 L372.7,870.5 L373.9,870.5 L375.1,870.5 L376.2,870.5 L377.4,870.5 L378.6,870.5 L379.8,870.5 L381.0,870.5 L382.2,870.5 L383.4,870.5 L384.6,870.5 L385.8,870.5 L387.0,870.5 L388.1,870.5 L389.3,870.5 L390.5,870.5 L391.7,870.5 L392.9,870.5 L394.1,870.5 L395.3,870.5 L396.5,870.5 L397.7,870.5 L398.9,870.5 L400.1,870.5 L401.2,870.5 L402.4,870.5 L403.6,870.5 L404.8,870.5 L406.0,870.5 L407.2,870.5 L408.4,870.5 L409.6,870.5 L410.8,870.5 L412.0,870.5 L413.2,870.5 L414.3,870.5 L415.5,870.5 L416.7,870.5 L417.9,870.5 L419.1,870.5 L420.3,870.5 L421.5,870.5 L422.7,870.5 L423.9,870.5 L425.1,870.5 L426.3,870.5 L427.4,870.5 L428.6,870.5 L429.8,870.5 L431.0,870.5 L432.2,870.5 L433.4,870.5 L434.6,870.5 L435.8,870.5 L437.0,870.5 L438.2,870.5 L439.3,870.5 L440.5,870.5 L441.7,870.5 L442.9,870.5 L444.1,870.5 L445.3,870.5 L446.5,870.5 L447.7,870.5 L448.9,870.5 L450.1,870.5 L451.3,870.5 L452.4,870.5 L453.6,870.5 L454.8,870.5 L456.0,870.5 L457.2,870.5 L458.4,870.5 L459.6,870.5 L460.8,870.5 L462.0,870.5 L463.2,870.5 L464.4,870.5 L465.5,870.5 L466.7,870.5 L467.9,870.5 L469.1,870.5 L470.3,870.5 L471.5,870.5 L472.7,870.5 L473.9,870.5 L475.1,870.5 L476.3,870.5 L477.5,870.5 L478.6,870.5 L479.8,870.5 L481.0,870.5 L482.2,870.5 L483.4,870.5 L484.6,870.5 L485.8,870.5 L487.0,870.5 L488.2,870.5 L489.4,870.5 L490.5,870.5 L491.7,870.5 L492.9,870.5 L494.1,870.5 L495.3,870.5 L496.5,870.5 L497.7,870.5 L498.9,870.5 L500.1,870.5 L501.3,870.5 L502.5,870.5 L503.6,870.5 L504.8,870.5 L506.0,870.5 L507.2,870.5 L508.4,870.5 L509.6,870.5 L510.8,870.5 L512.0,870.5 L513.2,870.5 L514.4,870.5 L515.6,870.5 L516.7,870.5 L517.9,870.5 L519.1,870.5 L520.3,870.5 L521.5,870.5 L522.7,870.5 L523.9,870.5 L525.1,870.5 L526.3,870.5 L527.5,870.5 L528.7,870.5 L529.8,870.5 L531.0,870.5 L532.2,870.5 L533.4,870.5 L534.6,870.5 L535.8,870.5 L537.0,870.5 L538.2,870.5 L539.4,870.5 L540.6,870.5 L541.7,870.5 L542.9,870.5 L544.1,870.5 L545.3,870.5 L546.5,870.5 L547.7,870.5 L548.9,870.5 L550.1,870.5 L551.3,870.5 L552.5,870.5 L553.7,870.5 L554.8,870.5 L556.0,870.5 L557.2,870.5 L558.4,870.5 L559.6,870.5 L560.8,870.5 L562.0,870.5 L563.2,870.5 L564.4,870.5 L565.6,870.5 L566.8,870.5 L567.9,870.5 L569.1,870.5 L570.3,870.5 L571.5,870.5 L572.7,870.5 L573.9,870.5 L575.1,870.5 L576.3,870.5 L577.5,870.5 L578.7,870.5 L579.9,870.5 L581.0,870.5 L582.2,870.5 L583.4,870.5 L584.6,870.5 L585.8,870.5 L587.0,870.6 L588.2,870.8 L589.4,870.9 L590.6,871.1 L591.8,871.3 L592.9,871.5 L594.1,871.7 L595.3,871.9 L596.5,872.1 L597.7,872.4 L598.9,872.7 L600.1,873.0 L601.3,873.4 L602.5,873.7 L603.7,874.1 L604.9,874.5 L606.0,874.9 L607.2,875.4 L608.4,875.9 L609.6,876.4 L610.8,876.9 L612.0,877.5 L613.2,878.1 L614.4,878.7 L615.6,879.3 L616.8,880.0 L618.0,880.7 L619.1,881.4 L620.3,882.2 L621.5,883.0 L622.7,883.9 L623.9,884.8 L625.1,885.8 L626.3,886.8 L627.5,887.9 L628.7,889.0 L629.9,890.2 L631.1,891.6 L632.2,892.9 L633.4,894.4 L634.6,896.0 L635.8,897.6 L637.0,899.4 L638.2,901.2 L639.4,903.2 L640.6,905.2 L641.8,907.4 L643.0,909.7 L644.1,912.1 L645.3,914.6 L646.5,917.2 L647.7,920.0 L648.9,922.9 L650.1,925.9 L651.3,929.1 L652.5,932.4 L653.7,935.8 L654.9,939.4 L656.1,943.1 L657.2,947.0 L658.4,951.0 L659.6,955.2 L660.8,959.5 L662.0,964.0 L663.2,968.6 L664.4,973.3 L665.6,978.3 L666.8,983.3 L668.0,988.5 L669.2,993.9 L670.3,999.4 L671.5,1005.1 L672.7,1010.9 L673.9,1016.8 L675.1,1022.9 L676.3,1029.2 L677.5,1035.6 L678.7,1042.1 L679.9,1048.8 L681.1,1055.6 L682.3,1062.6 L683.4,1069.6 L684.6,1076.8 L685.8,1084.2 L687.0,1091.6 L688.2,1099.2 L689.4,1106.9 L690.6,1114.7 L691.8,1122.6 L693.0,1130.6 L694.2,1138.7 L695.3,1146.9 L696.5,1155.2 L697.7,1163.6 L698.9,1172.0 L700.1,1180.5 L701.3,1189.1 L702.5,1197.7 L703.7,1206.3 L704.9,1215.0 L706.1,1223.8 L707.3,1232.5 L708.4,1241.3 L709.6,1250.0 L710.8,1258.8 L712.0,1267.6 L713.2,1276.4 L714.4,1285.1 L715.6,1293.8 L716.8,1302.5 L718.0,1311.2 L719.2,1319.8 L720.4,1328.3 L721.5,1336.8 L722.7,1345.2 L723.9,1353.5 L725.1,1361.7 L726.3,1369.8 L727.5,1377.9 L728.7,1385.8 L729.9,1393.7 L731.1,1401.4 L732.3,1409.0 L733.5,1416.5 L734.6,1423.9 L735.8,1431.2 L737.0,1438.3 L738.2,1445.3 L739.4,1452.2 L740.6,1458.9 L741.8,1465.5 L743.0,1472.0 L744.2,1478.3 L745.4,1484.5 L746.5,1490.5 L747.7,1496.4 L748.9,1502.1 L750.1,1507.7 L751.3,1513.1 L752.5,1518.4 L753.7,1523.6 L754.9,1528.5 L756.1,1533.4 L757.3,1538.1 L758.5,1542.6 L759.6,1547.0 L760.8,1551.2 L762.0,1555.3 L763.2,1559.2 L764.4,1563.0 L765.6,1566.6 L766.8,1570.1 L768.0,1573.5 L769.2,1576.7 L770.4,1579.8 L771.6,1582.7 L772.7,1585.5 L773.9,1588.2 L775.1,1590.7 L776.3,1593.1 L777.5,1595.3 L778.7,1597.5 L779.9,1599.5 L781.1,1601.3 L782.3,1603.1 L783.5,1604.7 L784.7,1606.1 L785.8,1607.5 L787.0,1608.7 L788.2,1609.8 L789.4,1610.8 L790.6,1611.6 L791.8,1612.4 L793.0,1613.0 L794.2,1613.6 L795.4,1614.0 L796.6,1614.4 L797.7,1614.7 L798.9,1614.9 L800.1,1615.1 L801.3,1615.2 L802.5,1615.3 L803.7,1615.3 L804.9,1615.3 L806.1,1615.3 L807.3,1615.3 L808.5,1615.2 L809.7,1615.1 L810.8,1615.0 L812.0,1614.9 L813.2,1614.7 L814.4,1614.5 L815.6,1614.3 L816.8,1614.1 L818.0,1613.8 L819.2,1613.5 L820.4,1613.1 L821.6,1612.7 L822.8,1612.3 L823.9,1611.7 L825.1,1611.2 L826.3,1610.6 L827.5,1609.9 L828.7,1609.1 L829.9,1608.4 L831.1,1607.5 L832.3,1606.6 L833.5,1605.7 L834.7,1604.7 L835.9,1603.7 L837.0,1602.6 L838.2,1601.5 L839.4,1600.4 L840.6,1599.3 L841.8,1598.1 L843.0,1596.9 L844.2,1595.6 L845.4,1594.4 L846.6,1593.1 L847.8,1591.8 L849.0,1590.5 L850.1,1589.2 L851.3,1587.9 L852.5,1586.5 L853.7,1585.2 L854.9,1583.8 L856.1,1582.4 L857.3,1581.0 L858.5,1579.7 L859.7,1578.3 L860.9,1576.9 L862.0,1575.4 L863.2,1574.0 L864.4,1572.6 L865.6,1571.2 L866.8,1569.7 L868.0,1568.3 L869.2,1566.9 L870.4,1565.4 L871.6,1564.0 L872.8,1562.5 L874.0,1561.0 L875.1,1559.6 L876.3,1558.1 L877.5,1556.6 L878.7,1555.1 L879.9,1553.6 L881.1,1552.1 L882.3,1550.6 L883.5,1549.1 L884.7,1547.6 L885.9,1546.1 L887.1,1544.6 L888.2,1543.0 L889.4,1541.5 L890.6,1539.9 L891.8,1538.4 L893.0,1536.8 L894.2,1535.2 L895.4,1533.7 L896.6,1532.1 L897.8,1530.5 L899.0,1529.0 L900.2,1527.4 L901.3,1525.8 L902.5,1524.3 L903.7,1522.7 L904.9,1521.1 L906.1,1519.6 L907.3,1518.0 L908.5,1516.4 L909.7,1514.9 L910.9,1513.3 L912.1,1511.8 L913.2,1510.2 L914.4,1508.7 L915.6,1507.2 L916.8,1505.6 L918.0,1504.1 L919.2,1502.6 L920.4,1501.0 L921.6,1499.5 L922.8,1498.0 L924.0,1496.5 L925.2,1495.0 L926.3,1493.5 L927.5,1492.0 L928.7,1490.5 L929.9,1489.1 L931.1,1487.6 L932.3,1486.1 L933.5,1484.7 L934.7,1483.2 L935.9,1481.8 L937.1,1480.4 L938.3,1479.0 L939.4,1477.6 L940.6,1476.2 L941.8,1474.8 L943.0,1473.4 L944.2,1472.0 L945.4,1470.7 L946.6,1469.3 L947.8,1468.0 L949.0,1466.6 L950.2,1465.3 L951.4,1464.0 L952.5,1462.7 L953.7,1461.4 L954.9,1460.1 L956.1,1458.8 L957.3,1457.5 L958.5,1456.2 L959.7,1455.0 L960.9,1453.7 L962.1,1452.5 L963.3,1451.2 L964.4,1450.0 L965.6,1448.7 L966.8,1447.5 L968.0,1446.3 L969.2,1445.0 L970.4,1443.8 L971.6,1442.6 L972.8,1441.4 L974.0,1440.2 L975.2,1439.0 L976.4,1437.8 L977.5,1436.6 L978.7,1435.4 L979.9,1434.2 L981.1,1433.0 L982.3,1431.8 L983.5,1430.6 L984.7,1429.4 L985.9,1428.2 L987.1,1427.1 L988.3,1425.9 L989.5,1424.7 L990.6,1423.5 L991.8,1422.4 L993.0,1421.2 L994.2,1420.1 L995.4,1418.9 L996.6,1417.8 L997.8,1416.6 L999.0,1415.5 L1000.2,1414.3 L1001.4,1413.2 L1002.6,1412.1 L1003.7,1410.9 L1004.9,1409.8 L1006.1,1408.7 L1007.3,1407.6 L1008.5,1406.4 L1009.7,1405.3 L1010.9,1404.2 L1012.1,1403.1 L1013.3,1402.0 L1014.5,1400.9 L1015.6,1399.8 L1016.8,1398.7 L1018.0,1397.7 L1019.2,1396.6 L1020.4,1395.5 L1021.6,1394.4 L1022.8,1393.4 L1024.0,1392.3 L1025.2,1391.2 L1026.4,1390.2 L1027.6,1389.1 L1028.7,1388.1 L1029.9,1387.0 L1031.1,1386.0 L1032.3,1385.0 L1033.5,1383.9 L1034.7,1382.9 L1035.9,1381.9 L1037.1,1380.9 L1038.3,1379.9 L1039.5,1378.8 L1040.7,1377.8 L1041.8,1376.8 L1043.0,1375.8 L1044.2,1374.9 L1045.4,1373.9 L1046.6,1372.9 L1047.8,1371.9 L1049.0,1370.9 L1050.2,1370.0 L1051.4,1369.0 L1052.6,1368.1 L1053.8,1367.1 L1054.9,1366.2 L1056.1,1365.2 L1057.3,1364.3 L1058.5,1363.3 L1059.7,1362.4 L1060.9,1361.5 L1062.1,1360.6 L1063.3,1359.6 L1064.5,1358.7 L1065.7,1357.8 L1066.8,1356.9 L1068.0,1356.0 L1069.2,1355.1 L1070.4,1354.2 L1071.6,1353.3 L1072.8,1352.4 L1074.0,1351.5 L1075.2,1350.7 L1076.4,1349.8 L1077.6,1348.9 L1078.8,1348.1 L1079.9,1347.2 L1081.1,1346.3 L1082.3,1345.5 L1083.5,1344.6 L1084.7,1343.8 L1085.9,1343.0 L1087.1,1342.1 L1088.3,1341.3 L1089.5,1340.4 L1090.7,1339.6 L1091.9,1338.8 L1093.0,1338.0 L1094.2,1337.2 L1095.4,1336.4 L1096.6,1335.5 L1097.8,1334.7 L1099.0,1333.9 L1100.2,1333.1 L1101.4,1332.3 L1102.6,1331.6 L1103.8,1330.8 L1105.0,1330.0 L1106.1,1329.2 L1107.3,1328.4 L1108.5,1327.7 L1109.7,1326.9 L1110.9,1326.1 L1112.1,1325.4 L1113.3,1324.6 L1114.5,1323.9 L1115.7,1323.1 L1116.9,1322.4 L1118.0,1321.6 L1119.2,1320.9 L1120.4,1320.1 L1121.6,1319.4 L1122.8,1318.7 L1124.0,1318.0 L1125.2,1317.2 L1126.4,1316.5 L1127.6,1315.8 L1128.8,1315.1 L1130.0,1314.4 L1131.1,1313.7 L1132.3,1313.0 L1133.5,1312.2 L1134.7,1311.5 L1135.9,1310.9 L1137.1,1310.2 L1138.3,1309.5 L1139.5,1308.8 L1140.7,1308.1 L1141.9,1307.4 L1143.1,1306.7 L1144.2,1306.1 L1145.4,1305.4 L1146.6,1304.7 L1147.8,1304.1 L1149.0,1303.4 L1150.2,1302.7 L1151.4,1302.1 L1152.6,1301.4 L1153.8,1300.8 L1155.0,1300.1 L1156.2,1299.5 L1157.3,1298.8 L1158.5,1298.2 L1159.7,1297.6 L1160.9,1296.9 L1162.1,1296.3 L1163.3,1295.7 L1164.5,1295.0 L1165.7,1294.4 L1166.9,1293.8 L1168.1,1293.2 L1169.2,1292.5 L1170.4,1291.9 L1171.6,1291.3 L1172.8,1290.7 L1174.0,1290.1 L1175.2,1289.5 L1176.4,1288.9 L1177.6,1288.3 L1178.8,1287.7 L1180.0,1287.1 L1181.2,1286.5 L1182.3,1285.9 L1183.5,1285.3 L1184.7,1284.8 L1185.9,1284.2 L1187.1,1283.6 L1188.3,1283.0 L1189.5,1282.5 L1190.7,1281.9 L1191.9,1281.3 L1193.1,1280.7 L1194.3,1280.2 L1195.4,1279.6 L1196.6,1279.1 L1197.8,1278.5 L1199.0,1277.9 L1200.2,1277.4 L1201.4,1276.8 L1202.6,1276.3 L1203.8,1275.8 L1205.0,1275.2 L1206.2,1274.7 L1207.4,1274.1 L1208.5,1273.6 L1209.7,1273.1 L1210.9,1272.5 L1212.1,1272.0 L1213.3,1271.5 L1214.5,1270.9 L1215.7,1270.4 L1216.9,1269.9 L1218.1,1269.4 L1219.3,1268.9 L1220.4,1268.4 L1221.6,1267.8 L1222.8,1267.3 L1224.0,1266.8 L1225.2,1266.3 L1226.4,1265.8 L1227.6,1265.3 L1228.8,1264.8 L1230.0,1264.3 L1231.2,1263.8 L1232.4,1263.3 L1233.5,1262.9 L1234.7,1262.4 L1235.9,1261.9 L1237.1,1261.4 L1238.3,1260.9 L1239.5,1260.4 L1240.7,1260.0 L1241.9,1259.5 L1243.1,1259.0 L1244.3,1258.5 L1245.5,1258.1 L1246.6,1257.6 L1247.8,1257.1 L1249.0,1256.7 L1250.2,1256.2 L1251.4,1255.8 L1252.6,1255.3 L1253.8,1254.8 L1255.0,1254.4 L1256.2,1253.9 L1257.4,1253.5 L1258.6,1253.0 L1259.7,1252.6 L1260.9,1252.1 L1262.1,1251.7 L1263.3,1251.3 L1264.5,1250.8 L1265.7,1250.4 L1266.9,1250.0 L1268.1,1249.5 L1269.3,1249.1 L1270.5,1248.7 L1271.6,1248.2 L1272.8,1247.8 L1274.0,1247.4 L1275.2,1247.0 L1276.4,1246.5 L1277.6,1246.1 L1278.8,1245.7 L1280.0,1245.3 L1281.2,1244.9 L1282.4,1244.5 L1283.6,1244.1 L1284.7,1243.7 L1285.9,1243.3 L1287.1,1242.8 L1288.3,1242.4 L1289.5,1242.0 L1290.7,1241.6 L1291.9,1241.2 L1293.1,1240.9 L1294.3,1240.5 L1295.5,1240.1 L1296.7,1239.7 L1297.8,1239.3 L1299.0,1238.9 L1300.2,1238.5 L1301.4,1238.1 L1302.6,1237.7 L1303.8,1237.4 L1305.0,1237.0 L1306.2,1236.6 L1307.4,1236.2 L1308.6,1235.8 L1309.8,1235.5 L1310.9,1235.1 L1312.1,1234.7 L1313.3,1234.3 L1314.5,1234.0 L1315.7,1233.6 L1316.9,1233.2 L1318.1,1232.9 L1319.3,1232.5 L1320.5,1232.1 L1321.7,1231.8 L1322.8,1231.4 L1324.0,1231.1 L1325.2,1230.7 L1326.4,1230.3 L1327.6,1230.0 L1328.8,1229.6 L1330.0,1229.3 L1331.2,1228.9 L1332.4,1228.6 L1333.6,1228.2 L1334.8,1227.9 L1335.9,1227.5 L1337.1,1227.2 L1338.3,1226.8 L1339.5,1226.5 L1340.7,1226.1 L1341.9,1225.8 L1343.1,1225.4 L1344.3,1225.1 L1345.5,1224.7 L1346.7,1224.4 L1347.9,1224.0 L1349.0,1223.7 L1350.2,1223.4 L1351.4,1223.0 L1352.6,1222.7 L1353.8,1222.4 L1355.0,1222.0 L1356.2,1221.7 L1357.4,1221.4 L1358.6,1221.0 L1359.8,1220.7 L1361.0,1220.4 L1362.1,1220.0 L1363.3,1219.7 L1364.5,1219.4 L1365.7,1219.0 L1366.9,1218.7 L1368.1,1218.4 L1369.3,1218.1 L1370.5,1217.7 L1371.7,1217.4 L1372.9,1217.1 L1374.0,1216.8 L1375.2,1216.4 L1376.4,1216.1 L1377.6,1215.8 L1378.8,1215.5 L1380.0,1215.2 L1381.2,1214.9 L1382.4,1214.5 L1383.6,1214.2 L1384.8,1213.9 L1386.0,1213.6 L1387.1,1213.3 L1388.3,1213.0 L1389.5,1212.7 L1390.7,1212.4 L1391.9,1212.0 L1393.1,1211.7 L1394.3,1211.4 L1395.5,1211.1 L1396.7,1210.8 L1397.9,1210.5 L1399.1,1210.2 L1400.2,1209.9 L1401.4,1209.6 L1402.6,1209.3 L1403.8,1209.0 L1405.0,1208.7 L1406.2,1208.4 L1407.4,1208.1 L1408.6,1207.8 L1409.8,1207.5 L1411.0,1207.2 L1412.2,1206.9 L1413.3,1206.6 L1414.5,1206.3 L1415.7,1206.0 L1416.9,1205.7 L1418.1,1205.4 L1419.3,1205.2 L1420.5,1204.9 L1421.7,1204.6 L1422.9,1204.3 L1424.1,1204.0 L1425.2,1203.7 L1426.4,1203.4 L1427.6,1203.1 L1428.8,1202.9 L1430.0,1202.6 L1431.2,1202.3 L1432.4,1202.0 L1433.6,1201.7 L1434.8,1201.4 L1436.0,1201.2 L1437.2,1200.9 L1438.3,1200.6 L1439.5,1200.3 L1440.7,1200.0 L1441.9,1199.8 L1443.1,1199.5 L1444.3,1199.2 L1445.5,1198.9 L1446.7,1198.7 L1447.9,1198.4 L1449.1,1198.1 L1450.3,1197.8 L1451.4,1197.6 L1452.6,1197.3 L1453.8,1197.0 L1455.0,1196.8 L1456.2,1196.5 L1457.4,1196.2 L1458.6,1196.0 L1459.8,1195.7 L1461.0,1195.4 L1462.2,1195.2 L1463.4,1194.9 L1464.5,1194.6 L1465.7,1194.4 L1466.9,1194.1 L1468.1,1193.8 L1469.3,1193.6 L1470.5,1193.3 L1471.7,1193.1 L1472.9,1192.8 L1474.1,1192.5 L1475.3,1192.3 L1476.4,1192.0 L1477.6,1191.8 L1478.8,1191.5 L1480.0,1191.2 L1481.2,1191.0 L1482.4,1190.7 L1483.6,1190.5 L1484.8,1190.2 L1486.0,1190.0 L1487.2,1189.7 L1488.4,1189.5 L1489.5,1189.2 L1490.7,1189.0 L1491.9,1188.7 L1493.1,1188.5 L1494.3,1188.2 L1495.5,1188.0 L1496.7,1187.7 L1497.9,1187.5 L1499.1,1187.2 L1500.3,1187.0 L1501.5,1186.7 L1502.6,1186.5 L1503.8,1186.3 L1505.0,1186.0 L1506.2,1185.8 L1507.4,1185.5 L1508.6,1185.3 L1509.8,1185.0 L1511.0,1184.8 L1512.2,1184.6 L1513.4,1184.3 L1514.6,1184.1 L1515.7,1183.8 L1516.9,1183.6 L1518.1,1183.4 L1519.3,1183.1 L1520.5,1182.9 L1521.7,1182.7 L1522.9,1182.4 L1524.1,1182.2 L1525.3,1182.0 L1526.5,1181.7 L1527.6,1181.5 L1528.8,1181.3 L1530.0,1181.0 L1531.2,1180.8 L1532.4,1180.6 L1533.6,1180.3 L1534.8,1180.1 L1536.0,1179.9 L1537.2,1179.6 L1538.4,1179.4 L1539.6,1179.2 L1540.7,1179.0 L1541.9,1178.7 L1543.1,1178.5 L1544.3,1178.3 L1545.5,1178.1 L1546.7,1177.8 L1547.9,1177.6 L1549.1,1177.4 L1550.3,1177.2 L1551.5,1176.9 L1552.7,1176.7 L1553.8,1176.5 L1555.0,1176.3 L1556.2,1176.0 L1557.4,1175.8 L1558.6,1175.6 L1559.8,1175.4 L1561.0,1175.2 L1562.2,1174.9 L1563.4,1174.7 L1564.6,1174.5 L1565.8,1174.3 L1566.9,1174.1 L1568.1,1173.9 L1569.3,1173.6 L1570.5,1173.4 L1571.7,1173.2 L1572.9,1173.0 L1574.1,1172.8 L1575.3,1172.6 L1576.5,1172.4 L1577.7,1172.1 L1578.8,1171.9 L1580.0,1171.7 L1581.2,1171.5 L1582.4,1171.3 L1583.6,1171.1 L1584.8,1170.9 L1586.0,1170.7 L1587.2,1170.5 L1588.4,1170.3 L1589.6,1170.0 L1590.8,1169.8 L1591.9,1169.6 L1593.1,1169.4 L1594.3,1169.2 L1595.5,1169.0 L1596.7,1168.8 L1597.9,1168.6 L1599.1,1168.4 L1600.3,1168.2 L1601.5,1168.0 L1602.7,1167.8 L1603.9,1167.6 L1605.0,1167.4 L1606.2,1167.2 L1607.4,1167.0 L1608.6,1166.8 L1609.8,1166.6 L1611.0,1166.4 L1612.2,1166.2 L1613.4,1166.0 L1614.6,1165.8 L1615.8,1165.6 L1617.0,1165.4 L1618.1,1165.2 L1619.3,1165.0 L1620.5,1164.8 L1621.7,1164.6 L1622.9,1164.4 L1624.1,1164.2 L1625.3,1164.0 L1626.5,1163.8 L1627.7,1163.6 L1628.9,1163.4 L1630.0,1163.2 L1631.2,1163.0 L1632.4,1162.8 L1633.6,1162.7 L1634.8,1162.5 L1636.0,1162.3 L1637.2,1162.1 L1638.4,1161.9 L1639.6,1161.7 L1640.8,1161.5 L1642.0,1161.3 L1643.1,1161.1 L1644.3,1160.9 L1645.5,1160.8 L1646.7,1160.6 L1647.9,1160.4 L1649.1,1160.2 L1650.3,1160.0 L1651.5,1159.8 L1652.7,1159.6 L1653.9,1159.4 L1655.1,1159.3 L1656.2,1159.1 L1657.4,1158.9 L1658.6,1158.7 L1659.8,1158.5 L1661.0,1158.3 L1662.2,1158.2 L1663.4,1158.0 L1664.6,1157.8 L1665.8,1157.6 L1667.0,1157.4 L1668.2,1157.2 L1669.3,1157.1 L1670.5,1156.9 L1671.7,1156.7 L1672.9,1156.5 L1674.1,1156.3 L1675.3,1156.2 L1676.5,1156.0 L1677.7,1155.8 L1678.9,1155.6 L1680.1,1155.5 L1681.2,1155.3 L1682.4,1155.1 L1683.6,1154.9 L1684.8,1154.7 L1686.0,1154.6 L1687.2,1154.4 L1688.4,1154.2 L1689.6,1154.0 L1690.8,1153.9 L1692.0,1153.7 L1693.2,1153.5 L1694.3,1153.3 L1695.5,1153.2 L1696.7,1153.0 L1697.9,1152.8 L1699.1,1152.7 L1700.3,1152.5 L1701.5,1152.3 L1702.7,1152.1 L1703.9,1152.0 L1705.1,1151.8 L1706.3,1151.6 L1707.4,1151.5 L1708.6,1151.3 L1709.8,1151.1 L1711.0,1151.0 L1712.2,1150.8 L1713.4,1150.6 L1714.6,1150.5 L1715.8,1150.3 L1717.0,1150.1 L1718.2,1150.0 L1719.4,1149.8 L1720.5,1149.6 L1721.7,1149.5 L1722.9,1149.3 L1724.1,1149.1 L1725.3,1149.0 L1726.5,1148.8 L1727.7,1148.6 L1728.9,1148.5 L1730.1,1148.3 L1731.3,1148.2 L1732.4,1148.0 L1733.6,1147.8 L1734.8,1147.7 L1736.0,1147.5 L1737.2,1147.3 L1738.4,1147.2 L1739.6,1147.0 L1740.8,1146.9 L1742.0,1146.7 L1743.2,1146.5 L1744.4,1146.4 L1745.5,1146.2 L1746.7,1146.1 L1747.9,1145.9 L1749.1,1145.7 L1750.3,1145.6 L1751.5,1145.4 L1752.7,1145.3 L1753.9,1145.1 L1755.1,1145.0 L1756.3,1144.8 L1757.5,1144.7 L1758.6,1144.5 L1759.8,1144.3 L1761.0,1144.2 L1762.2,1144.0 L1763.4,1143.9 L1764.6,1143.7 L1765.8,1143.6 L1767.0,1143.4 L1768.2,1143.3 L1769.4,1143.1 L1770.6,1143.0 L1771.7,1142.8 L1772.9,1142.7 L1774.1,1142.5 L1775.3,1142.4 L1776.5,1142.2 L1777.7,1142.1 L1778.9,1141.9 L1780.1,1141.8 L1781.3,1141.6 L1782.5,1141.5 L1783.6,1141.3 L1784.8,1141.2 L1786.0,1141.0 L1787.2,1140.9 L1788.4,1140.7 L1789.6,1140.6 L1790.8,1140.4 L1792.0,1140.3 L1793.2,1140.1 L1794.4,1140.0 L1795.6,1139.8 L1796.7,1139.7 L1797.9,1139.5 L1799.1,1139.4 L1800.3,1139.2 L1801.5,1139.1 L1802.7,1139.0 L1803.9,1138.8 L1805.1,1138.7 L1806.3,1138.5 L1807.5,1138.4 L1808.7,1138.2 L1809.8,1138.1 L1811.0,1138.0 L1812.2,1137.8 L1813.4,1137.7 L1814.6,1137.5 L1815.8,1137.4 L1817.0,1137.2 L1818.2,1137.1 L1819.4,1137.0 L1820.6,1136.8 L1821.8,1136.7 L1822.9,1136.5 L1824.1,1136.4 L1825.3,1136.3 L1826.5,1136.1 L1827.7,1136.0 L1828.9,1135.8 L1830.1,1135.7 L1831.3,1135.6 L1832.5,1135.4 L1833.7,1135.3 L1834.8,1135.2 L1836.0,1135.0 L1837.2,1134.9 L1838.4,1134.7 L1839.6,1134.6 L1840.8,1134.5 L1842.0,1134.3 L1843.2,1134.2 L1844.4,1134.1 L1845.6,1133.9 L1846.8,1133.8 L1847.9,1133.7 L1849.1,1133.5 L1850.3,1133.4 L1851.5,1133.3 L1852.7,1133.1 L1853.9,1133.0 L1855.1,1132.9 L1856.3,1132.7 L1857.5,1132.6 L1858.7,1132.5 L1859.9,1132.3 L1861.0,1132.2 L1862.2,1132.1 L1863.4,1131.9 L1864.6,1131.8 L1865.8,1131.7 L1867.0,1131.5 L1868.2,1131.4 L1869.4,1131.3 L1870.6,1131.1 L1871.8,1131.0 L1873.0,1130.9 L1874.1,1130.8 L1875.3,1130.6 L1876.5,1130.5 L1877.7,1130.4 L1878.9,1130.2 L1880.1,1130.1 L1881.3,1130.0 L1882.5,1129.8 L1883.7,1129.7 L1884.9,1129.6 L1886.0,1129.5 L1887.2,1129.3 L1888.4,1129.2 L1889.6,1129.1 L1890.8,1129.0 L1892.0,1128.8 L1893.2,1128.7 L1894.4,1128.6 L1895.6,1128.5 L1896.8,1128.3 L1898.0,1128.2 L1899.1,1128.1 L1900.3,1127.9 L1901.5,1127.8 L1902.7,1127.7 L1903.9,1127.6 L1905.1,1127.4 L1906.3,1127.3 L1907.5,1127.2 L1908.7,1127.1 L1909.9,1127.0 L1911.1,1126.8 L1912.2,1126.7 L1913.4,1126.6 L1914.6,1126.5 L1915.8,1126.3 L1917.0,1126.2 L1918.2,1126.1 L1919.4,1126.0 L1920.6,1125.8 L1921.8,1125.7 L1923.0,1125.6 L1924.2,1125.5 L1925.3,1125.4 L1926.5,1125.2 L1927.7,1125.1 L1928.9,1125.0 L1930.1,1124.9 L1931.3,1124.8 L1932.5,1124.6 L1933.7,1124.5 L1934.9,1124.4 L1936.1,1124.3 L1937.2,1124.2 L1938.4,1124.0 L1939.6,1123.9 L1940.8,1123.8 L1942.0,1123.7 L1943.2,1123.6 L1944.4,1123.4 L1945.6,1123.3 L1946.8,1123.2 L1948.0,1123.1 L1949.2,1123.0 L1950.3,1122.9 L1951.5,1122.7 L1952.7,1122.6 L1953.9,1122.5 L1955.1,1122.4 L1956.3,1122.3 L1957.5,1122.2 L1958.7,1122.0 L1959.9,1121.9 L1961.1,1121.8 L1962.3,1121.7 L1963.4,1121.6 L1964.6,1121.5 L1965.8,1121.3 L1967.0,1121.2 L1968.2,1121.1 L1969.4,1121.0 L1970.6,1120.9 L1971.8,1120.8 L1973.0,1120.7 L1974.2,1120.5 L1975.4,1120.4 L1976.5,1120.3 L1977.7,1120.2 L1978.9,1120.1 L1980.1,1120.0 L1981.3,1119.9 L1982.5,1119.7 L1983.7,1119.6 L1984.9,1119.5 L1986.1,1119.4 L1987.3,1119.3 L1988.4,1119.2 L1989.6,1119.1 L1990.8,1119.0 L1992.0,1118.8 L1993.2,1118.7 L1994.4,1118.6 L1995.6,1118.5 L1996.8,1118.4 L1998.0,1118.3 L1999.2,1118.2 L2000.4,1118.1 L2001.5,1118.0 L2002.7,1117.9 L2003.9,1117.7 L2005.1,1117.6 L2006.3,1117.5 L2007.5,1117.4 L2008.7,1117.3 L2009.9,1117.2 L2011.1,1117.1 L2012.3,1117.0 L2013.5,1116.9 L2014.6,1116.8 L2015.8,1116.6 L2017.0,1116.5 L2018.2,1116.4 L2019.4,1116.3 L2020.6,1116.2 L2021.8,1116.1 L2023.0,1116.0 L2024.2,1115.9 L2025.4,1115.8 L2026.6,1115.7 L2027.7,1115.6 L2028.9,1115.5 L2030.1,1115.4 L2031.3,1115.2 L2032.5,1115.1 L2033.7,1115.0 L2034.9,1114.9 L2036.1,1114.8 L2037.3,1114.7 L2038.5,1114.6 L2039.7,1114.5 L2040.8,1114.4 L2042.0,1114.3 L2043.2,1114.2 L2044.4,1114.1 L2045.6,1114.0 L2046.8,1113.9 L2048.0,1113.8 L2049.2,1113.7 L2050.4,1113.6 L2051.6,1113.4 L2052.7,1113.3 L2053.9,1113.2 L2055.1,1113.1 L2056.3,1113.0 L2057.5,1112.9 L2058.7,1112.8 L2059.9,1112.7 L2061.1,1112.6 L2062.3,1112.5 L2063.5,1112.4 L2064.7,1112.3 L2065.8,1112.2 L2067.0,1112.1 L2068.2,1112.0 L2069.4,1111.9 L2070.6,1111.8 L2071.8,1111.7 L2073.0,1111.6 L2074.2,1111.5 L2075.4,1111.4 L2076.6,1111.3 L2077.8,1111.2 L2078.9,1111.1 L2080.1,1111.0 L2081.3,1110.9 L2082.5,1110.8 L2083.7,1110.7 L2084.9,1110.6 L2086.1,1110.5 L2087.3,1110.4 L2088.5,1110.3 L2089.7,1110.2 L2090.9,1110.1 L2092.0,1110.0 L2093.2,1109.9 L2094.4,1109.8 L2095.6,1109.7 L2096.8,1109.6 L2098.0,1109.5 L2099.2,1109.4 L2100.4,1109.3 L2101.6,1109.2 L2102.8,1109.1 L2103.9,1109.0 L2105.1,1108.9 L2106.3,1108.8 L2107.5,1108.7 L2108.7,1108.6 L2109.9,1108.5 L2111.1,1108.4 L2112.3,1108.3 L2113.5,1108.2 L2114.7,1108.1 L2115.9,1108.0 L2117.0,1107.9 L2118.2,1107.8 L2119.4,1107.7 L2120.6,1107.6 L2121.8,1107.5 L2123.0,1107.4 L2124.2,1107.3 L2125.4,1107.2 L2126.6,1107.1 L2127.8,1107.0 L2129.0,1106.9 L2130.1,1106.8 L2131.3,1106.7 L2132.5,1106.6 L2133.7,1106.5 L2134.9,1106.4 L2136.1,1106.4 L2137.3,1106.3 L2138.5,1106.2 L2139.7,1106.1 L2140.9,1106.0 L2142.1,1105.9 L2143.2,1105.8 L2144.4,1105.7 L2145.6,1105.6 L2146.8,1105.5 L2147.3,1105.5" stroke="#f00" stroke-dasharray="17.3 17.3"/>
<path d="M254.8,870.5 L256.0,870.5 L257.2,870.5 L258.4,870.5 L259.6,870.5 L260.7,870.5 L261.9,870.5 L263.1,870.5 L264.3,870.5 L265.5,870.5 L266.7,870.5 L267.9,870.5 L269.1,870.5 L270.3,870.5 L271.5,870.5 L272.7,870.5 L273.8,870.5 L275.0,870.5 L276.2,870.5 L277.4,870.5 L278.6,870.5 L279.8,870.5 L281.0,870.5 L282.2,870.5 L283.4,870.5 L284.6,870.5 L285.7,870.5 L286.9,870.5 L288.1,870.5 L289.3,870.5 L290.5,870.5 L291.7,870.5 L292.9,870.5 L294.1,870.5 L295.3,870.5 L296.5,870.5 L297.7,870.5 L298.8,870.5 L300.0,870.5 L301.2,870.5 L302.4,870.5 L303.6,870.5 L304.8,870.5 L306.0,870.5 L307.2,870.5 L308.4,870.5 L309.6,870.5 L310.8,870.5 L311.9,870.5 L313.1,870.5 L314.3,870.5 L315.5,870.5 L316.7,870.5 L317.9,870.5 L319.1,870.5 L320.3,870.5 L321.5,870.5 L322.7,870.5 L323.9,870.5 L325.0,870.5 L326.2,870.5 L327.4,870.5 L328.6,870.5 L329.8,870.5 L331.0,870.5 L332.2,870.5 L333.4,870.5 L334.6,870.5 L335.8,870.5 L336.9,870.5 L338.1,870.5 L339.3,870.5 L340.5,870.5 L341.7,870.5 L342.9,870.5 L344.1,870.5 L345.3,870.5 L346.5,870.5 L347.7,870.5 L348.9,870.5 L350.0,870.5 L351.2,870.5 L352.4,870.5 L353.6,870.5 L354.8,870.5 L356.0,870.5 L357.2,870.5 L358.4,870.5 L359.6,870.5 L360.8,870.5 L362.0,870.5 L363.1,870.5 L364.3,870.5 L365.5,870.5 L366.7,870.5 L367.9,870.5 L369.1,870.5 L370.3,870.5 L371.5,870.5 L372.7,870.5 L373.9,870.5 L375.1,870.5 L376.2,870.5 L377.4,870.5 L378.6,870.5 L379.8,870.5 L381.0,870.5 L382.2,870.5 L383.4,870.5 L384.6,870.5 L385.8,870.5 L387.0,870.5 L388.1,870.5 L389.3,870.5 L390.5,870.5 L391.7,870.5 L392.9,870.5 L394.1,870.5 L395.3,870.5 L396.5,870.5 L397.7,870.5 L398.9,870.5 L400.1,870.5 L401.2,870.5 L402.4,870.5 L403.6,870.5 L404.8,870.5 L406.0,870.5 L407.2,870.5 L408.4,870.5 L409.6,870.5 L410.8,870.5 L412.0,870.5 L413.2,870.5 L414.3,870.5 L415.5,870.5 L416.7,870.5 L417.9,870.5 L419.1,870.5 L420.3,870.5 L421.5,870.5 L422.7,870.5 L423.9,870.5 L425.1,870.5 L426.3,870.5 L427.4,870.5 L428.6,870.5 L429.8,870.5 L431.0,870.5 L432.2,870.5 L433.4,870.5 L434.6,870.5 L435.8,870.5 L437.0,870.5 L438.2,870.5 L439.3,870.5 L440.5,870.5 L441.7,870.5 L442.9,870.5 L444.1,870.5 L445.3,870.5 L446.5,870.5 L447.7,870.5 L448.9,870.5 L450.1,870.5 L451.3,870.5 L452.4,870.5 L453.6,870.5 L454.8,870.5 L456.0,870.5 L457.2,870.5 L458.4,870.5 L459.6,870.5 L460.8,870.5 L462.0,870.5 L463.2,870.5 L464.4,870.5 L465.5,870.5 L466.7,870.5 L467.9,870.5 L469.1,870.5 L470.3,870.5 L471.5,870.5 L472.7,870.5 L473.9,870.5 L475.1,870.5 L476.3,870.5 L477.5,870.5 L478.6,870.5 L479.8,870.5 L481.0,870.5 L482.2,870.5 L483.4,870.5 L484.6,870.5 L485.8,870.5 L487.0,870.5 L488.2,870.5 L489.4,870.5 L490.5,870.5 L491.7,870.5 L492.9,870.5 L494.1,870.5 L495.3,870.5 L496.5,870.5 L497.7,870.5 L498.9,870.5 L500.1,870.5 L501.3,870.5 L502.5,870.5 L503.6,870.5 L504.8,870.5 L506.0,870.5 L507.2,870.5 L508.4,870.5 L509.6,870.5 L510.8,870.5 L512.0,870.5 L513.2,870.5 L514.4,870.5 L515.6,870.5 L516.7,870.5 L517.9,870.5 L519.1,870.5 L520.3,870.5 L521.5,870.5 L522.7,870.5 L523.9,870.5 L525.1,870.5 L526.3,870.5 L527.5,870.5 L528.7,870.5 L529.8,870.5 L531.0,870.5 L532.2,870.5 L533.4,870.5 L534.6,870.5 L535.8,870.5 L537.0,870.5 L538.2,870.5 L539.4,870.5 L540.6,870.5 L541.7,870.5 L542.9,870.5 L544.1,870.5 L545.3,870.5 L546.5,870.5 L547.7,870.5 L548.9,870.5 L550.1,870.5 L551.3,870.5 L552.5,870.5 L553.7,870.5 L554.8,870.5 L556.0,870.5 L557.2,870.5 L558.4,870.5 L559.6,870.5 L560.8,870.5 L562.0,870.5 L563.2,870.5 L564.4,870.5 L565.6,870.5 L566.8,870.5 L567.9,870.5 L569.1,870.5 L570.3,870.5 L571.5,870.5 L572.7,870.5 L573.9,870.5 L575.1,870.5 L576.3,870.5 L577.5,870.5 L578.7,870.5 L579.9,870.5 L581.0,870.5 L582.2,870.5 L583.4,870.5 L584.6,870.5 L585.8,870.5 L587.0,870.5 L588.2,870.5 L589.4,870.5 L590.6,870.5 L591.8,870.5 L592.9,870.5 L594.1,870.5 L595.3,870.5 L596.5,870.5 L597.7,870.5 L598.9,870.5 L600.1,870.5 L601.3,870.5 L602.5,870.5 L603.7,870.5 L604.9,870.5 L606.0,870.5 L607.2,870.5 L608.4,870.5 L609.6,870.5 L610.8,870.5 L612.0,870.5 L613.2,870.5 L614.4,870.5 L615.6,870.5 L616.8,870.5 L618.0,870.5 L619.1,870.5 L620.3,870.5 L621.5,870.5 L622.7,870.5 L623.9,870.5 L625.1,870.5 L626.3,870.5 L627.5,870.5 L628.7,870.5 L629.9,870.5 L631.1,870.5 L632.2,870.5 L633.4,870.5 L634.6,870.5 L635.8,870.5 L637.0,870.5 L638.2,870.5 L639.4,870.5 L640.6,870.5 L641.8,870.5 L643.0,870.5 L644.1,870.5 L645.3,870.5 L646.5,870.5 L647.7,870.5 L648.9,870.5 L650.1,870.5 L651.3,870.5 L652.5,870.5 L653.7,870.5 L654.9,870.5 L656.1,870.5 L657.2,870.5 L658.4,870.5 L659.6,870.5 L660.8,870.5 L662.0,870.5 L663.2,870.5 L664.4,870.5 L665.6,870.5 L666.8,870.5 L668.0,870.5 L669.2,870.5 L670.3,870.5 L671.5,870.5 L672.7,870.5 L673.9,870.5 L675.1,870.5 L676.3,870.5 L677.5,870.5 L678.7,870.5 L679.9,870.5 L681.1,870.5 L682.3,870.5 L683.4,870.5 L684.6,870.5 L685.8,870.5 L687.0,870.5 L688.2,870.5 L689.4,870.5 L690.6,870.5 L691.8,870.5 L693.0,870.5 L694.2,870.5 L695.3,870.5 L696.5,870.5 L697.7,870.5 L698.9,870.5 L700.1,870.5 L701.3,870.5 L702.5,870.5 L703.7,870.5 L704.9,870.5 L706.1,870.5 L707.3,870.5 L708.4,870.5 L709.6,870.5 L710.8,870.5 L712.0,870.5 L713.2,870.5 L714.4,870.5 L715.6,870.5 L716.8,870.5 L718.0,870.5 L719.2,870.5 L720.4,870.5 L721.5,870.5 L722.7,870.5 L723.9,870.5 L725.1,870.5 L726.3,870.5 L727.5,870.5 L728.7,870.5 L729.9,870.5 L731.1,870.5 L732.3,870.5 L733.5,870.5 L734.6,870.5 L735.8,870.5 L737.0,870.5 L738.2,870.5 L739.4,870.5 L740.6,870.5 L741.8,870.5 L743.0,870.5 L744.2,870.5 L745.4,870.5 L746.5,870.5 L747.7,870.5 L748.9,870.5 L750.1,870.5 L751.3,870.5 L752.5,870.5 L753.7,870.5 L754.9,870.5 L756.1,870.5 L757.3,870.5 L758.5,870.5 L759.6,870.5 L760.8,870.5 L762.0,870.5 L763.2,870.5 L764.4,870.5 L765.6,870.5 L766.8,870.5 L768.0,870.5 L769.2,870.5 L770.4,870.5 L771.6,870.5 L772.7,870.5 L773.9,870.5 L775.1,870.5 L776.3,870.5 L777.5,870.5 L778.7,870.5 L779.9,870.5 L781.1,870.5 L782.3,870.5 L783.5,870.5 L784.7,870.5 L785.8,870.5 L787.0,870.5 L788.2,870.5 L789.4,870.5 L790.6,870.5 L791.8,870.5 L793.0,870.5 L794.2,870.5 L795.4,870.5 L796.6,870.5 L797.7,870.5 L798.9,870.5 L800.1,870.5 L801.3,870.5 L802.5,870.5 L803.7,870.5 L804.9,870.5 L806.1,870.5 L807.3,870.5 L808.5,870.5 L809.7,870.5 L810.8,870.5 L812.0,870.5 L813.2,870.5 L814.4,870.5 L815.6,870.5 L816.8,870.5 L818.0,870.5 L819.2,870.5 L820.4,870.5 L821.6,870.5 L822.8,870.5 L823.9,870.5 L825.1,870.5 L826.3,870.5 L827.5,870.5 L828.7,870.5 L829.9,870.5 L831.1,870.5 L832.3,870.5 L833.5,870.5 L834.7,870.5 L835.9,870.5 L837.0,870.5 L838.2,870.5 L839.4,870.5 L840.6,870.5 L841.8,870.5 L843.0,870.5 L844.2,870.5 L845.4,870.5 L846.6,870.5 L847.8,870.5 L849.0,870.5 L850.1,870.5 L851.3,870.5 L852.5,870.5 L853.7,870.5 L854.9,870.5 L856.1,870.5 L857.3,870.5 L858.5,870.5 L859.7,870.5 L860.9,870.5 L862.0,870.5 L863.2,870.5 L864.4,870.5 L865.6,870.5 L866.8,870.5 L868.0,870.5 L869.2,870.5 L870.4,870.5 L871.6,870.5 L872.8,870.5 L874.0,870.5 L875.1,870.5 L876.3,870.5 L877.5,870.5 L878.7,870.5 L879.9,870.5 L881.1,870.5 L882.3,870.5 L883.5,870.5 L884.7,870.5 L885.9,870.5 L887.1,870.5 L888.2,870.5 L889.4,870.5 L890.6,870.5 L891.8,870.5 L893.0,870.5 L894.2,870.5 L895.4,870.5 L896.6,870.5 L897.8,870.5 L899.0,870.5 L900.2,870.5 L901.3,870.5 L902.5,870.5 L903.7,870.5 L904.9,870.5 L906.1,870.5 L907.3,870.5 L908.5,870.5 L909.7,870.5 L910.9,870.5 L912.1,870.5 L913.2,870.5 L914.4,870.5 L915.6,870.5 L916.8,870.5 L918.0,870.5 L919.2,870.5 L920.4,870.5 L921.6,870.5 L922.8,870.5 L924.0,870.5 L925.2,870.5 L926.3,870.5 L927.5,870.5 L928.7,870.5 L929.9,870.5 L931.1,870.5 L932.3,870.5 L933.5,870.5 L934.7,870.5 L935.9,870.5 L937.1,870.5 L938.3,870.5 L939.4,870.5 L940.6,870.5 L941.8,870.5 L943.0,870.5 L944.2,870.5 L945.4,870.5 L946.6,870.5 L947.8,870.5 L949.0,870.5 L950.2,870.5 L951.4,870.5 L952.5,870.5 L953.7,870.5 L954.9,870.5 L956.1,870.5 L957.3,870.5 L958.5,870.5 L959.7,870.5 L960.9,870.5 L962.1,870.5 L963.3,870.5 L964.4,870.5 L965.6,870.5 L966.8,870.5 L968.0,870.5 L969.2,870.5 L970.4,870.5 L971.6,870.5 L972.8,870.5 L974.0,870.5 L975.2,870.5 L976.4,870.5 L977.5,870.5 L978.7,870.5 L979.9,870.5 L981.1,870.5 L982.3,870.5 L983.5,870.5 L984.7,870.5 L985.9,870.5 L987.1,870.5 L988.3,870.5 L989.5,870.5 L990.6,870.5 L991.8,870.6 L993.0,870.8 L994.2,870.9 L995.4,871.1 L996.6,871.3 L997.8,871.5 L999.0,871.7 L1000.2,871.9 L1001.4,872.1 L1002.6,872.4 L1003.7,872.7 L1004.9,873.0 L1006.1,873.4 L1007.3,873.7 L1008.5,874.1 L1009.7,874.5 L1010.9,874.9 L1012.1,875.4 L1013.3,875.9 L1014.5,876.4 L1015.6,876.9 L1016.8,877.5 L1018.0,878.1 L1019.2,878.7 L1020.4,879.3 L1021.6,880.0 L1022.8,880.7 L1024.0,881.4 L1025.2,882.2 L1026.4,883.0 L1027.6,883.9 L1028.7,884.8 L1029.9,885.8 L1031.1,886.8 L1032.3,887.9 L1033.5,889.0 L1034.7,890.2 L1035.9,891.6 L1037.1,892.9 L1038.3,894.4 L1039.5,896.0 L1040.7,897.6 L1041.8,899.4 L1043.0,901.2 L1044.2,903.2 L1045.4,905.2 L1046.6,907.4 L1047.8,909.7 L1049.0,912.1 L1050.2,914.6 L1051.4,917.2 L1052.6,920.0 L1053.8,922.9 L1054.9,925.9 L1056.1,929.1 L1057.3,932.4 L1058.5,935.8 L1059.7,939.4 L1060.9,943.1 L1062.1,947.0 L1063.3,951.0 L1064.5,955.2 L1065.7,959.5 L1066.8,964.0 L1068.0,968.6 L1069.2,973.3 L1070.4,978.3 L1071.6,983.3 L1072.8,988.5 L1074.0,993.9 L1075.2,999.4 L1076.4,1005.1 L1077.6,1010.9 L1078.8,1016.8 L1079.9,1022.9 L1081.1,1029.2 L1082.3,1035.6 L1083.5,1042.1 L1084.7,1048.8 L1085.9,1055.6 L1087.1,1062.6 L1088.3,1069.6 L1089.5,1076.8 L1090.7,1084.2 L1091.9,1091.6 L1093.0,1099.2 L1094.2,1106.9 L1095.4,1114.7 L1096.6,1122.6 L1097.8,1130.6 L1099.0,1138.7 L1100.2,1146.9 L1101.4,1155.2 L1102.6,1163.6 L1103.8,1172.0 L1105.0,1180.5 L1106.1,1189.1 L1107.3,1197.7 L1108.5,1206.3 L1109.7,1215.0 L1110.9,1223.8 L1112.1,1232.5 L1113.3,1241.3 L1114.5,1250.0 L1115.7,1258.8 L1116.9,1267.6 L1118.0,1276.4 L1119.2,1285.1 L1120.4,1293.8 L1121.6,1302.5 L1122.8,1311.2 L1124.0,1319.8 L1125.2,1328.3 L1126.4,1336.8 L1127.6,1345.2 L1128.8,1353.5 L1130.0,1361.7 L1131.1,1369.8 L1132.3,1377.9 L1133.5,1385.8 L1134.7,1393.7 L1135.9,1401.4 L1137.1,1409.0 L1138.3,1416.5 L1139.5,1423.9 L1140.7,1431.2 L1141.9,1438.3 L1143.1,1445.3 L1144.2,1452.2 L1145.4,1458.9 L1146.6,1465.5 L1147.8,1472.0 L1149.0,1478.3 L1150.2,1484.5 L1151.4,1490.5 L1152.6,1496.4 L1153.8,1502.1 L1155.0,1507.7 L1156.2,1513.1 L1157.3,1518.4 L1158.5,1523.6 L1159.7,1528.5 L1160.9,1533.4 L1162.1,1538.1 L1163.3,1542.6 L1164.5,1547.0 L1165.7,1551.2 L1166.9,1555.3 L1168.1,1559.2 L1169.2,1563.0 L1170.4,1566.6 L1171.6,1570.1 L1172.8,1573.5 L1174.0,1576.7 L1175.2,1579.8 L1176.4,1582.7 L1177.6,1585.5 L1178.8,1588.2 L1180.0,1590.7 L1181.2,1593.1 L1182.3,1595.3 L1183.5,1597.5 L1184.7,1599.5 L1185.9,1601.3 L1187.1,1603.1 L1188.3,1604.7 L1189.5,1606.1 L1190.7,1607.5 L1191.9,1608.7 L1193.1,1609.8 L1194.3,1610.8 L1195.4,1611.6 L1196.6,1612.4 L1197.8,1613.0 L1199.0,1613.6 L1200.2,1614.0 L1201.4,1614.4 L1202.6,1614.7 L1203.8,1614.9 L1205.0,1615.1 L1206.2,1615.2 L1207.4,1615.3 L1208.5,1615.3 L1209.7,1615.3 L1210.9,1615.3 L1212.1,1615.3 L1213.3,1615.2 L1214.5,1615.1 L1215.7,1615.0 L1216.9,1614.9 L1218.1,1614.7 L1219.3,1614.5 L1220.4,1614.3 L1221.6,1614.1 L1222.8,1613.8 L1224.0,1613.5 L1225.2,1613.1 L1226.4,1612.7 L1227.6,1612.3 L1228.8,1611.7 L1230.0,1611.2 L1231.2,1610.6 L1232.4,1609.9 L1233.5,1609.1 L1234.7,1608.4 L1235.9,1607.5 L1237.1,1606.6 L1238.3,1605.7 L1239.5,1604.7 L1240.7,1603.7 L1241.9,1602.6 L1243.1,1601.5 L1244.3,1600.4 L1245.5,1599.3 L1246.6,1598.1 L1247.8,1596.9 L1249.0,1595.6 L1250.2,1594.4 L1251.4,1593.1 L1252.6,1591.8 L1253.8,1590.5 L1255.0,1589.2 L1256.2,1587.9 L1257.4,1586.5 L1258.6,1585.2 L1259.7,1583.8 L1260.9,1582.4 L1262.1,1581.0 L1263.3,1579.7 L1264.5,1578.3 L1265.7,1576.9 L1266.9,1575.4 L1268.1,1574.0 L1269.3,1572.6 L1270.5,1571.2 L1271.6,1569.7 L1272.8,1568.3 L1274.0,1566.9 L1275.2,1565.4 L1276.4,1564.0 L1277.6,1562.5 L1278.8,1561.0 L1280.0,1559.6 L1281.2,1558.1 L1282.4,1556.6 L1283.6,1555.1 L1284.7,1553.6 L1285.9,1552.1 L1287.1,1550.6 L1288.3,1549.1 L1289.5,1547.6 L1290.7,1546.1 L1291.9,1544.6 L1293.1,1543.0 L1294.3,1541.5 L1295.5,1539.9 L1296.7,1538.4 L1297.8,1536.8 L1299.0,1535.2 L1300.2,1533.7 L1301.4,1532.1 L1302.6,1530.5 L1303.8,1529.0 L1305.0,1527.4 L1306.2,1525.8 L1307.4,1524.3 L1308.6,1522.7 L1309.8,1521.1 L1310.9,1519.6 L1312.1,1518.0 L1313.3,1516.4 L1314.5,1514.9 L1315.7,1513.3 L1316.9,1511.8 L1318.1,1510.2 L1319.3,1508.7 L1320.5,1507.2 L1321.7,1505.6 L1322.8,1504.1 L1324.0,1502.6 L1325.2,1501.0 L1326.4,1499.5 L1327.6,1498.0 L1328.8,1496.5 L1330.0,1495.0 L1331.2,1493.5 L1332.4,1492.0 L1333.6,1490.5 L1334.8,1489.1 L1335.9,1487.6 L1337.1,1486.1 L1338.3,1484.7 L1339.5,1483.2 L1340.7,1481.8 L1341.9,1480.4 L1343.1,1479.0 L1344.3,1477.6 L1345.5,1476.2 L1346.7,1474.8 L1347.9,1473.4 L1349.0,1472.0 L1350.2,1470.7 L1351.4,1469.3 L1352.6,1468.0 L1353.8,1466.6 L1355.0,1465.3 L1356.2,1464.0 L1357.4,1462.7 L1358.6,1461.4 L1359.8,1460.1 L1361.0,1458.8 L1362.1,1457.5 L1363.3,1456.2 L1364.5,1455.0 L1365.7,1453.7 L1366.9,1452.5 L1368.1,1451.2 L1369.3,1450.0 L1370.5,1448.7 L1371.7,1447.5 L1372.9,1446.3 L1374.0,1445.0 L1375.2,1443.8 L1376.4,1442.6 L1377.6,1441.4 L1378.8,1440.2 L1380.0,1439.0 L1381.2,1437.8 L1382.4,1436.6 L1383.6,1435.4 L1384.8,1434.2 L1386.0,1433.0 L1387.1,1431.8 L1388.3,1430.6 L1389.5,1429.4 L1390.7,1428.2 L1391.9,1427.1 L1393.1,1425.9 L1394.3,1424.7 L1395.5,1423.5 L1396.7,1422.4 L1397.9,1421.2 L1399.1,1420.1 L1400.2,1418.9 L1401.4,1417.8 L1402.6,1416.6 L1403.8,1415.5 L1405.0,1414.3 L1406.2,1413.2 L1407.4,1412.1 L1408.6,1410.9 L1409.8,1409.8 L1411.0,1408.7 L1412.2,1407.6 L1413.3,1406.4 L1414.5,1405.3 L1415.7,1404.2 L1416.9,1403.1 L1418.1,1402.0 L1419.3,1400.9 L1420.5,1399.8 L1421.7,1398.7 L1422.9,1397.7 L1424.1,1396.6 L1425.2,1395.5 L1426.4,1394.4 L1427.6,1393.4 L1428.8,1392.3 L1430.0,1391.2 L1431.2,1390.2 L1432.4,1389.1 L1433.6,1388.1 L1434.8,1387.0 L1436.0,1386.0 L1437.2,1385.0 L1438.3,1383.9 L1439.5,1382.9 L1440.7,1381.9 L1441.9,1380.9 L1443.1,1379.9 L1444.3,1378.8 L1445.5,1377.8 L1446.7,1376.8 L1447.9,1375.8 L1449.1,1374.9 L1450.3,1373.9 L1451.4,1372.9 L1452.6,1371.9 L1453.8,1370.9 L1455.0,1370.0 L1456.2,1369.0 L1457.4,1368.1 L1458.6,1367.1 L1459.8,1366.2 L1461.0,1365.2 L1462.2,1364.3 L1463.4,1363.3 L1464.5,1362.4 L1465.7,1361.5 L1466.9,1360.6 L1468.1,1359.6 L1469.3,1358.7 L1470.5,1357.8 L1471.7,1356.9 L1472.9,1356.0 L1474.1,1355.1 L1475.3,1354.2 L1476.4,1353.3 L1477.6,1352.4 L1478.8,1351.5 L1480.0,1350.7 L1481.2,1349.8 L1482.4,1348.9 L1483.6,1348.1 L1484.8,1347.2 L1486.0,1346.3 L1487.2,1345.5 L1488.4,1344.6 L1489.5,1343.8 L1490.7,1343.0 L1491.9,1342.1 L1493.1,1341.3 L1494.3,1340.4 L1495.5,1339.6 L1496.7,1338.8 L1497.9,1338.0 L1499.1,1337.2 L1500.3,1336.4 L1501.5,1335.5 L1502.6,1334.7 L1503.8,1333.9 L1505.0,1333.1 L1506.2,1332.3 L1507.4,1331.6 L1508.6,1330.8 L1509.8,1330.0 L1511.0,1329.2 L1512.2,1328.4 L1513.4,1327.7 L1514.6,1326.9 L1515.7,1326.1 L1516.9,1325.4 L1518.1,1324.6 L1519.3,1323.9 L1520.5,1323.1 L1521.7,1322.4 L1522.9,1321.6 L1524.1,1320.9 L1525.3,1320.1 L1526.5,1319.4 L1527.6,1318.7 L1528.8,1318.0 L1530.0,1317.2 L1531.2,1316.5 L1532.4,1315.8 L1533.6,1315.1 L1534.8,1314.4 L1536.0,1313.7 L1537.2,1313.0 L1538.4,1312.2 L1539.6,1311.5 L1540.7,1310.9 L1541.9,1310.2 L1543.1,1309.5 L1544.3,1308.8 L1545.5,1308.1 L1546.7,1307.4 L1547.9,1306.7 L1549.1,1306.1 L1550.3,1305.4 L1551.5,1304.7 L1552.7,1304.1 L1553.8,1303.4 L1555.0,1302.7 L1556.2,1302.1 L1557.4,1301.4 L1558.6,1300.8 L1559.8,1300.1 L1561.0,1299.5 L1562.2,1298.8 L1563.4,1298.2 L1564.6,1297.6 L1565.8,1296.9 L1566.9,1296.3 L1568.1,1295.7 L1569.3,1295.0 L1570.5,1294.4 L1571.7,1293.8 L1572.9,1293.2 L1574.1,1292.5 L1575.3,1291.9 L1576.5,1291.3 L1577.7,1290.7 L1578.8,1290.1 L1580.0,1289.5 L1581.2,1288.9 L1582.4,1288.3 L1583.6,1287.7 L1584.8,1287.1 L1586.0,1286.5 L1587.2,1285.9 L1588.4,1285.3 L1589.6,1284.8 L1590.8,1284.2 L1591.9,1283.6 L1593.1,1283.0 L1594.3,1282.5 L1595.5,1281.9 L1596.7,1281.3 L1597.9,1280.7 L1599.1,1280.2 L1600.3,1279.6 L1601.5,1279.1 L1602.7,1278.5 L1603.9,1277.9 L1605.0,1277.4 L1606.2,1276.8 L1607.4,1276.3 L1608.6,1275.8 L1609.8,1275.2 L1611.0,1274.7 L1612.2,1274.1 L1613.4,1273.6 L1614.6,1273.1 L1615.8,1272.5 L1617.0,1272.0 L1618.1,1271.5 L1619.3,1270.9 L1620.5,1270.4 L1621.7,1269.9 L1622.9,1269.4 L1624.1,1268.9 L1625.3,1268.4 L1626.5,1267.8 L1627.7,1267.3 L1628.9,1266.8 L1630.0,1266.3 L1631.2,1265.8 L1632.4,1265.3 L1633.6,1264.8 L1634.8,1264.3 L1636.0,1263.8 L1637.2,1263.3 L1638.4,1262.9 L1639.6,1262.4 L1640.8,1261.9 L1642.0,1261.4 L1643.1,1260.9 L1644.3,1260.4 L1645.5,1260.0 L1646.7,1259.5 L1647.9,1259.0 L1649.1,1258.5 L1650.3,1258.1 L1651.5,1257.6 L1652.7,1257.1 L1653.9,1256.7 L1655.1,1256.2 L1656.2,1255.8 L1657.4,1255.3 L1658.6,1254.8 L1659.8,1254.4 L1661.0,1253.9 L1662.2,1253.5 L1663.4,1253.0 L1664.6,1252.6 L1665.8,1252.1 L1667.0,1251.7 L1668.2,1251.3 L1669.3,1250.8 L1670.5,1250.4 L1671.7,1250.0 L1672.9,1249.5 L1674.1,1249.1 L1675.3,1248.7 L1676.5,1248.2 L1677.7,1247.8 L1678.9,1247.4 L1680.1,1247.0 L1681.2,1246.5 L1682.4,1246.1 L1683.6,1245.7 L1684.8,1245.3 L1686.0,1244.9 L1687.2,1244.5 L1688.4,1244.1 L1689.6,1243.7 L1690.8,1243.3 L1692.0,1242.8 L1693.2,1242.4 L1694.3,1242.0 L1695.5,1241.6 L1696.7,1241.2 L1697.9,1240.9 L1699.1,1240.5 L1700.3,1240.1 L1701.5,1239.7 L1702.7,1239.3 L1703.9,1238.9 L1705.1,1238.5 L1706.3,1238.1 L1707.4,1237.7 L1708.6,1237.4 L1709.8,1237.0 L1711.0,1236.6 L1712.2,1236.2 L1713.4,1235.8 L1714.6,1235.5 L1715.8,1235.1 L1717.0,1234.7 L1718.2,1234.3 L1719.4,1234.0 L1720.5,1233.6 L1721.7,1233.2 L1722.9,1232.9 L1724.1,1232.5 L1725.3,1232.1 L1726.5,1231.8 L1727.7,1231.4 L1728.9,1231.1 L1730.1,1230.7 L1731.3,1230.3 L1732.4,1230.0 L1733.6,1229.6 L1734.8,1229.3 L1736.0,1228.9 L1737.2,1228.6 L1738.4,1228.2 L1739.6,1227.9 L1740.8,1227.5 L1742.0,1227.2 L1743.2,1226.8 L1744.4,1226.5 L1745.5,1226.1 L1746.7,1225.8 L1747.9,1225.4 L1749.1,1225.1 L1750.3,1224.7 L1751.5,1224.4 L1752.7,1224.0 L1753.9,1223.7 L1755.1,1223.4 L1756.3,1223.0 L1757.5,1222.7 L1758.6,1222.4 L1759.8,1222.0 L1761.0,1221.7 L1762.2,1221.4 L1763.4,1221.0 L1764.6,1220.7 L1765.8,1220.4 L1767.0,1220.0 L1768.2,1219.7 L1769.4,1219.4 L1770.6,1219.0 L1771.7,1218.7 L1772.9,1218.4 L1774.1,1218.1 L1775.3,1217.7 L1776.5,1217.4 L1777.7,1217.1 L1778.9,1216.8 L1780.1,1216.4 L1781.3,1216.1 L1782.5,1215.8 L1783.6,1215.5 L1784.8,1215.2 L1786.0,1214.9 L1787.2,1214.5 L1788.4,1214.2 L1789.6,1213.9 L1790.8,1213.6 L1792.0,1213.3 L1793.2,1213.0 L1794.4,1212.7 L1795.6,1212.4 L1796.7,1212.0 L1797.9,1211.7 L1799.1,1211.4 L1800.3,1211.1 L1801.5,1210.8 L1802.7,1210.5 L1803.9,1210.2 L1805.1,1209.9 L1806.3,1209.6 L1807.5,1209.3 L1808.7,1209.0 L1809.8,1208.7 L1811.0,1208.4 L1812.2,1208.1 L1813.4,1207.8 L1814.6,1207.5 L1815.8,1207.2 L1817.0,1206.9 L1818.2,1206.6 L1819.4,1206.3 L1820.6,1206.0 L1821.8,1205.7 L1822.9,1205.4 L1824.1,1205.2 L1825.3,1204.9 L1826.5,1204.6 L1827.7,1204.3 L1828.9,1204.0 L1830.1,1203.7 L1831.3,1203.4 L1832.5,1203.1 L1833.7,1202.9 L1834.8,1202.6 L1836.0,1202.3 L1837.2,1202.0 L1838.4,1201.7 L1839.6,1201.4 L1840.8,1201.2 L1842.0,1200.9 L1843.2,1200.6 L1844.4,1200.3 L1845.6,1200.0 L1846.8,1199.8 L1847.9,1199.5 L1849.1,1199.2 L1850.3,1198.9 L1851.5,1198.7 L1852.7,1198.4 L1853.9,1198.1 L1855.1,1197.8 L1856.3,1197.6 L1857.5,1197.3 L1858.7,1197.0 L1859.9,1196.8 L1861.0,1196.5 L1862.2,1196.2 L1863.4,1196.0 L1864.6,1195.7 L1865.8,1195.4 L1867.0,1195.2 L1868.2,1194.9 L1869.4,1194.6 L1870.6,1194.4 L1871.8,1194.1 L1873.0,1193.8 L1874.1,1193.6 L1875.3,1193.3 L1876.5,1193.1 L1877.7,1192.8 L1878.9,1192.5 L1880.1,1192.3 L1881.3,1192.0 L1882.5,1191.8 L1883.7,1191.5 L1884.9,1191.2 L1886.0,1191.0 L1887.2,1190.7 L1888.4,1190.5 L1889.6,1190.2 L1890.8,1190.0 L1892.0,1189.7 L1893.2,1189.5 L1894.4,1189.2 L1895.6,1189.0 L1896.8,1188.7 L1898.0,1188.5 L1899.1,1188.2 L1900.3,1188.0 L1901.5,1187.7 L1902.7,1187.5 L1903.9,1187.2 L1905.1,1187.0 L1906.3,1186.7 L1907.5,1186.5 L1908.7,1186.3 L1909.9,1186.0 L1911.1,1185.8 L1912.2,1185.5 L1913.4,1185.3 L1914.6,1185.0 L1915.8,1184.8 L1917.0,1184.6 L1918.2,1184.3 L1919.4,1184.1 L1920.6,1183.8 L1921.8,1183.6 L1923.0,1183.4 L1924.2,1183.1 L1925.3,1182.9 L1926.5,1182.7 L1927.7,1182.4 L1928.9,1182.2 L1930.1,1182.0 L1931.3,1181.7 L1932.5,1181.5 L1933.7,1181.3 L1934.9,1181.0 L1936.1,1180.8 L1937.2,1180.6 L1938.4,1180.3 L1939.6,1180.1 L1940.8,1179.9 L1942.0,1179.6 L1943.2,1179.4 L1944.4,1179.2 L1945.6,1179.0 L1946.8,1178.7 L1948.0,1178.5 L1949.2,1178.3 L1950.3,1178.1 L1951.5,1177.8 L1952.7,1177.6 L1953.9,1177.4 L1955.1,1177.2 L1956.3,1176.9 L1957.5,1176.7 L1958.7,1176.5 L1959.9,1176.3 L1961.1,1176.0 L1962.3,1175.8 L1963.4,1175.6 L1964.6,1175.4 L1965.8,1175.2 L1967.0,1174.9 L1968.2,1174.7 L1969.4,1174.5 L1970.6,1174.3 L1971.8,1174.1 L1973.0,1173.9 L1974.2,1173.6 L1975.4,1173.4 L1976.5,1173.2 L1977.7,1173.0 L1978.9,1172.8 L1980.1,1172.6 L1981.3,1172.4 L1982.5,1172.1 L1983.7,1171.9 L1984.9,1171.7 L1986.1,1171.5 L1987.3,1171.3 L1988.4,1171.1 L1989.6,1170.9 L1990.8,1170.7 L1992.0,1170.5 L1993.2,1170.3 L1994.4,1170.0 L1995.6,1169.8 L1996.8,1169.6 L1998.0,1169.4 L1999.2,1169.2 L2000.4,1169.0 L2001.5,1168.8 L2002.7,1168.6 L2003.9,1168.4 L2005.1,1168.2 L2006.3,1168.0 L2007.5,1167.8 L2008.7,1167.6 L2009.9,1167.4 L2011.1,1167.2 L2012.3,1167.0 L2013.5,1166.8 L2014.6,1166.6 L2015.8,1166.4 L2017.0,1166.2 L2018.2,1166.0 L2019.4,1165.8 L2020.6,1165.6 L2021.8,1165.4 L2023.0,1165.2 L2024.2,1165.0 L2025.4,1164.8 L2026.6,1164.6 L2027.7,1164.4 L2028.9,1164.2 L2030.1,1164.0 L2031.3,1163.8 L2032.5,1163.6 L2033.7,1163.4 L2034.9,1163.2 L2036.1,1163.0 L2037.3,1162.8 L2038.5,1162.7 L2039.7,1162.5 L2040.8,1162.3 L2042.0,1162.1 L2043.2,1161.9 L2044.4,1161.7 L2045.6,1161.5 L2046.8,1161.3 L2048.0,1161.1 L2049.2,1160.9 L2050.4,1160.8 L2051.6,1160.6 L2052.7,1160.4 L2053.9,1160.2 L2055.1,1160.0 L2056.3,1159.8 L2057.5,1159.6 L2058.7,1159.4 L2059.9,1159.3 L2061.1,1159.1 L2062.3,1158.9 L2063.5,1158.7 L2064.7,1158.5 L2065.8,1158.3 L2067.0,1158.2 L2068.2,1158.0 L2069.4,1157.8 L2070.6,1157.6 L2071.8,1157.4 L2073.0,1157.2 L2074.2,1157.1 L2075.4,1156.9 L2076.6,1156.7 L2077.8,1156.5 L2078.9,1156.3 L2080.1,1156.2 L2081.3,1156.0 L2082.5,1155.8 L2083.7,1155.6 L2084.9,1155.5 L2086.1,1155.3 L2087.3,1155.1 L2088.5,1154.9 L2089.7,1154.7 L2090.9,1154.6 L2092.0,1154.4 L2093.2,1154.2 L2094.4,1154.0 L2095.6,1153.9 L2096.8,1153.7 L2098.0,1153.5 L2099.2,1153.3 L2100.4,1153.2 L2101.6,1153.0 L2102.8,1152.8 L2103.9,1152.7 L2105.1,1152.5 L2106.3,1152.3 L2107.5,1152.1 L2108.7,1152.0 L2109.9,1151.8 L2111.1,1151.6 L2112.3,1151.5 L2113.5,1151.3 L2114.7,1151.1 L2115.9,1151.0 L2117.0,1150.8 L2118.2,1150.6 L2119.4,1150.5 L2120.6,1150.3 L2121.8,1150.1 L2123.0,1150.0 L2124.2,1149.8 L2125.4,1149.6 L2126.6,1149.5 L2127.8,1149.3 L2129.0,1149.1 L2130.1,1149.0 L2131.3,1148.8 L2132.5,1148.6 L2133.7,1148.5 L2134.9,1148.3 L2136.1,1148.2 L2137.3,1148.0 L2138.5,1147.8 L2139.7,1147.7 L2140.9,1147.5 L2142.1,1147.3 L2143.2,1147.2 L2144.4,1147.0 L2145.6,1146.9 L2146.8,1146.7 L2147.3,1146.6" stroke="#f00" stroke-dasharray="17.3 11.54 2.31 11.54"/>
<path d="M254.8,870.5 L256.0,870.5 L257.2,870.5 L258.4,870.5 L259.6,870.5 L260.7,870.5 L261.9,870.5 L263.1,870.5 L264.3,870.5 L265.5,870.5 L266.7,870.5 L267.9,870.5 L269.1,870.5 L270.3,870.5 L271.5,870.5 L272.7,870.5 L273.8,870.5 L275.0,870.5 L276.2,870.5 L277.4,870.5 L278.6,870.5 L279.8,870.5 L281.0,870.5 L282.2,870.5 L283.4,870.5 L284.6,870.5 L285.7,870.5 L286.9,870.5 L288.1,870.5 L289.3,870.5 L290.5,870.5 L291.7,870.5 L292.9,870.5 L294.1,870.5 L295.3,870.5 L296.5,870.5 L297.7,870.5 L298.8,870.5 L300.0,870.5 L301.2,870.5 L302.4,870.5 L303.6,870.5 L304.8,870.5 L306.0,870.5 L307.2,870.5 L308.4,870.5 L309.6,870.5 L310.8,870.5 L311.9,870.5 L313.1,870.5 L314.3,870.5 L315.5,870.5 L316.7,870.5 L317.9,870.5 L319.1,870.5 L320.3,870.5 L321.5,870.5 L322.7,870.5 L323.9,870.5 L325.0,870.5 L326.2,870.5 L327.4,870.5 L328.6,870.5 L329.8,870.5 L331.0,870.5 L332.2,870.5 L333.4,870.5 L334.6,870.5 L335.8,870.5 L336.9,870.5 L338.1,870.5 L339.3,870.5 L340.5,870.5 L341.7,870.5 L342.9,870.5 L344.1,870.5 L345.3,870.5 L346.5,870.5 L347.7,870.5 L348.9,870.5 L350.0,870.5 L351.2,870.5 L352.4,870.5 L353.6,870.5 L354.8,870.5 L356.0,870.5 L357.2,870.5 L358.4,870.5 L359.6,870.5 L360.8,870.5 L362.0,870.5 L363.1,870.5 L364.3,870.5 L365.5,870.5 L366.7,870.5 L367.9,870.5 L369.1,870.5 L370.3,870.5 L371.5,870.5 L372.7,870.5 L373.9,870.5 L375.1,870.5 L376.2,870.5 L377.4,870.5 L378.6,870.5 L379.8,870.5 L381.0,870.5 L382.2,870.5 L383.4,870.5 L384.6,870.5 L385.8,870.5 L387.0,870.5 L388.1,870.5 L389.3,870.5 L390.5,870.5 L391.7,870.5 L392.9,870.5 L394.1,870.5 L395.3,870.5 L396.5,870.5 L397.7,870.5 L398.9,870.5 L400.1,870.5 L401.2,870.5 L402.4,870.5 L403.6,870.5 L404.8,870.5 L406.0,870.5 L407.2,870.5 L408.4,870.5 L409.6,870.5 L410.8,870.5 L412.0,870.5 L413.2,870.5 L414.3,870.5 L415.5,870.5 L416.7,870.5 L417.9,870.5 L419.1,870.5 L420.3,870.5 L421.5,870.5 L422.7,870.5 L423.9,870.5 L425.1,870.5 L426.3,870.5 L427.4,870.5 L428.6,870.5 L429.8,870.5 L431.0,870.5 L432.2,870.5 L433.4,870.5 L434.6,870.5 L435.8,870.5 L437.0,870.5 L438.2,870.5 L439.3,870.5 L440.5,870.5 L441.7,870.5 L442.9,870.5 L444.1,870.5 L445.3,870.5 L446.5,870.5 L447.7,870.5 L448.9,870.5 L450.1,870.5 L451.3,870.5 L452.4,870.5 L453.6,870.5 L454.8,870.5 L456.0,870.5 L457.2,870.5 L458.4,870.5 L459.6,870.5 L460.8,870.5 L462.0,870.5 L463.2,870.5 L464.4,870.5 L465.5,870.5 L466.7,870.5 L467.9,870.5 L469.1,870.5 L470.3,870.5 L471.5,870.5 L472.7,870.5 L473.9,870.5 L475.1,870.5 L476.3,870.5 L477.5,870.5 L478.6,870.5 L479.8,870.5 L481.0,870.5 L482.2,870.5 L483.4,870.5 L484.6,870.5 L485.8,870.5 L487.0,870.5 L488.2,870.5 L489.4,870.5 L490.5,870.5 L491.7,870.5 L492.9,870.5 L494.1,870.5 L495.3,870.5 L496.5,870.5 L497.7,870.5 L498.9,870.5 L500.1,870.5 L501.3,870.5 L502.5,870.5 L503.6,870.5 L504.8,870.5 L506.0,870.5 L507.2,870.5 L508.4,870.5 L509.6,870.5 L510.8,870.5 L512.0,870.5 L513.2,870.5 L514.4,870.5 L515.6,870.5 L516.7,870.5 L517.9,870.5 L519.1,870.5 L520.3,870.5 L521.5,870.5 L522.7,870.5 L523.9,870.5 L525.1,870.5 L526.3,870.5 L527.5,870.5 L528.7,870.5 L529.8,870.5 L531.0,870.5 L532.2,870.5 L533.4,870.5 L534.6,870.5 L535.8,870.5 L537.0,870.5 L538.2,870.5 L539.4,870.5 L540.6,870.5 L541.7,870.5 L542.9,870.5 L544.1,870.5 L545.3,870.5 L546.5,870.5 L547.7,870.5 L548.9,870.5 L550.1,870.5 L551.3,870.5 L552.5,870.5 L553.7,870.5 L554.8,870.5 L556.0,870.5 L557.2,870.5 L558.4,870.5 L559.6,870.5 L560.8,870.5 L562.0,870.5 L563.2,870.5 L564.4,870.5 L565.6,870.5 L566.8,870.5 L567.9,870.5 L569.1,870.5 L570.3,870.5 L571.5,870.5 L572.7,870.5 L573.9,870.5 L575.1,870.5 L576.3,870.5 L577.5,870.5 L578.7,870.5 L579.9,870.5 L581.0,870.5 L582.2,870.5 L583.4,870.5 L584.6,870.5 L585.8,870.5 L587.0,870.5 L588.2,870.5 L589.4,870.5 L590.6,870.5 L591.8,870.5 L592.9,870.5 L594.1,870.5 L595.3,870.5 L596.5,870.5 L597.7,870.5 L598.9,870.5 L600.1,870.5 L601.3,870.5 L602.5,870.5 L603.7,870.5 L604.9,870.5 L606.0,870.5 L607.2,870.5 L608.4,870.5 L609.6,870.5 L610.8,870.5 L612.0,870.5 L613.2,870.5 L614.4,870.5 L615.6,870.5 L616.8,870.5 L618.0,870.5 L619.1,870.5 L620.3,870.5 L621.5,870.5 L622.7,870.5 L623.9,870.5 L625.1,870.5 L626.3,870.5 L627.5,870.5 L628.7,870.5 L629.9,870.5 L631.1,870.5 L632.2,870.5 L633.4,870.5 L634.6,870.5 L635.8,870.5 L637.0,870.5 L638.2,870.5 L639.4,870.5 L640.6,870.5 L641.8,870.5 L643.0,870.5 L644.1,870.5 L645.3,870.5 L646.5,870.5 L647.7,870.5 L648.9,870.5 L650.1,870.5 L651.3,870.5 L652.5,870.5 L653.7,870.5 L654.9,870.5 L656.1,870.5 L657.2,870.5 L658.4,870.5 L659.6,870.5 L660.8,870.5 L662.0,870.5 L663.2,870.5 L664.4,870.5 L665.6,870.5 L666.8,870.5 L668.0,870.5 L669.2,870.5 L670.3,870.5 L671.5,870.5 L672.7,870.5 L673.9,870.5 L675.1,870.5 L676.3,870.5 L677.5,870.5 L678.7,870.5 L679.9,870.5 L681.1,870.5 L682.3,870.5 L683.4,870.5 L684.6,870.5 L685.8,870.5 L687.0,870.5 L688.2,870.5 L689.4,870.5 L690.6,870.5 L691.8,870.5 L693.0,870.5 L694.2,870.5 L695.3,870.5 L696.5,870.5 L697.7,870.5 L698.9,870.5 L700.1,870.5 L701.3,870.5 L702.5,870.5 L703.7,870.5 L704.9,870.5 L706.1,870.5 L707.3,870.5 L708.4,870.5 L709.6,870.5 L710.8,870.5 L712.0,870.5 L713.2,870.5 L714.4,870.5 L715.6,870.5 L716.8,870.5 L718.0,870.5 L719.2,870.5 L720.4,870.5 L721.5,870.5 L722.7,870.5 L723.9,870.5 L725.1,870.5 L726.3,870.5 L727.5,870.5 L728.7,870.5 L729.9,870.5 L731.1,870.5 L732.3,870.5 L733.5,870.5 L734.6,870.5 L735.8,870.5 L737.0,870.5 L738.2,870.5 L739.4,870.5 L740.6,870.5 L741.8,870.5 L743.0,870.5 L744.2,870.5 L745.4,870.5 L746.5,870.5 L747.7,870.5 L748.9,870.5 L750.1,870.5 L751.3,870.5 L752.5,870.5 L753.7,870.5 L754.9,870.5 L756.1,870.5 L757.3,870.5 L758.5,870.5 L759.6,870.5 L760.8,870.5 L762.0,870.5 L763.2,870.5 L764.4,870.5 L765.6,870.5 L766.8,870.5 L768.0,870.5 L769.2,870.5 L770.4,870.5 L771.6,870.5 L772.7,870.5 L773.9,870.5 L775.1,870.5 L776.3,870.5 L777.5,870.5 L778.7,870.5 L779.9,870.5 L781.1,870.5 L782.3,870.5 L783.5,870.5 L784.7,870.5 L785.8,870.5 L787.0,870.5 L788.2,870.5 L789.4,870.5 L790.6,870.5 L791.8,870.5 L793.0,870.5 L794.2,870.5 L795.4,870.5 L796.6,870.5 L797.7,870.5 L798.9,870.5 L800.1,870.5 L801.3,870.5 L802.5,870.5 L803.7,870.5 L804.9,870.5 L806.1,870.5 L807.3,870.5 L808.5,870.5 L809.7,870.5 L810.8,870.5 L812.0,870.5 L813.2,870.5 L814.4,870.5 L815.6,870.5 L816.8,870.5 L818.0,870.5 L819.2,870.5 L820.4,870.5 L821.6,870.5 L822.8,870.5 L823.9,870.5 L825.1,870.5 L826.3,870.5 L827.5,870.5 L828.7,870.5 L829.9,870.5 L831.1,870.5 L832.3,870.5 L833.5,870.5 L834.7,870.5 L835.9,870.5 L837.0,870.5 L838.2,870.5 L839.4,870.5 L840.6,870.5 L841.8,870.5 L843.0,870.5 L844.2,870.5 L845.4,870.5 L846.6,870.5 L847.8,870.5 L849.0,870.5 L850.1,870.5 L851.3,870.5 L852.5,870.5 L853.7,870.5 L854.9,870.5 L856.1,870.5 L857.3,870.5 L858.5,870.5 L859.7,870.5 L860.9,870.5 L862.0,870.5 L863.2,870.5 L864.4,870.5 L865.6,870.5 L866.8,870.5 L868.0,870.5 L869.2,870.5 L870.4,870.5 L871.6,870.5 L872.8,870.5 L874.0,870.5 L875.1,870.5 L876.3,870.5 L877.5,870.5 L878.7,870.5 L879.9,870.5 L881.1,870.5 L882.3,870.5 L883.5,870.5 L884.7,870.5 L885.9,870.5 L887.1,870.5 L888.2,870.5 L889.4,870.5 L890.6,870.5 L891.8,870.5 L893.0,870.5 L894.2,870.5 L895.4,870.5 L896.6,870.5 L897.8,870.5 L899.0,870.5 L900.2,870.5 L901.3,870.5 L902.5,870.5 L903.7,870.5 L904.9,870.5 L906.1,870.5 L907.3,870.5 L908.5,870.5 L909.7,870.5 L910.9,870.5 L912.1,870.5 L913.2,870.5 L914.4,870.5 L915.6,870.5 L916.8,870.5 L918.0,870.5 L919.2,870.5 L920.4,870.5 L921.6,870.5 L922.8,870.5 L924.0,870.5 L925.2,870.5 L926.3,870.5 L927.5,870.5 L928.7,870.5 L929.9,870.5 L931.1,870.5 L932.3,870.5 L933.5,870.5 L934.7,870.5 L935.9,870.5 L937.1,870.5 L938.3,870.5 L939.4,870.5 L940.6,870.5 L941.8,870.5 L943.0,870.5 L944.2,870.5 L945.4,870.5 L946.6,870.5 L947.8,870.5 L949.0,870.5 L950.2,870.5 L951.4,870.5 L952.5,870.5 L953.7,870.5 L954.9,870.5 L956.1,870.5 L957.3,870.5 L958.5,870.5 L959.7,870.5 L960.9,870.5 L962.1,870.5 L963.3,870.5 L964.4,870.5 L965.6,870.5 L966.8,870.5 L968.0,870.5 L969.2,870.5 L970.4,870.5 L971.6,870.5 L972.8,870.5 L974.0,870.5 L975.2,870.5 L976.4,870.5 L977.5,870.5 L978.7,870.5 L979.9,870.5 L981.1,870.5 L982.3,870.5 L983.5,870.5 L984.7,870.5 L985.9,870.5 L987.1,870.5 L988.3,870.5 L989.5,870.5 L990.6,870.5 L991.8,870.5 L993.0,870.5 L994.2,870.5 L995.4,870.5 L996.6,870.5 L997.8,870.5 L999.0,870.5 L1000.2,870.5 L1001.4,870.5 L1002.6,870.5 L1003.7,870.5 L1004.9,870.5 L1006.1,870.5 L1007.3,870.5 L1008.5,870.5 L1009.7,870.5 L1010.9,870.5 L1012.1,870.5 L1013.3,870.5 L1014.5,870.5 L1015.6,870.5 L1016.8,870.5 L1018.0,870.5 L1019.2,870.5 L1020.4,870.5 L1021.6,870.5 L1022.8,870.5 L1024.0,870.5 L1025.2,870.5 L1026.4,870.5 L1027.6,870.5 L1028.7,870.5 L1029.9,870.5 L1031.1,870.5 L1032.3,870.5 L1033.5,870.5 L1034.7,870.5 L1035.9,870.5 L1037.1,870.5 L1038.3,870.5 L1039.5,870.5 L1040.7,870.5 L1041.8,870.5 L1043.0,870.5 L1044.2,870.5 L1045.4,870.5 L1046.6,870.5 L1047.8,870.5 L1049.0,870.5 L1050.2,870.5 L1051.4,870.5 L1052.6,870.5 L1053.8,870.5 L1054.9,870.5 L1056.1,870.5 L1057.3,870.5 L1058.5,870.5 L1059.7,870.5 L1060.9,870.5 L1062.1,870.5 L1063.3,870.5 L1064.5,870.5 L1065.7,870.5 L1066.8,870.5 L1068.0,870.5 L1069.2,870.5 L1070.4,870.5 L1071.6,870.5 L1072.8,870.5 L1074.0,870.5 L1075.2,870.5 L1076.4,870.5 L1077.6,870.5 L1078.8,870.5 L1079.9,870.5 L1081.1,870.5 L1082.3,870.5 L1083.5,870.5 L1084.7,870.5 L1085.9,870.5 L1087.1,870.5 L1088.3,870.5 L1089.5,870.5 L1090.7,870.5 L1091.9,870.5 L1093.0,870.5 L1094.2,870.5 L1095.4,870.5 L1096.6,870.5 L1097.8,870.5 L1099.0,870.5 L1100.2,870.5 L1101.4,870.5 L1102.6,870.5 L1103.8,870.5 L1105.0,870.5 L1106.1,870.5 L1107.3,870.5 L1108.5,870.5 L1109.7,870.5 L1110.9,870.5 L1112.1,870.5 L1113.3,870.5 L1114.5,870.5 L1115.7,870.5 L1116.9,870.5 L1118.0,870.5 L1119.2,870.5 L1120.4,870.5 L1121.6,870.5 L1122.8,870.5 L1124.0,870.5 L1125.2,870.5 L1126.4,870.5 L1127.6,870.5 L1128.8,870.5 L1130.0,870.5 L1131.1,870.5 L1132.3,870.5 L1133.5,870.5 L1134.7,870.5 L1135.9,870.5 L1137.1,870.5 L1138.3,870.5 L1139.5,870.5 L1140.7,870.5 L1141.9,870.5 L1143.1,870.5 L1144.2,870.5 L1145.4,870.5 L1146.6,870.5 L1147.8,870.5 L1149.0,870.5 L1150.2,870.5 L1151.4,870.5 L1152.6,870.5 L1153.8,870.5 L1155.0,870.5 L1156.2,870.5 L1157.3,870.5 L1158.5,870.5 L1159.7,870.5 L1160.9,870.5 L1162.1,870.5 L1163.3,870.5 L1164.5,870.5 L1165.7,870.5 L1166.9,870.5 L1168.1,870.5 L1169.2,870.5 L1170.4,870.5 L1171.6,870.5 L1172.8,870.5 L1174.0,870.5 L1175.2,870.5 L1176.4,870.5 L1177.6,870.5 L1178.8,870.5 L1180.0,870.5 L1181.2,870.5 L1182.3,870.5 L1183.5,870.5 L1184.7,870.5 L1185.9,870.5 L1187.1,870.5 L1188.3,870.5 L1189.5,870.5 L1190.7,870.5 L1191.9,870.5 L1193.1,870.5 L1194.3,870.5 L1195.4,870.5 L1196.6,870.5 L1197.8,870.5 L1199.0,870.5 L1200.2,870.5 L1201.4,870.5 L1202.6,870.5 L1203.8,870.5 L1205.0,870.5 L1206.2,870.5 L1207.4,870.5 L1208.5,870.5 L1209.7,870.5 L1210.9,870.5 L1212.1,870.5 L1213.3,870.5 L1214.5,870.5 L1215.7,870.5 L1216.9,870.5 L1218.1,870.5 L1219.3,870.5 L1220.4,870.5 L1221.6,870.5 L1222.8,870.5 L1224.0,870.5 L1225.2,870.5 L1226.4,870.5 L1227.6,870.5 L1228.8,870.5 L1230.0,870.5 L1231.2,870.5 L1232.4,870.5 L1233.5,870.5 L1234.7,870.5 L1235.9,870.5 L1237.1,870.5 L1238.3,870.5 L1239.5,870.5 L1240.7,870.5 L1241.9,870.5 L1243.1,870.5 L1244.3,870.5 L1245.5,870.5 L1246.6,870.5 L1247.8,870.5 L1249.0,870.5 L1250.2,870.5 L1251.4,870.5 L1252.6,870.5 L1253.8,870.5 L1255.0,870.5 L1256.2,870.5 L1257.4,870.5 L1258.6,870.5 L1259.7,870.5 L1260.9,870.5 L1262.1,870.5 L1263.3,870.5 L1264.5,870.5 L1265.7,870.5 L1266.9,870.5 L1268.1,870.5 L1269.3,870.5 L1270.5,870.5 L1271.6,870.5 L1272.8,870.5 L1274.0,870.5 L1275.2,870.5 L1276.4,870.5 L1277.6,870.5 L1278.8,870.5 L1280.0,870.5 L1281.2,870.5 L1282.4,870.5 L1283.6,870.5 L1284.7,870.5 L1285.9,870.5 L1287.1,870.5 L1288.3,870.5 L1289.5,870.5 L1290.7,870.5 L1291.9,870.5 L1293.1,870.5 L1294.3,870.5 L1295.5,870.5 L1296.7,870.5 L1297.8,870.5 L1299.0,870.5 L1300.2,870.5 L1301.4,870.5 L1302.6,870.5 L1303.8,870.5 L1305.0,870.5 L1306.2,870.5 L1307.4,870.5 L1308.6,870.5 L1309.8,870.5 L1310.9,870.5 L1312.1,870.5 L1313.3,870.5 L1314.5,870.5 L1315.7,870.5 L1316.9,870.5 L1318.1,870.5 L1319.3,870.5 L1320.5,870.5 L1321.7,870.5 L1322.8,870.5 L1324.0,870.5 L1325.2,870.5 L1326.4,870.5 L1327.6,870.5 L1328.8,870.5 L1330.0,870.5 L1331.2,870.5 L1332.4,870.5 L1333.6,870.5 L1334.8,870.5 L1335.9,870.5 L1337.1,870.5 L1338.3,870.5 L1339.5,870.5 L1340.7,870.5 L1341.9,870.5 L1343.1,870.5 L1344.3,870.5 L1345.5,870.5 L1346.7,870.5 L1347.9,870.5 L1349.0,870.5 L1350.2,870.5 L1351.4,870.5 L1352.6,870.5 L1353.8,870.5 L1355.0,870.5 L1356.2,870.5 L1357.4,870.5 L1358.6,870.5 L1359.8,870.5 L1361.0,870.5 L1362.1,870.5 L1363.3,870.5 L1364.5,870.5 L1365.7,870.5 L1366.9,870.5 L1368.1,870.5 L1369.3,870.5 L1370.5,870.5 L1371.7,870.5 L1372.9,870.5 L1374.0,870.5 L1375.2,870.5 L1376.4,870.5 L1377.6,870.5 L1378.8,870.5 L1380.0,870.5 L1381.2,870.5 L1382.4,870.5 L1383.6,870.5 L1384.8,870.5 L1386.0,870.5 L1387.1,870.5 L1388.3,870.5 L1389.5,870.5 L1390.7,870.5 L1391.9,870.5 L1393.1,870.5 L1394.3,870.5 L1395.5,870.5 L1396.7,870.5 L1397.9,870.5 L1399.1,870.5 L1400.2,870.5 L1401.4,870.5 L1402.6,870.5 L1403.8,870.5 L1405.0,870.5 L1406.2,870.5 L1407.4,870.5 L1408.6,870.5 L1409.8,870.5 L1411.0,870.5 L1412.2,870.5 L1413.3,870.5 L1414.5,870.5 L1415.7,870.5 L1416.9,870.5 L1418.1,870.5 L1419.3,870.5 L1420.5,870.5 L1421.7,870.5 L1422.9,870.5 L1424.1,870.5 L1425.2,870.5 L1426.4,870.5 L1427.6,870.5 L1428.8,870.5 L1430.0,870.5 L1431.2,870.5 L1432.4,870.5 L1433.6,870.5 L1434.8,870.5 L1436.0,870.5 L1437.2,870.5 L1438.3,870.5 L1439.5,870.5 L1440.7,870.5 L1441.9,870.5 L1443.1,870.5 L1444.3,870.5 L1445.5,870.5 L1446.7,870.5 L1447.9,870.5 L1449.1,870.5 L1450.3,870.5 L1451.4,870.5 L1452.6,870.5 L1453.8,870.5 L1455.0,870.5 L1456.2,870.5 L1457.4,870.5 L1458.6,870.5 L1459.8,870.5 L1461.0,870.5 L1462.2,870.5 L1463.4,870.5 L1464.5,870.5 L1465.7,870.5 L1466.9,870.5 L1468.1,870.5 L1469.3,870.5 L1470.5,870.5 L1471.7,870.5 L1472.9,870.5 L1474.1,870.5 L1475.3,870.5 L1476.4,870.5 L1477.6,870.5 L1478.8,870.5 L1480.0,870.5 L1481.2,870.5 L1482.4,870.5 L1483.6,870.5 L1484.8,870.5 L1486.0,870.5 L1487.2,870.5 L1488.4,870.5 L1489.5,870.5 L1490.7,870.5 L1491.9,870.5 L1493.1,870.5 L1494.3,870.5 L1495.5,870.5 L1496.7,870.5 L1497.9,870.5 L1499.1,870.5 L1500.3,870.5 L1501.5,870.5 L1502.6,870.5 L1503.8,870.5 L1505.0,870.5 L1506.2,870.5 L1507.4,870.5 L1508.6,870.5 L1509.8,870.5 L1511.0,870.5 L1512.2,870.5 L1513.4,870.5 L1514.6,870.5 L1515.7,870.5 L1516.9,870.5 L1518.1,870.5 L1519.3,870.5 L1520.5,870.5 L1521.7,870.5 L1522.9,870.5 L1524.1,870.5 L1525.3,870.5 L1526.5,870.5 L1527.6,870.5 L1528.8,870.5 L1530.0,870.5 L1531.2,870.5 L1532.4,870.5 L1533.6,870.5 L1534.8,870.5 L1536.0,870.5 L1537.2,870.5 L1538.4,870.5 L1539.6,870.5 L1540.7,870.5 L1541.9,870.5 L1543.1,870.5 L1544.3,870.5 L1545.5,870.5 L1546.7,870.5 L1547.9,870.5 L1549.1,870.5 L1550.3,870.5 L1551.5,870.5 L1552.7,870.5 L1553.8,870.5 L1555.0,870.5 L1556.2,870.5 L1557.4,870.5 L1558.6,870.5 L1559.8,870.5 L1561.0,870.5 L1562.2,870.5 L1563.4,870.5 L1564.6,870.5 L1565.8,870.5 L1566.9,870.5 L1568.1,870.5 L1569.3,870.5 L1570.5,870.5 L1571.7,870.5 L1572.9,870.5 L1574.1,870.5 L1575.3,870.5 L1576.5,870.5 L1577.7,870.5 L1578.8,870.5 L1580.0,870.5 L1581.2,870.5 L1582.4,870.5 L1583.6,870.5 L1584.8,870.5 L1586.0,870.5 L1587.2,870.6 L1588.4,870.8 L1589.6,870.9 L1590.8,871.1 L1591.9,871.3 L1593.1,871.5 L1594.3,871.7 L1595.5,871.9 L1596.7,872.1 L1597.9,872.4 L1599.1,872.7 L1600.3,873.0 L1601.5,873.4 L1602.7,873.7 L1603.9,874.1 L1605.0,874.5 L1606.2,874.9 L1607.4,875.4 L1608.6,875.9 L1609.8,876.4 L1611.0,876.9 L1612.2,877.5 L1613.4,878.1 L1614.6,878.7 L1615.8,879.3 L1617.0,880.0 L1618.1,880.7 L1619.3,881.4 L1620.5,882.2 L1621.7,883.0 L1622.9,883.9 L1624.1,884.8 L1625.3,885.8 L1626.5,886.8 L1627.7,887.9 L1628.9,889.0 L1630.0,890.2 L1631.2,891.6 L1632.4,892.9 L1633.6,894.4 L1634.8,896.0 L1636.0,897.6 L1637.2,899.4 L1638.4,901.2 L1639.6,903.2 L1640.8,905.2 L1642.0,907.4 L1643.1,909.7 L1644.3,912.1 L1645.5,914.6 L1646.7,917.2 L1647.9,920.0 L1649.1,922.9 L1650.3,925.9 L1651.5,929.1 L1652.7,932.4 L1653.9,935.8 L1655.1,939.4 L1656.2,943.1 L1657.4,947.0 L1658.6,951.0 L1659.8,955.2 L1661.0,959.5 L1662.2,964.0 L1663.4,968.6 L1664.6,973.3 L1665.8,978.3 L1667.0,983.3 L1668.2,988.5 L1669.3,993.9 L1670.5,999.4 L1671.7,1005.1 L1672.9,1010.9 L1674.1,1016.8 L1675.3,1022.9 L1676.5,1029.2 L1677.7,1035.6 L1678.9,1042.1 L1680.1,1048.8 L1681.2,1055.6 L1682.4,1062.6 L1683.6,1069.6 L1684.8,1076.8 L1686.0,1084.2 L1687.2,1091.6 L1688.4,1099.2 L1689.6,1106.9 L1690.8,1114.7 L1692.0,1122.6 L1693.2,1130.6 L1694.3,1138.7 L1695.5,1146.9 L1696.7,1155.2 L1697.9,1163.6 L1699.1,1172.0 L1700.3,1180.5 L1701.5,1189.1 L1702.7,1197.7 L1703.9,1206.3 L1705.1,1215.0 L1706.3,1223.8 L1707.4,1232.5 L1708.6,1241.3 L1709.8,1250.0 L1711.0,1258.8 L1712.2,1267.6 L1713.4,1276.4 L1714.6,1285.1 L1715.8,1293.8 L1717.0,1302.5 L1718.2,1311.2 L1719.4,1319.8 L1720.5,1328.3 L1721.7,1336.8 L1722.9,1345.2 L1724.1,1353.5 L1725.3,1361.7 L1726.5,1369.8 L1727.7,1377.9 L1728.9,1385.8 L1730.1,1393.7 L1731.3,1401.4 L1732.4,1409.0 L1733.6,1416.5 L1734.8,1423.9 L1736.0,1431.2 L1737.2,1438.3 L1738.4,1445.3 L1739.6,1452.2 L1740.8,1458.9 L1742.0,1465.5 L1743.2,1472.0 L1744.4,1478.3 L1745.5,1484.5 L1746.7,1490.5 L1747.9,1496.4 L1749.1,1502.1 L1750.3,1507.7 L1751.5,1513.1 L1752.7,1518.4 L1753.9,1523.6 L1755.1,1528.5 L1756.3,1533.4 L1757.5,1538.1 L1758.6,1542.6 L1759.8,1547.0 L1761.0,1551.2 L1762.2,1555.3 L1763.4,1559.2 L1764.6,1563.0 L1765.8,1566.6 L1767.0,1570.1 L1768.2,1573.5 L1769.4,1576.7 L1770.6,1579.8 L1771.7,1582.7 L1772.9,1585.5 L1774.1,1588.2 L1775.3,1590.7 L1776.5,1593.1 L1777.7,1595.3 L1778.9,1597.5 L1780.1,1599.5 L1781.3,1601.3 L1782.5,1603.1 L1783.6,1604.7 L1784.8,1606.1 L1786.0,1607.5 L1787.2,1608.7 L1788.4,1609.8 L1789.6,1610.8 L1790.8,1611.6 L1792.0,1612.4 L1793.2,1613.0 L1794.4,1613.6 L1795.6,1614.0 L1796.7,1614.4 L1797.9,1614.7 L1799.1,1614.9 L1800.3,1615.1 L1801.5,1615.2 L1802.7,1615.3 L1803.9,1615.3 L1805.1,1615.3 L1806.3,1615.3 L1807.5,1615.3 L1808.7,1615.2 L1809.8,1615.1 L1811.0,1615.0 L1812.2,1614.9 L1813.4,1614.7 L1814.6,1614.5 L1815.8,1614.3 L1817.0,1614.1 L1818.2,1613.8 L1819.4,1613.5 L1820.6,1613.1 L1821.8,1612.7 L1822.9,1612.3 L1824.1,1611.7 L1825.3,1611.2 L1826.5,1610.6 L1827.7,1609.9 L1828.9,1609.1 L1830.1,1608.4 L1831.3,1607.5 L1832.5,1606.6 L1833.7,1605.7 L1834.8,1604.7 L1836.0,1603.7 L1837.2,1602.6 L1838.4,1601.5 L1839.6,1600.4 L1840.8,1599.3 L1842.0,1598.1 L1843.2,1596.9 L1844.4,1595.6 L1845.6,1594.4 L1846.8,1593.1 L1847.9,1591.8 L1849.1,1590.5 L1850.3,1589.2 L1851.5,1587.9 L1852.7,1586.5 L1853.9,1585.2 L1855.1,1583.8 L1856.3,1582.4 L1857.5,1581.0 L1858.7,1579.7 L1859.9,1578.3 L1861.0,1576.9 L1862.2,1575.4 L1863.4,1574.0 L1864.6,1572.6 L1865.8,1571.2 L1867.0,1569.7 L1868.2,1568.3 L1869.4,1566.9 L1870.6,1565.4 L1871.8,1564.0 L1873.0,1562.5 L1874.1,1561.0 L1875.3,1559.6 L1876.5,1558.1 L1877.7,1556.6 L1878.9,1555.1 L1880.1,1553.6 L1881.3,1552.1 L1882.5,1550.6 L1883.7,1549.1 L1884.9,1547.6 L1886.0,1546.1 L1887.2,1544.6 L1888.4,1543.0 L1889.6,1541.5 L1890.8,1539.9 L1892.0,1538.4 L1893.2,1536.8 L1894.4,1535.2 L1895.6,1533.7 L1896.8,1532.1 L1898.0,1530.5 L1899.1,1529.0 L1900.3,1527.4 L1901.5,1525.8 L1902.7,1524.3 L1903.9,1522.7 L1905.1,1521.1 L1906.3,1519.6 L1907.5,1518.0 L1908.7,1516.4 L1909.9,1514.9 L1911.1,1513.3 L1912.2,1511.8 L1913.4,1510.2 L1914.6,1508.7 L1915.8,1507.2 L1917.0,1505.6 L1918.2,1504.1 L1919.4,1502.6 L1920.6,1501.0 L1921.8,1499.5 L1923.0,1498.0 L1924.2,1496.5 L1925.3,1495.0 L1926.5,1493.5 L1927.7,1492.0 L1928.9,1490.5 L1930.1,1489.1 L1931.3,1487.6 L1932.5,1486.1 L1933.7,1484.7 L1934.9,1483.2 L1936.1,1481.8 L1937.2,1480.4 L1938.4,1479.0 L1939.6,1477.6 L1940.8,1476.2 L1942.0,1474.8 L1943.2,1473.4 L1944.4,1472.0 L1945.6,1470.7 L1946.8,1469.3 L1948.0,1468.0 L1949.2,1466.6 L1950.3,1465.3 L1951.5,1464.0 L1952.7,1462.7 L1953.9,1461.4 L1955.1,1460.1 L1956.3,1458.8 L1957.5,1457.5 L1958.7,1456.2 L1959.9,1455.0 L1961.1,1453.7 L1962.3,1452.5 L1963.4,1451.2 L1964.6,1450.0 L1965.8,1448.7 L1967.0,1447.5 L1968.2,1446.3 L1969.4,1445.0 L1970.6,1443.8 L1971.8,1442.6 L1973.0,1441.4 L1974.2,1440.2 L1975.4,1439.0 L1976.5,1437.8 L1977.7,1436.6 L1978.9,1435.4 L1980.1,1434.2 L1981.3,1433.0 L1982.5,1431.8 L1983.7,1430.6 L1984.9,1429.4 L1986.1,1428.2 L1987.3,1427.1 L1988.4,1425.9 L1989.6,1424.7 L1990.8,1423.5 L1992.0,1422.4 L1993.2,1421.2 L1994.4,1420.1 L1995.6,1418.9 L1996.8,1417.8 L1998.0,1416.6 L1999.2,1415.5 L2000.4,1414.3 L2001.5,1413.2 L2002.7,1412.1 L2003.9,1410.9 L2005.1,1409.8 L2006.3,1408.7 L2007.5,1407.6 L2008.7,1406.4 L2009.9,1405.3 L2011.1,1404.2 L2012.3,1403.1 L2013.5,1402.0 L2014.6,1400.9 L2015.8,1399.8 L2017.0,1398.7 L2018.2,1397.7 L2019.4,1396.6 L2020.6,1395.5 L2021.8,1394.4 L2023.0,1393.4 L2024.2,1392.3 L2025.4,1391.2 L2026.6,1390.2 L2027.7,1389.1 L2028.9,1388.1 L2030.1,1387.0 L2031.3,1386.0 L2032.5,1385.0 L2033.7,1383.9 L2034.9,1382.9 L2036.1,1381.9 L2037.3,1380.9 L2038.5,1379.9 L2039.7,1378.8 L2040.8,1377.8 L2042.0,1376.8 L2043.2,1375.8 L2044.4,1374.9 L2045.6,1373.9 L2046.8,1372.9 L2048.0,1371.9 L2049.2,1370.9 L2050.4,1370.0 L2051.6,1369.0 L2052.7,1368.1 L2053.9,1367.1 L2055.1,1366.2 L2056.3,1365.2 L2057.5,1364.3 L2058.7,1363.3 L2059.9,1362.4 L2061.1,1361.5 L2062.3,1360.6 L2063.5,1359.6 L2064.7,1358.7 L2065.8,1357.8 L2067.0,1356.9 L2068.2,1356.0 L2069.4,1355.1 L2070.6,1354.2 L2071.8,1353.3 L2073.0,1352.4 L2074.2,1351.5 L2075.4,1350.7 L2076.6,1349.8 L2077.8,1348.9 L2078.9,1348.1 L2080.1,1347.2 L2081.3,1346.3 L2082.5,1345.5 L2083.7,1344.6 L2084.9,1343.8 L2086.1,1343.0 L2087.3,1342.1 L2088.5,1341.3 L2089.7,1340.4 L2090.9,1339.6 L2092.0,1338.8 L2093.2,1338.0 L2094.4,1337.2 L2095.6,1336.4 L2096.8,1335.5 L2098.0,1334.7 L2099.2,1333.9 L2100.4,1333.1 L2101.6,1332.3 L2102.8,1331.6 L2103.9,1330.8 L2105.1,1330.0 L2106.3,1329.2 L2107.5,1328.4 L2108.7,1327.7 L2109.9,1326.9 L2111.1,1326.1 L2112.3,1325.4 L2113.5,1324.6 L2114.7,1323.9 L2115.9,1323.1 L2117.0,1322.4 L2118.2,1321.6 L2119.4,1320.9 L2120.6,1320.1 L2121.8,1319.4 L2123.0,1318.7 L2124.2,1318.0 L2125.4,1317.2 L2126.6,1316.5 L2127.8,1315.8 L2129.0,1315.1 L2130.1,1314.4 L2131.3,1313.7 L2132.5,1313.0 L2133.7,1312.2 L2134.9,1311.5 L2136.1,1310.9 L2137.3,1310.2 L2138.5,1309.5 L2139.7,1308.8 L2140.9,1308.1 L2142.1,1307.4 L2143.2,1306.7 L2144.4,1306.1 L2145.6,1305.4 L2146.8,1304.7 L2147.3,1304.5" stroke="#f00" stroke-dasharray="8.66 11.54"/>
<path d="M254.8,870.5 L256.0,870.5 L257.2,870.5 L258.4,870.5 L259.6,870.5 L260.7,870.5 L261.9,870.5 L263.1,870.5 L264.3,870.5 L265.5,870.5 L266.7,870.5 L267.9,870.5 L269.1,870.5 L270.3,870.5 L271.5,870.5 L272.7,870.5 L273.8,870.5 L275.0,870.5 L276.2,870.5 L277.4,870.5 L278.6,870.5 L279.8,870.5 L281.0,870.5 L282.2,870.5 L283.4,870.5 L284.6,870.5 L285.7,870.5 L286.9,870.5 L288.1,870.5 L289.3,870.5 L290.5,870.5 L291.7,870.5 L292.9,870.5 L294.1,870.5 L295.3,870.5 L296.5,870.5 L297.7,870.5 L298.8,870.5 L300.0,870.5 L301.2,870.5 L302.4,870.5 L303.6,870.5 L304.8,870.5 L306.0,870.5 L307.2,870.5 L308.4,870.5 L309.6,870.5 L310.8,870.5 L311.9,870.5 L313.1,870.5 L314.3,870.5 L315.5,870.5 L316.7,870.5 L317.9,870.5 L319.1,870.5 L320.3,870.5 L321.5,870.5 L322.7,870.5 L323.9,870.5 L325.0,870.5 L326.2,870.5 L327.4,870.5 L328.6,870.5 L329.8,870.5 L331.0,870.5 L332.2,870.5 L333.4,870.5 L334.6,870.5 L335.8,870.5 L336.9,870.5 L338.1,870.5 L339.3,870.5 L340.5,870.5 L341.7,870.5 L342.9,870.5 L344.1,870.5 L345.3,870.5 L346.5,870.5 L347.7,870.5 L348.9,870.5 L350.0,870.5 L351.2,870.5 L352.4,870.5 L353.6,870.5 L354.8,870.5 L356.0,870.5 L357.2,870.5 L358.4,870.5 L359.6,870.5 L360.8,870.5 L362.0,870.5 L363.1,870.5 L364.3,870.5 L365.5,870.5 L366.7,870.5 L367.9,870.5 L369.1,870.5 L370.3,870.5 L371.5,870.5 L372.7,870.5 L373.9,870.5 L375.1,870.5 L376.2,870.5 L377.4,870.5 L378.6,870.5 L379.8,870.5 L381.0,870.5 L382.2,870.5 L383.4,870.5 L384.6,870.5 L385.8,870.5 L387.0,870.5 L388.1,870.5 L389.3,870.5 L390.5,870.5 L391.7,870.5 L392.9,870.5 L394.1,870.5 L395.3,870.5 L396.5,870.4 L397.7,870.2 L398.9,870.1 L400.1,869.9 L401.2,869.7 L402.4,869.5 L403.6,869.3 L404.8,869.1 L406.0,868.9 L407.2,868.6 L408.4,868.3 L409.6,868.0 L410.8,867.6 L412.0,867.3 L413.2,866.9 L414.3,866.5 L415.5,866.1 L416.7,865.6 L417.9,865.1 L419.1,864.6 L420.3,864.1 L421.5,863.5 L422.7,862.9 L423.9,862.3 L425.1,861.7 L426.3,861.0 L427.4,860.3 L428.6,859.6 L429.8,858.8 L431.0,858.0 L432.2,857.1 L433.4,856.2 L434.6,855.2 L435.8,854.2 L437.0,853.1 L438.2,852.0 L439.3,850.8 L440.5,849.4 L441.7,848.1 L442.9,846.6 L444.1,845.0 L445.3,843.4 L446.5,841.6 L447.7,839.8 L448.9,837.8 L450.1,835.8 L451.3,833.6 L452.4,831.3 L453.6,828.9 L454.8,826.4 L456.0,823.8 L457.2,821.0 L458.4,818.1 L459.6,815.1 L460.8,811.9 L462.0,808.6 L463.2,805.2 L464.4,801.6 L465.5,797.9 L466.7,794.0 L467.9,790.0 L469.1,785.8 L470.3,781.5 L471.5,777.0 L472.7,772.4 L473.9,767.7 L475.1,762.7 L476.3,757.7 L477.5,752.5 L478.6,747.1 L479.8,741.6 L481.0,735.9 L482.2,730.1 L483.4,724.2 L484.6,718.1 L485.8,711.8 L487.0,705.4 L488.2,698.9 L489.4,692.2 L490.5,685.4 L491.7,678.4 L492.9,671.4 L494.1,664.2 L495.3,656.8 L496.5,649.4 L497.7,641.8 L498.9,634.1 L500.1,626.3 L501.3,618.4 L502.5,610.4 L503.6,602.3 L504.8,594.1 L506.0,585.8 L507.2,577.4 L508.4,569.0 L509.6,560.5 L510.8,551.9 L512.0,543.3 L513.2,534.7 L514.4,526.0 L515.6,517.2 L516.7,508.5 L517.9,499.7 L519.1,491.0 L520.3,482.2 L521.5,473.4 L522.7,464.6 L523.9,455.9 L525.1,447.2 L526.3,438.5 L527.5,429.8 L528.7,421.2 L529.8,412.7 L531.0,404.2 L532.2,395.8 L533.4,387.5 L534.6,379.3 L535.8,371.2 L537.0,363.1 L538.2,355.2 L539.4,347.3 L540.6,339.6 L541.7,332.0 L542.9,324.5 L544.1,317.1 L545.3,309.8 L546.5,302.7 L547.7,295.7 L548.9,288.8 L550.1,282.1 L551.3,275.5 L552.5,269.0 L553.7,262.7 L554.8,256.5 L556.0,250.5 L557.2,244.6 L558.4,238.9 L559.6,233.3 L560.8,227.9 L562.0,222.6 L563.2,217.4 L564.4,212.5 L565.6,207.6 L566.8,202.9 L567.9,198.4 L569.1,194.0 L570.3,189.8 L571.5,185.7 L572.7,181.8 L573.9,178.0 L575.1,174.4 L576.3,170.9 L577.5,167.5 L578.7,164.3 L579.9,161.2 L581.0,158.3 L582.2,155.5 L583.4,152.8 L584.6,150.3 L585.8,147.9 L587.0,145.7 L588.2,143.5 L589.4,141.5 L590.6,139.7 L591.8,137.9 L592.9,136.3 L594.1,134.9 L595.3,133.5 L596.5,132.3 L597.7,131.2 L598.9,130.2 L600.1,129.4 L601.3,128.6 L602.5,128.0 L603.7,127.4 L604.9,127.0 L606.0,126.6 L607.2,126.3 L608.4,126.1 L609.6,125.9 L610.8,125.8 L612.0,125.7 L613.2,125.7 L614.4,125.7 L615.6,125.7 L616.8,125.7 L618.0,125.8 L619.1,125.9 L620.3,126.0 L621.5,126.1 L622.7,126.3 L623.9,126.5 L625.1,126.7 L626.3,126.9 L627.5,127.2 L628.7,127.5 L629.9,127.9 L631.1,128.3 L632.2,128.7 L633.4,129.3 L634.6,129.8 L635.8,130.4 L637.0,131.1 L638.2,131.9 L639.4,132.6 L640.6,133.5 L641.8,134.4 L643.0,135.3 L644.1,136.3 L645.3,137.3 L646.5,138.4 L647.7,139.5 L648.9,140.6 L650.1,141.7 L651.3,142.9 L652.5,144.1 L653.7,145.4 L654.9,146.6 L656.1,147.9 L657.2,149.2 L658.4,150.5 L659.6,151.8 L660.8,153.1 L662.0,154.5 L663.2,155.8 L664.4,157.2 L665.6,158.6 L666.8,160.0 L668.0,161.3 L669.2,162.7 L670.3,164.1 L671.5,165.6 L672.7,167.0 L673.9,168.4 L675.1,169.8 L676.3,171.3 L677.5,172.7 L678.7,174.1 L679.9,175.6 L681.1,177.0 L682.3,178.5 L683.4,180.0 L684.6,181.4 L685.8,182.9 L687.0,184.4 L688.2,185.9 L689.4,187.4 L690.6,188.9 L691.8,190.4 L693.0,191.9 L694.2,193.4 L695.3,194.9 L696.5,196.4 L697.7,198.0 L698.9,199.5 L700.1,201.1 L701.3,202.6 L702.5,204.2 L703.7,205.8 L704.9,207.3 L706.1,208.9 L707.3,210.5 L708.4,212.0 L709.6,213.6 L710.8,215.2 L712.0,216.7 L713.2,218.3 L714.4,219.9 L715.6,221.4 L716.8,223.0 L718.0,224.6 L719.2,226.1 L720.4,227.7 L721.5,229.2 L722.7,230.8 L723.9,232.3 L725.1,233.8 L726.3,235.4 L727.5,236.9 L728.7,238.4 L729.9,240.0 L731.1,241.5 L732.3,243.0 L733.5,244.5 L734.6,246.0 L735.8,247.5 L737.0,249.0 L738.2,250.5 L739.4,251.9 L740.6,253.4 L741.8,254.9 L743.0,256.3 L744.2,257.8 L745.4,259.2 L746.5,260.6 L747.7,262.0 L748.9,263.4 L750.1,264.8 L751.3,266.2 L752.5,267.6 L753.7,269.0 L754.9,270.3 L756.1,271.7 L757.3,273.0 L758.5,274.4 L759.6,275.7 L760.8,277.0 L762.0,278.3 L763.2,279.6 L764.4,280.9 L765.6,282.2 L766.8,283.5 L768.0,284.8 L769.2,286.0 L770.4,287.3 L771.6,288.5 L772.7,289.8 L773.9,291.0 L775.1,292.3 L776.3,293.5 L777.5,294.7 L778.7,296.0 L779.9,297.2 L781.1,298.4 L782.3,299.6 L783.5,300.8 L784.7,302.0 L785.8,303.2 L787.0,304.4 L788.2,305.6 L789.4,306.8 L790.6,308.0 L791.8,309.2 L793.0,310.4 L794.2,311.6 L795.4,312.8 L796.6,313.9 L797.7,315.1 L798.9,316.3 L800.1,317.5 L801.3,318.6 L802.5,319.8 L803.7,320.9 L804.9,322.1 L806.1,323.2 L807.3,324.4 L808.5,325.5 L809.7,326.7 L810.8,327.8 L812.0,328.9 L813.2,330.1 L814.4,331.2 L815.6,332.3 L816.8,333.4 L818.0,334.6 L819.2,335.7 L820.4,336.8 L821.6,337.9 L822.8,339.0 L823.9,340.1 L825.1,341.2 L826.3,342.3 L827.5,343.3 L828.7,344.4 L829.9,345.5 L831.1,346.6 L832.3,347.6 L833.5,348.7 L834.7,349.8 L835.9,350.8 L837.0,351.9 L838.2,352.9 L839.4,354.0 L840.6,355.0 L841.8,356.0 L843.0,357.1 L844.2,358.1 L845.4,359.1 L846.6,360.1 L847.8,361.1 L849.0,362.2 L850.1,363.2 L851.3,364.2 L852.5,365.2 L853.7,366.1 L854.9,367.1 L856.1,368.1 L857.3,369.1 L858.5,370.1 L859.7,371.0 L860.9,372.0 L862.0,372.9 L863.2,373.9 L864.4,374.8 L865.6,375.8 L866.8,376.7 L868.0,377.7 L869.2,378.6 L870.4,379.5 L871.6,380.4 L872.8,381.4 L874.0,382.3 L875.1,383.2 L876.3,384.1 L877.5,385.0 L878.7,385.9 L879.9,386.8 L881.1,387.7 L882.3,388.6 L883.5,389.5 L884.7,390.3 L885.9,391.2 L887.1,392.1 L888.2,392.9 L889.4,393.8 L890.6,394.7 L891.8,395.5 L893.0,396.4 L894.2,397.2 L895.4,398.0 L896.6,398.9 L897.8,399.7 L899.0,400.6 L900.2,401.4 L901.3,402.2 L902.5,403.0 L903.7,403.8 L904.9,404.6 L906.1,405.5 L907.3,406.3 L908.5,407.1 L909.7,407.9 L910.9,408.7 L912.1,409.4 L913.2,410.2 L914.4,411.0 L915.6,411.8 L916.8,412.6 L918.0,413.3 L919.2,414.1 L920.4,414.9 L921.6,415.6 L922.8,416.4 L924.0,417.1 L925.2,417.9 L926.3,418.6 L927.5,419.4 L928.7,420.1 L929.9,420.9 L931.1,421.6 L932.3,422.3 L933.5,423.0 L934.7,423.8 L935.9,424.5 L937.1,425.2 L938.3,425.9 L939.4,426.6 L940.6,427.3 L941.8,428.0 L943.0,428.8 L944.2,429.5 L945.4,430.1 L946.6,430.8 L947.8,431.5 L949.0,432.2 L950.2,432.9 L951.4,433.6 L952.5,434.3 L953.7,434.9 L954.9,435.6 L956.1,436.3 L957.3,436.9 L958.5,437.6 L959.7,438.3 L960.9,438.9 L962.1,439.6 L963.3,440.2 L964.4,440.9 L965.6,441.5 L966.8,442.2 L968.0,442.8 L969.2,443.4 L970.4,444.1 L971.6,444.7 L972.8,445.3 L974.0,446.0 L975.2,446.6 L976.4,447.2 L977.5,447.8 L978.7,448.5 L979.9,449.1 L981.1,449.7 L982.3,450.3 L983.5,450.9 L984.7,451.5 L985.9,452.1 L987.1,452.7 L988.3,453.3 L989.5,453.9 L990.6,454.5 L991.8,455.1 L993.0,455.7 L994.2,456.2 L995.4,456.8 L996.6,457.4 L997.8,458.0 L999.0,458.5 L1000.2,459.1 L1001.4,459.7 L1002.6,460.3 L1003.7,460.8 L1004.9,461.4 L1006.1,461.9 L1007.3,462.5 L1008.5,463.1 L1009.7,463.6 L1010.9,464.2 L1012.1,464.7 L1013.3,465.2 L1014.5,465.8 L1015.6,466.3 L1016.8,466.9 L1018.0,467.4 L1019.2,467.9 L1020.4,468.5 L1021.6,469.0 L1022.8,469.5 L1024.0,470.1 L1025.2,470.6 L1026.4,471.1 L1027.6,471.6 L1028.7,472.1 L1029.9,472.6 L1031.1,473.2 L1032.3,473.7 L1033.5,474.2 L1034.7,474.7 L1035.9,475.2 L1037.1,475.7 L1038.3,476.2 L1039.5,476.7 L1040.7,477.2 L1041.8,477.7 L1043.0,478.1 L1044.2,478.6 L1045.4,479.1 L1046.6,479.6 L1047.8,480.1 L1049.0,480.6 L1050.2,481.0 L1051.4,481.5 L1052.6,482.0 L1053.8,482.5 L1054.9,482.9 L1056.1,483.4 L1057.3,483.9 L1058.5,484.3 L1059.7,484.8 L1060.9,485.2 L1062.1,485.7 L1063.3,486.2 L1064.5,486.6 L1065.7,487.1 L1066.8,487.5 L1068.0,488.0 L1069.2,488.4 L1070.4,488.9 L1071.6,489.3 L1072.8,489.7 L1074.0,490.2 L1075.2,490.6 L1076.4,491.0 L1077.6,491.5 L1078.8,491.9 L1079.9,492.3 L1081.1,492.8 L1082.3,493.2 L1083.5,493.6 L1084.7,494.0 L1085.9,494.5 L1087.1,494.9 L1088.3,495.3 L1089.5,495.7 L1090.7,496.1 L1091.9,496.5 L1093.0,496.9 L1094.2,497.3 L1095.4,497.7 L1096.6,498.2 L1097.8,498.6 L1099.0,499.0 L1100.2,499.4 L1101.4,499.8 L1102.6,500.1 L1103.8,500.5 L1105.0,500.9 L1106.1,501.3 L1107.3,501.7 L1108.5,502.1 L1109.7,502.5 L1110.9,502.9 L1112.1,503.3 L1113.3,503.6 L1114.5,504.0 L1115.7,504.4 L1116.9,504.8 L1118.0,505.2 L1119.2,505.5 L1120.4,505.9 L1121.6,506.3 L1122.8,506.7 L1124.0,507.0 L1125.2,507.4 L1126.4,507.8 L1127.6,508.1 L1128.8,508.5 L1130.0,508.9 L1131.1,509.2 L1132.3,509.6 L1133.5,509.9 L1134.7,510.3 L1135.9,510.7 L1137.1,511.0 L1138.3,511.4 L1139.5,511.7 L1140.7,512.1 L1141.9,512.4 L1143.1,512.8 L1144.2,513.1 L1145.4,513.5 L1146.6,513.8 L1147.8,514.2 L1149.0,514.5 L1150.2,514.9 L1151.4,515.2 L1152.6,515.6 L1153.8,515.9 L1155.0,516.3 L1156.2,516.6 L1157.3,517.0 L1158.5,517.3 L1159.7,517.6 L1160.9,518.0 L1162.1,518.3 L1163.3,518.6 L1164.5,519.0 L1165.7,519.3 L1166.9,519.6 L1168.1,520.0 L1169.2,520.3 L1170.4,520.6 L1171.6,521.0 L1172.8,521.3 L1174.0,521.6 L1175.2,522.0 L1176.4,522.3 L1177.6,522.6 L1178.8,522.9 L1180.0,523.3 L1181.2,523.6 L1182.3,523.9 L1183.5,524.2 L1184.7,524.6 L1185.9,524.9 L1187.1,525.2 L1188.3,525.5 L1189.5,525.8 L1190.7,526.1 L1191.9,526.5 L1193.1,526.8 L1194.3,527.1 L1195.4,527.4 L1196.6,527.7 L1197.8,528.0 L1199.0,528.3 L1200.2,528.6 L1201.4,529.0 L1202.6,529.3 L1203.8,529.6 L1205.0,529.9 L1206.2,530.2 L1207.4,530.5 L1208.5,530.8 L1209.7,531.1 L1210.9,531.4 L1212.1,531.7 L1213.3,532.0 L1214.5,532.3 L1215.7,532.6 L1216.9,532.9 L1218.1,533.2 L1219.3,533.5 L1220.4,533.8 L1221.6,534.1 L1222.8,534.4 L1224.0,534.7 L1225.2,535.0 L1226.4,535.3 L1227.6,535.6 L1228.8,535.8 L1230.0,536.1 L1231.2,536.4 L1232.4,536.7 L1233.5,537.0 L1234.7,537.3 L1235.9,537.6 L1237.1,537.9 L1238.3,538.1 L1239.5,538.4 L1240.7,538.7 L1241.9,539.0 L1243.1,539.3 L1244.3,539.6 L1245.5,539.8 L1246.6,540.1 L1247.8,540.4 L1249.0,540.7 L1250.2,541.0 L1251.4,541.2 L1252.6,541.5 L1253.8,541.8 L1255.0,542.1 L1256.2,542.3 L1257.4,542.6 L1258.6,542.9 L1259.7,543.2 L1260.9,543.4 L1262.1,543.7 L1263.3,544.0 L1264.5,544.2 L1265.7,544.5 L1266.9,544.8 L1268.1,545.0 L1269.3,545.3 L1270.5,545.6 L1271.6,545.8 L1272.8,546.1 L1274.0,546.4 L1275.2,546.6 L1276.4,546.9 L1277.6,547.2 L1278.8,547.4 L1280.0,547.7 L1281.2,547.9 L1282.4,548.2 L1283.6,548.5 L1284.7,548.7 L1285.9,549.0 L1287.1,549.2 L1288.3,549.5 L1289.5,549.8 L1290.7,550.0 L1291.9,550.3 L1293.1,550.5 L1294.3,550.8 L1295.5,551.0 L1296.7,551.3 L1297.8,551.5 L1299.0,551.8 L1300.2,552.0 L1301.4,552.3 L1302.6,552.5 L1303.8,552.8 L1305.0,553.0 L1306.2,553.3 L1307.4,553.5 L1308.6,553.8 L1309.8,554.0 L1310.9,554.3 L1312.1,554.5 L1313.3,554.7 L1314.5,555.0 L1315.7,555.2 L1316.9,555.5 L1318.1,555.7 L1319.3,556.0 L1320.5,556.2 L1321.7,556.4 L1322.8,556.7 L1324.0,556.9 L1325.2,557.2 L1326.4,557.4 L1327.6,557.6 L1328.8,557.9 L1330.0,558.1 L1331.2,558.3 L1332.4,558.6 L1333.6,558.8 L1334.8,559.0 L1335.9,559.3 L1337.1,559.5 L1338.3,559.7 L1339.5,560.0 L1340.7,560.2 L1341.9,560.4 L1343.1,560.7 L1344.3,560.9 L1345.5,561.1 L1346.7,561.4 L1347.9,561.6 L1349.0,561.8 L1350.2,562.0 L1351.4,562.3 L1352.6,562.5 L1353.8,562.7 L1355.0,562.9 L1356.2,563.2 L1357.4,563.4 L1358.6,563.6 L1359.8,563.8 L1361.0,564.1 L1362.1,564.3 L1363.3,564.5 L1364.5,564.7 L1365.7,565.0 L1366.9,565.2 L1368.1,565.4 L1369.3,565.6 L1370.5,565.8 L1371.7,566.1 L1372.9,566.3 L1374.0,566.5 L1375.2,566.7 L1376.4,566.9 L1377.6,567.1 L1378.8,567.4 L1380.0,567.6 L1381.2,567.8 L1382.4,568.0 L1383.6,568.2 L1384.8,568.4 L1386.0,568.6 L1387.1,568.9 L1388.3,569.1 L1389.5,569.3 L1390.7,569.5 L1391.9,569.7 L1393.1,569.9 L1394.3,570.1 L1395.5,570.3 L1396.7,570.5 L1397.9,570.7 L1399.1,571.0 L1400.2,571.2 L1401.4,571.4 L1402.6,571.6 L1403.8,571.8 L1405.0,572.0 L1406.2,572.2 L1407.4,572.4 L1408.6,572.6 L1409.8,572.8 L1411.0,573.0 L1412.2,573.2 L1413.3,573.4 L1414.5,573.6 L1415.7,573.8 L1416.9,574.0 L1418.1,574.2 L1419.3,574.4 L1420.5,574.6 L1421.7,574.8 L1422.9,575.0 L1424.1,575.2 L1425.2,575.4 L1426.4,575.6 L1427.6,575.8 L1428.8,576.0 L1430.0,576.2 L1431.2,576.4 L1432.4,576.6 L1433.6,576.8 L1434.8,577.0 L1436.0,577.2 L1437.2,577.4 L1438.3,577.6 L1439.5,577.8 L1440.7,578.0 L1441.9,578.2 L1443.1,578.3 L1444.3,578.5 L1445.5,578.7 L1446.7,578.9 L1447.9,579.1 L1449.1,579.3 L1450.3,579.5 L1451.4,579.7 L1452.6,579.9 L1453.8,580.1 L1455.0,580.2 L1456.2,580.4 L1457.4,580.6 L1458.6,580.8 L1459.8,581.0 L1461.0,581.2 L1462.2,581.4 L1463.4,581.6 L1464.5,581.7 L1465.7,581.9 L1466.9,582.1 L1468.1,582.3 L1469.3,582.5 L1470.5,582.7 L1471.7,582.8 L1472.9,583.0 L1474.1,583.2 L1475.3,583.4 L1476.4,583.6 L1477.6,583.8 L1478.8,583.9 L1480.0,584.1 L1481.2,584.3 L1482.4,584.5 L1483.6,584.7 L1484.8,584.8 L1486.0,585.0 L1487.2,585.2 L1488.4,585.4 L1489.5,585.5 L1490.7,585.7 L1491.9,585.9 L1493.1,586.1 L1494.3,586.3 L1495.5,586.4 L1496.7,586.6 L1497.9,586.8 L1499.1,587.0 L1500.3,587.1 L1501.5,587.3 L1502.6,587.5 L1503.8,587.7 L1505.0,587.8 L1506.2,588.0 L1507.4,588.2 L1508.6,588.3 L1509.8,588.5 L1511.0,588.7 L1512.2,588.9 L1513.4,589.0 L1514.6,589.2 L1515.7,589.4 L1516.9,589.5 L1518.1,589.7 L1519.3,589.9 L1520.5,590.0 L1521.7,590.2 L1522.9,590.4 L1524.1,590.5 L1525.3,590.7 L1526.5,590.9 L1527.6,591.0 L1528.8,591.2 L1530.0,591.4 L1531.2,591.5 L1532.4,591.7 L1533.6,591.9 L1534.8,592.0 L1536.0,592.2 L1537.2,592.4 L1538.4,592.5 L1539.6,592.7 L1540.7,592.8 L1541.9,593.0 L1543.1,593.2 L1544.3,593.3 L1545.5,593.5 L1546.7,593.7 L1547.9,593.8 L1549.1,594.0 L1550.3,594.1 L1551.5,594.3 L1552.7,594.5 L1553.8,594.6 L1555.0,594.8 L1556.2,594.9 L1557.4,595.1 L1558.6,595.3 L1559.8,595.4 L1561.0,595.6 L1562.2,595.7 L1563.4,595.9 L1564.6,596.0 L1565.8,596.2 L1566.9,596.3 L1568.1,596.5 L1569.3,596.7 L1570.5,596.8 L1571.7,597.0 L1572.9,597.1 L1574.1,597.3 L1575.3,597.4 L1576.5,597.6 L1577.7,597.7 L1578.8,597.9 L1580.0,598.0 L1581.2,598.2 L1582.4,598.3 L1583.6,598.5 L1584.8,598.6 L1586.0,598.8 L1587.2,598.9 L1588.4,599.1 L1589.6,599.2 L1590.8,599.4 L1591.9,599.5 L1593.1,599.7 L1594.3,599.8 L1595.5,600.0 L1596.7,600.1 L1597.9,600.3 L1599.1,600.4 L1600.3,600.6 L1601.5,600.7 L1602.7,600.9 L1603.9,601.0 L1605.0,601.2 L1606.2,601.3 L1607.4,601.5 L1608.6,601.6 L1609.8,601.8 L1611.0,601.9 L1612.2,602.0 L1613.4,602.2 L1614.6,602.3 L1615.8,602.5 L1617.0,602.6 L1618.1,602.8 L1619.3,602.9 L1620.5,603.0 L1621.7,603.2 L1622.9,603.3 L1624.1,603.5 L1625.3,603.6 L1626.5,603.8 L1627.7,603.9 L1628.9,604.0 L1630.0,604.2 L1631.2,604.3 L1632.4,604.5 L1633.6,604.6 L1634.8,604.7 L1636.0,604.9 L1637.2,605.0 L1638.4,605.2 L1639.6,605.3 L1640.8,605.4 L1642.0,605.6 L1643.1,605.7 L1644.3,605.8 L1645.5,606.0 L1646.7,606.1 L1647.9,606.3 L1649.1,606.4 L1650.3,606.5 L1651.5,606.7 L1652.7,606.8 L1653.9,606.9 L1655.1,607.1 L1656.2,607.2 L1657.4,607.3 L1658.6,607.5 L1659.8,607.6 L1661.0,607.7 L1662.2,607.9 L1663.4,608.0 L1664.6,608.1 L1665.8,608.3 L1667.0,608.4 L1668.2,608.5 L1669.3,608.7 L1670.5,608.8 L1671.7,608.9 L1672.9,609.1 L1674.1,609.2 L1675.3,609.3 L1676.5,609.5 L1677.7,609.6 L1678.9,609.7 L1680.1,609.9 L1681.2,610.0 L1682.4,610.1 L1683.6,610.2 L1684.8,610.4 L1686.0,610.5 L1687.2,610.6 L1688.4,610.8 L1689.6,610.9 L1690.8,611.0 L1692.0,611.2 L1693.2,611.3 L1694.3,611.4 L1695.5,611.5 L1696.7,611.7 L1697.9,611.8 L1699.1,611.9 L1700.3,612.0 L1701.5,612.2 L1702.7,612.3 L1703.9,612.4 L1705.1,612.5 L1706.3,612.7 L1707.4,612.8 L1708.6,612.9 L1709.8,613.1 L1711.0,613.2 L1712.2,613.3 L1713.4,613.4 L1714.6,613.6 L1715.8,613.7 L1717.0,613.8 L1718.2,613.9 L1719.4,614.0 L1720.5,614.2 L1721.7,614.3 L1722.9,614.4 L1724.1,614.5 L1725.3,614.7 L1726.5,614.8 L1727.7,614.9 L1728.9,615.0 L1730.1,615.2 L1731.3,615.3 L1732.4,615.4 L1733.6,615.5 L1734.8,615.6 L1736.0,615.8 L1737.2,615.9 L1738.4,616.0 L1739.6,616.1 L1740.8,616.2 L1742.0,616.4 L1743.2,616.5 L1744.4,616.6 L1745.5,616.7 L1746.7,616.8 L1747.9,617.0 L1749.1,617.1 L1750.3,617.2 L1751.5,617.3 L1752.7,617.4 L1753.9,617.6 L1755.1,617.7 L1756.3,617.8 L1757.5,617.9 L1758.6,618.0 L1759.8,618.1 L1761.0,618.3 L1762.2,618.4 L1763.4,618.5 L1764.6,618.6 L1765.8,618.7 L1767.0,618.8 L1768.2,619.0 L1769.4,619.1 L1770.6,619.2 L1771.7,619.3 L1772.9,619.4 L1774.1,619.5 L1775.3,619.7 L1776.5,619.8 L1777.7,619.9 L1778.9,620.0 L1780.1,620.1 L1781.3,620.2 L1782.5,620.3 L1783.6,620.5 L1784.8,620.6 L1786.0,620.7 L1787.2,620.8 L1788.4,620.9 L1789.6,621.0 L1790.8,621.1 L1792.0,621.3 L1793.2,621.4 L1794.4,621.5 L1795.6,621.6 L1796.7,621.7 L1797.9,621.8 L1799.1,621.9 L1800.3,622.0 L1801.5,622.2 L1802.7,622.3 L1803.9,622.4 L1805.1,622.5 L1806.3,622.6 L1807.5,622.7 L1808.7,622.8 L1809.8,622.9 L1811.0,623.0 L1812.2,623.1 L1813.4,623.3 L1814.6,623.4 L1815.8,623.5 L1817.0,623.6 L1818.2,623.7 L1819.4,623.8 L1820.6,623.9 L1821.8,624.0 L1822.9,624.1 L1824.1,624.2 L1825.3,624.4 L1826.5,624.5 L1827.7,624.6 L1828.9,624.7 L1830.1,624.8 L1831.3,624.9 L1832.5,625.0 L1833.7,625.1 L1834.8,625.2 L1836.0,625.3 L1837.2,625.4 L1838.4,625.5 L1839.6,625.6 L1840.8,625.8 L1842.0,625.9 L1843.2,626.0 L1844.4,626.1 L1845.6,626.2 L1846.8,626.3 L1847.9,626.4 L1849.1,626.5 L1850.3,626.6 L1851.5,626.7 L1852.7,626.8 L1853.9,626.9 L1855.1,627.0 L1856.3,627.1 L1857.5,627.2 L1858.7,627.3 L1859.9,627.4 L1861.0,627.6 L1862.2,627.7 L1863.4,627.8 L1864.6,627.9 L1865.8,628.0 L1867.0,628.1 L1868.2,628.2 L1869.4,628.3 L1870.6,628.4 L1871.8,628.5 L1873.0,628.6 L1874.1,628.7 L1875.3,628.8 L1876.5,628.9 L1877.7,629.0 L1878.9,629.1 L1880.1,629.2 L1881.3,629.3 L1882.5,629.4 L1883.7,629.5 L1884.9,629.6 L1886.0,629.7 L1887.2,629.8 L1888.4,629.9 L1889.6,630.0 L1890.8,630.1 L1892.0,630.2 L1893.2,630.3 L1894.4,630.4 L1895.6,630.5 L1896.8,630.6 L1898.0,630.7 L1899.1,630.8 L1900.3,630.9 L1901.5,631.0 L1902.7,631.1 L1903.9,631.2 L1905.1,631.3 L1906.3,631.4 L1907.5,631.5 L1908.7,631.6 L1909.9,631.7 L1911.1,631.8 L1912.2,631.9 L1913.4,632.0 L1914.6,632.1 L1915.8,632.2 L1917.0,632.3 L1918.2,632.4 L1919.4,632.5 L1920.6,632.6 L1921.8,632.7 L1923.0,632.8 L1924.2,632.9 L1925.3,633.0 L1926.5,633.1 L1927.7,633.2 L1928.9,633.3 L1930.1,633.4 L1931.3,633.5 L1932.5,633.6 L1933.7,633.7 L1934.9,633.8 L1936.1,633.9 L1937.2,634.0 L1938.4,634.1 L1939.6,634.2 L1940.8,634.3 L1942.0,634.4 L1943.2,634.5 L1944.4,634.6 L1945.6,634.6 L1946.8,634.7 L1948.0,634.8 L1949.2,634.9 L1950.3,635.0 L1951.5,635.1 L1952.7,635.2 L1953.9,635.3 L1955.1,635.4 L1956.3,635.5 L1957.5,635.6 L1958.7,635.7 L1959.9,635.8 L1961.1,635.9 L1962.3,636.0 L1963.4,636.1 L1964.6,636.2 L1965.8,636.3 L1967.0,636.4 L1968.2,636.4 L1969.4,636.5 L1970.6,636.6 L1971.8,636.7 L1973.0,636.8 L1974.2,636.9 L1975.4,637.0 L1976.5,637.1 L1977.7,637.2 L1978.9,637.3 L1980.1,637.4 L1981.3,637.5 L1982.5,637.6 L1983.7,637.6 L1984.9,637.7 L1986.1,637.8 L1987.3,637.9 L1988.4,638.0 L1989.6,638.1 L1990.8,638.2 L1992.0,638.3 L1993.2,638.4 L1994.4,638.5 L1995.6,638.6 L1996.8,638.6 L1998.0,638.7 L1999.2,638.8 L2000.4,638.9 L2001.5,639.0 L2002.7,639.1 L2003.9,639.2 L2005.1,639.3 L2006.3,639.4 L2007.5,639.5 L2008.7,639.5 L2009.9,639.6 L2011.1,639.7 L2012.3,639.8 L2013.5,639.9 L2014.6,640.0 L2015.8,640.1 L2017.0,640.2 L2018.2,640.3 L2019.4,640.3 L2020.6,640.4 L2021.8,640.5 L2023.0,640.6 L2024.2,640.7 L2025.4,640.8 L2026.6,640.9 L2027.7,641.0 L2028.9,641.0 L2030.1,641.1 L2031.3,641.2 L2032.5,641.3 L2033.7,641.4 L2034.9,641.5 L2036.1,641.6 L2037.3,641.6 L2038.5,641.7 L2039.7,641.8 L2040.8,641.9 L2042.0,642.0 L2043.2,642.1 L2044.4,642.2 L2045.6,642.2 L2046.8,642.3 L2048.0,642.4 L2049.2,642.5 L2050.4,642.6 L2051.6,642.7 L2052.7,642.8 L2053.9,642.8 L2055.1,642.9 L2056.3,643.0 L2057.5,643.1 L2058.7,643.2 L2059.9,643.3 L2061.1,643.3 L2062.3,643.4 L2063.5,643.5 L2064.7,643.6 L2065.8,643.7 L2067.0,643.8 L2068.2,643.8 L2069.4,643.9 L2070.6,644.0 L2071.8,644.1 L2073.0,644.2 L2074.2,644.2 L2075.4,644.3 L2076.6,644.4 L2077.8,644.5 L2078.9,644.6 L2080.1,644.7 L2081.3,644.7 L2082.5,644.8 L2083.7,644.9 L2084.9,645.0 L2086.1,645.1 L2087.3,645.1 L2088.5,645.2 L2089.7,645.3 L2090.9,645.4 L2092.0,645.5 L2093.2,645.5 L2094.4,645.6 L2095.6,645.7 L2096.8,645.8 L2098.0,645.9 L2099.2,645.9 L2100.4,646.0 L2101.6,646.1 L2102.8,646.2 L2103.9,646.3 L2105.1,646.3 L2106.3,646.4 L2107.5,646.5 L2108.7,646.6 L2109.9,646.6 L2111.1,646.7 L2112.3,646.8 L2113.5,646.9 L2114.7,647.0 L2115.9,647.0 L2117.0,647.1 L2118.2,647.2 L2119.4,647.3 L2120.6,647.3 L2121.8,647.4 L2123.0,647.5 L2124.2,647.6 L2125.4,647.6 L2126.6,647.7 L2127.8,647.8 L2129.0,647.9 L2130.1,647.9 L2131.3,648.0 L2132.5,648.1 L2133.7,648.2 L2134.9,648.2 L2136.1,648.3 L2137.3,648.4 L2138.5,648.5 L2139.7,648.5 L2140.9,648.6 L2142.1,648.7 L2143.2,648.8 L2144.4,648.8 L2145.6,648.9 L2146.8,649.0 L2147.3,649.0" stroke="#00f"/>
</g>
</svg>
<!-- legend -->
<rect x="1329.5" y="152.2" width="780.2" height="382.1" fill="#fff" stroke="#000" stroke-width="2.2"/>
<g stroke-width="3.8" fill="none">
<path d="M1353,215.5 H1402" stroke="#00f"/>
<path d="M1353,307.6 H1402" stroke="#f00"/>
<path d="M1353,398.3 H1402" stroke="#000"/>
<path d="M1841.4,206.7 H1890" stroke="#000"/>
<path d="M1841.4,224.8 H1890" stroke="#f00"/>
<path d="M1841.4,298 H1855.2 M1872.9,298 H1890" stroke="#000"/>
<path d="M1841.4,316 H1855.2 M1872.9,316 H1890" stroke="#f00"/>
<path d="M1873.1,380.3 H1890.4" stroke="#000"/>
<path d="M1873.1,398.8 H1890.4" stroke="#f00"/>
</g>
<g stroke="none">
<circle cx="1843.4" cy="380.3" r="2.3" fill="#000"/><circle cx="1858.9" cy="380.3" r="2.3" fill="#000"/>
<circle cx="1843.4" cy="398.8" r="2.3" fill="#d00"/><circle cx="1858.9" cy="398.8" r="2.3" fill="#d00"/>
<circle cx="1855.5" cy="471.7" r="2.6" fill="#000"/><circle cx="1871.8" cy="471.7" r="2.6" fill="#000"/><circle cx="1888.2" cy="471.7" r="2.6" fill="#000"/>
<circle cx="1855.5" cy="490.3" r="2.6" fill="#d00"/><circle cx="1871.8" cy="490.3" r="2.6" fill="#d00"/><circle cx="1888.2" cy="490.3" r="2.6" fill="#d00"/>
</g>
<g font-weight="bold" font-size="58">
<text x="1411.5" y="230.8" fill="#00f" textLength="351" lengthAdjust="spacingAndGlyphs">compression</text>
<text x="1411.5" y="321.9" fill="#f00" textLength="310" lengthAdjust="spacingAndGlyphs">rarefaction</text>
<text x="1411.5" y="413.1" fill="#000" textLength="427" lengthAdjust="spacingAndGlyphs">summed signal</text>
</g>
<g font-size="58">
<text x="1912" y="227">50 ns</text>
<text x="1912" y="318.3">160 ns</text>
<text x="1912" y="410">500 ns</text>
<text x="1912" y="500">1 <tspan font-style="italic">μs</tspan></text>
</g>
</svg>
</body></html>
